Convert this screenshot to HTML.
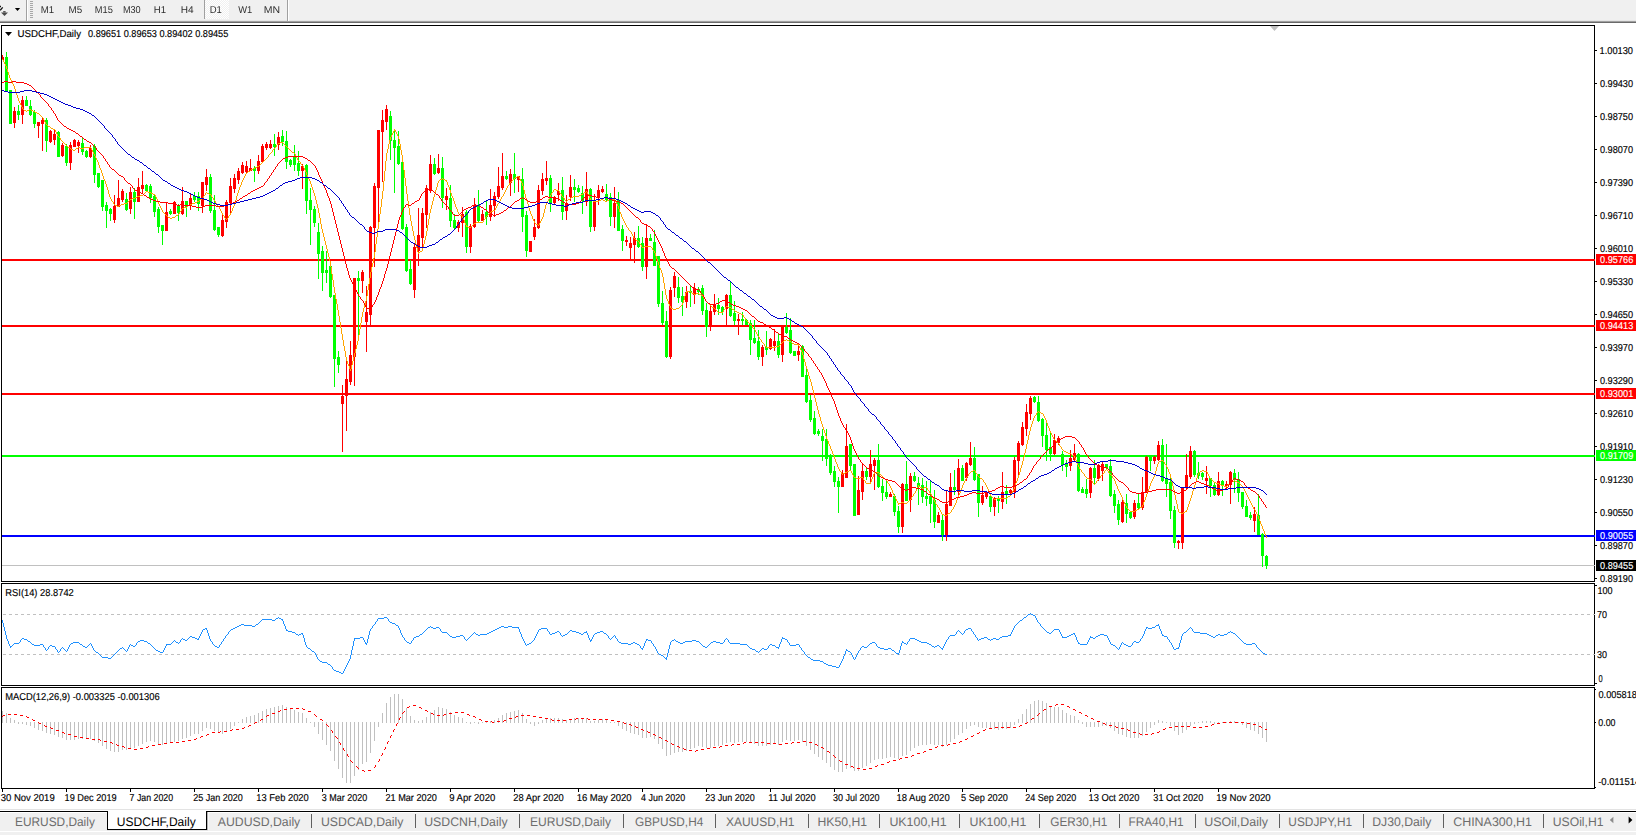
<!DOCTYPE html>
<html><head><meta charset="utf-8"><title>USDCHF,Daily</title>
<style>html,body{margin:0;padding:0;background:#fff;overflow:hidden}svg{display:block}text{white-space:pre;text-rendering:geometricPrecision}</style>
</head><body>
<svg width="1636" height="835" viewBox="0 0 1636 835" font-family="'Liberation Sans',sans-serif"><rect x="0" y="0" width="1636" height="835" fill="#ffffff"/>
<rect x="0" y="0" width="1636" height="20" fill="#F0F0F0"/>
<rect x="0" y="20" width="1636" height="1" fill="#E6E6E6"/>
<rect x="0" y="21" width="1636" height="1" fill="#A0A0A0"/>
<rect x="0" y="22" width="1636" height="1" fill="#6A6A6A"/>
<rect x="26" y="0" width="1" height="21" fill="#A0A0A0"/>
<rect x="27" y="0" width="1" height="21" fill="#FFFFFF"/>
<rect x="287" y="0" width="1" height="21" fill="#A0A0A0"/>
<rect x="288" y="0" width="1" height="21" fill="#FFFFFF"/>
<rect x="204" y="0" width="1" height="19" fill="#A0A0A0"/>
<defs><pattern id="chk" x="0" y="0" width="2" height="2" patternUnits="userSpaceOnUse"><rect width="2" height="2" fill="#F0F0F0"/><rect width="1" height="1" fill="#FFFFFF"/><rect x="1" y="1" width="1" height="1" fill="#FFFFFF"/></pattern></defs>
<rect x="205" y="0" width="24" height="19" fill="url(#chk)" shape-rendering="crispEdges"/>
<rect x="30" y="1" width="3" height="1" fill="#A8A8A8"/>
<rect x="30" y="3" width="3" height="1" fill="#A8A8A8"/>
<rect x="30" y="5" width="3" height="1" fill="#A8A8A8"/>
<rect x="30" y="7" width="3" height="1" fill="#A8A8A8"/>
<rect x="30" y="9" width="3" height="1" fill="#A8A8A8"/>
<rect x="30" y="11" width="3" height="1" fill="#A8A8A8"/>
<rect x="30" y="13" width="3" height="1" fill="#A8A8A8"/>
<rect x="30" y="15" width="3" height="1" fill="#A8A8A8"/>
<rect x="30" y="17" width="3" height="1" fill="#A8A8A8"/>
<path d="M0 6.5 H1 M2.7 7.4 L0.2 10.3" stroke="#111" stroke-width="1.3" fill="none"/>
<path d="M1 12.4 L8 12.4 L4.5 16 Z" fill="#4A4A4A"/><rect x="3.2" y="11.1" width="2.4" height="1.4" fill="#4A4A4A"/>
<path d="M14.9 7.9 L20.1 7.9 L17.5 11 Z" fill="#000"/>
<defs><filter id="nf"><feOffset dx="0" dy="0"/></filter></defs><g filter="url(#nf)">
<text x="40.74" y="13" font-size="10" fill="#2E2E2E" textLength="13.37" lengthAdjust="spacingAndGlyphs" >M1</text>
<text x="68.62" y="13" font-size="10" fill="#2E2E2E" textLength="13.69" lengthAdjust="spacingAndGlyphs" >M5</text>
<text x="94.77" y="13" font-size="10" fill="#2E2E2E" textLength="18.02" lengthAdjust="spacingAndGlyphs" >M15</text>
<text x="122.88" y="13" font-size="10" fill="#2E2E2E" textLength="17.81" lengthAdjust="spacingAndGlyphs" >M30</text>
<text x="153.74" y="13" font-size="10" fill="#2E2E2E" textLength="12.26" lengthAdjust="spacingAndGlyphs" >H1</text>
<text x="180.79" y="13" font-size="10" fill="#2E2E2E" textLength="12.90" lengthAdjust="spacingAndGlyphs" >H4</text>
<text x="209.75" y="13" font-size="10" fill="#2E2E2E" textLength="12.16" lengthAdjust="spacingAndGlyphs" >D1</text>
<text x="238.20" y="13" font-size="10" fill="#2E2E2E" textLength="14.00" lengthAdjust="spacingAndGlyphs" >W1</text>
<text x="263.75" y="13" font-size="10" fill="#2E2E2E" textLength="16.34" lengthAdjust="spacingAndGlyphs" >MN</text>
</g>
<rect x="1.5" y="25.5" width="1593" height="556" fill="none" stroke="#000" stroke-width="1"/>
<rect x="1.5" y="583.5" width="1593" height="102" fill="none" stroke="#000" stroke-width="1"/>
<rect x="1.5" y="687.5" width="1593" height="101" fill="none" stroke="#000" stroke-width="1"/>
<path d="M1270 26 L1279 26 L1274.5 31 Z" fill="#C0C0C0"/>
<defs><clipPath id="cm"><rect x="2" y="26" width="1592" height="555"/></clipPath><clipPath id="cr"><rect x="2" y="584" width="1592" height="101"/></clipPath><clipPath id="cd"><rect x="2" y="688" width="1592" height="100"/></clipPath></defs>
<g shape-rendering="crispEdges">
<rect x="2" y="565" width="1593" height="1" fill="#C0C0C0"/>
<rect x="2" y="259" width="1593" height="2" fill="#FF0000"/>
<rect x="2" y="325" width="1593" height="2" fill="#FF0000"/>
<rect x="2" y="393" width="1593" height="2" fill="#FF0000"/>
<rect x="2" y="455" width="1593" height="2" fill="#00FF00"/>
<rect x="2" y="535" width="1593" height="2" fill="#0000FF"/>
</g>
<g clip-path="url(#cm)" shape-rendering="crispEdges">
<rect x="2" y="55" width="1" height="5" fill="#FF0000"/>
<rect x="1" y="57" width="3" height="3" fill="#FF0000"/>
<rect x="6" y="52" width="1" height="39" fill="#00FF00"/>
<rect x="5" y="57" width="3" height="34" fill="#00FF00"/>
<rect x="10" y="90" width="1" height="34" fill="#00FF00"/>
<rect x="9" y="90" width="3" height="34" fill="#00FF00"/>
<rect x="14" y="107" width="1" height="21" fill="#FF0000"/>
<rect x="13" y="111" width="3" height="12" fill="#FF0000"/>
<rect x="18" y="105" width="1" height="15" fill="#00FF00"/>
<rect x="17" y="111" width="3" height="4" fill="#00FF00"/>
<rect x="22" y="96" width="1" height="28" fill="#FF0000"/>
<rect x="21" y="100" width="3" height="15" fill="#FF0000"/>
<rect x="26" y="96" width="1" height="10" fill="#00FF00"/>
<rect x="25" y="100" width="3" height="6" fill="#00FF00"/>
<rect x="30" y="100" width="1" height="16" fill="#00FF00"/>
<rect x="29" y="106" width="3" height="9" fill="#00FF00"/>
<rect x="34" y="110" width="1" height="18" fill="#00FF00"/>
<rect x="33" y="112" width="3" height="12" fill="#00FF00"/>
<rect x="38" y="122" width="1" height="16" fill="#FF0000"/>
<rect x="37" y="122" width="3" height="4" fill="#FF0000"/>
<rect x="42" y="117" width="1" height="34" fill="#FF0000"/>
<rect x="41" y="120" width="3" height="4" fill="#FF0000"/>
<rect x="46" y="118" width="1" height="34" fill="#00FF00"/>
<rect x="45" y="120" width="3" height="21" fill="#00FF00"/>
<rect x="50" y="130" width="1" height="13" fill="#FF0000"/>
<rect x="49" y="131" width="3" height="11" fill="#FF0000"/>
<rect x="54" y="130" width="1" height="15" fill="#FF0000"/>
<rect x="53" y="134" width="3" height="6" fill="#FF0000"/>
<rect x="58" y="131" width="1" height="26" fill="#00FF00"/>
<rect x="57" y="132" width="3" height="25" fill="#00FF00"/>
<rect x="62" y="143" width="1" height="14" fill="#FF0000"/>
<rect x="61" y="145" width="3" height="11" fill="#FF0000"/>
<rect x="66" y="144" width="1" height="22" fill="#00FF00"/>
<rect x="65" y="146" width="3" height="17" fill="#00FF00"/>
<rect x="70" y="142" width="1" height="28" fill="#FF0000"/>
<rect x="69" y="145" width="3" height="18" fill="#FF0000"/>
<rect x="74" y="139" width="1" height="8" fill="#FF0000"/>
<rect x="73" y="140" width="3" height="7" fill="#FF0000"/>
<rect x="78" y="140" width="1" height="13" fill="#FF0000"/>
<rect x="77" y="142" width="3" height="4" fill="#FF0000"/>
<rect x="82" y="138" width="1" height="17" fill="#00FF00"/>
<rect x="81" y="143" width="3" height="9" fill="#00FF00"/>
<rect x="86" y="150" width="1" height="8" fill="#00FF00"/>
<rect x="85" y="151" width="3" height="6" fill="#00FF00"/>
<rect x="90" y="145" width="1" height="13" fill="#FF0000"/>
<rect x="89" y="148" width="3" height="9" fill="#FF0000"/>
<rect x="94" y="144" width="1" height="39" fill="#00FF00"/>
<rect x="93" y="146" width="3" height="29" fill="#00FF00"/>
<rect x="98" y="173" width="1" height="15" fill="#00FF00"/>
<rect x="97" y="173" width="3" height="14" fill="#00FF00"/>
<rect x="102" y="180" width="1" height="31" fill="#00FF00"/>
<rect x="101" y="180" width="3" height="27" fill="#00FF00"/>
<rect x="106" y="202" width="1" height="26" fill="#00FF00"/>
<rect x="105" y="205" width="3" height="6" fill="#00FF00"/>
<rect x="110" y="208" width="1" height="13" fill="#00FF00"/>
<rect x="109" y="209" width="3" height="5" fill="#00FF00"/>
<rect x="114" y="195" width="1" height="28" fill="#FF0000"/>
<rect x="113" y="206" width="3" height="14" fill="#FF0000"/>
<rect x="118" y="180" width="1" height="27" fill="#FF0000"/>
<rect x="117" y="198" width="3" height="9" fill="#FF0000"/>
<rect x="122" y="189" width="1" height="13" fill="#FF0000"/>
<rect x="121" y="191" width="3" height="9" fill="#FF0000"/>
<rect x="126" y="193" width="1" height="18" fill="#00FF00"/>
<rect x="125" y="199" width="3" height="11" fill="#00FF00"/>
<rect x="130" y="187" width="1" height="27" fill="#FF0000"/>
<rect x="129" y="192" width="3" height="17" fill="#FF0000"/>
<rect x="134" y="188" width="1" height="31" fill="#00FF00"/>
<rect x="133" y="192" width="3" height="10" fill="#00FF00"/>
<rect x="138" y="178" width="1" height="24" fill="#FF0000"/>
<rect x="137" y="187" width="3" height="15" fill="#FF0000"/>
<rect x="142" y="171" width="1" height="23" fill="#FF0000"/>
<rect x="141" y="185" width="3" height="4" fill="#FF0000"/>
<rect x="146" y="184" width="1" height="8" fill="#00FF00"/>
<rect x="145" y="185" width="3" height="6" fill="#00FF00"/>
<rect x="150" y="184" width="1" height="19" fill="#00FF00"/>
<rect x="149" y="186" width="3" height="12" fill="#00FF00"/>
<rect x="154" y="195" width="1" height="22" fill="#00FF00"/>
<rect x="153" y="196" width="3" height="16" fill="#00FF00"/>
<rect x="158" y="207" width="1" height="26" fill="#00FF00"/>
<rect x="157" y="209" width="3" height="18" fill="#00FF00"/>
<rect x="162" y="225" width="1" height="20" fill="#00FF00"/>
<rect x="161" y="225" width="3" height="6" fill="#00FF00"/>
<rect x="166" y="202" width="1" height="29" fill="#FF0000"/>
<rect x="165" y="212" width="3" height="19" fill="#FF0000"/>
<rect x="170" y="209" width="1" height="6" fill="#00FF00"/>
<rect x="169" y="211" width="3" height="3" fill="#00FF00"/>
<rect x="174" y="201" width="1" height="13" fill="#FF0000"/>
<rect x="173" y="202" width="3" height="12" fill="#FF0000"/>
<rect x="178" y="204" width="1" height="17" fill="#00FF00"/>
<rect x="177" y="205" width="3" height="8" fill="#00FF00"/>
<rect x="182" y="187" width="1" height="28" fill="#FF0000"/>
<rect x="181" y="201" width="3" height="13" fill="#FF0000"/>
<rect x="186" y="201" width="1" height="16" fill="#00FF00"/>
<rect x="185" y="201" width="3" height="6" fill="#00FF00"/>
<rect x="190" y="194" width="1" height="16" fill="#FF0000"/>
<rect x="189" y="198" width="3" height="8" fill="#FF0000"/>
<rect x="194" y="192" width="1" height="10" fill="#00FF00"/>
<rect x="193" y="196" width="3" height="4" fill="#00FF00"/>
<rect x="198" y="192" width="1" height="19" fill="#00FF00"/>
<rect x="197" y="196" width="3" height="8" fill="#00FF00"/>
<rect x="202" y="182" width="1" height="31" fill="#FF0000"/>
<rect x="201" y="182" width="3" height="24" fill="#FF0000"/>
<rect x="206" y="169" width="1" height="22" fill="#FF0000"/>
<rect x="205" y="177" width="3" height="8" fill="#FF0000"/>
<rect x="210" y="174" width="1" height="39" fill="#00FF00"/>
<rect x="209" y="177" width="3" height="34" fill="#00FF00"/>
<rect x="214" y="195" width="1" height="36" fill="#00FF00"/>
<rect x="213" y="210" width="3" height="20" fill="#00FF00"/>
<rect x="218" y="227" width="1" height="10" fill="#00FF00"/>
<rect x="217" y="227" width="3" height="8" fill="#00FF00"/>
<rect x="222" y="215" width="1" height="22" fill="#FF0000"/>
<rect x="221" y="220" width="3" height="16" fill="#FF0000"/>
<rect x="226" y="200" width="1" height="28" fill="#FF0000"/>
<rect x="225" y="202" width="3" height="20" fill="#FF0000"/>
<rect x="230" y="178" width="1" height="36" fill="#FF0000"/>
<rect x="229" y="186" width="3" height="17" fill="#FF0000"/>
<rect x="234" y="174" width="1" height="19" fill="#FF0000"/>
<rect x="233" y="178" width="3" height="11" fill="#FF0000"/>
<rect x="238" y="168" width="1" height="16" fill="#FF0000"/>
<rect x="237" y="171" width="3" height="9" fill="#FF0000"/>
<rect x="242" y="162" width="1" height="12" fill="#FF0000"/>
<rect x="241" y="165" width="3" height="8" fill="#FF0000"/>
<rect x="246" y="161" width="1" height="12" fill="#FF0000"/>
<rect x="245" y="166" width="3" height="6" fill="#FF0000"/>
<rect x="250" y="159" width="1" height="12" fill="#FF0000"/>
<rect x="249" y="168" width="3" height="3" fill="#FF0000"/>
<rect x="254" y="166" width="1" height="16" fill="#00FF00"/>
<rect x="253" y="168" width="3" height="3" fill="#00FF00"/>
<rect x="258" y="155" width="1" height="19" fill="#FF0000"/>
<rect x="257" y="161" width="3" height="10" fill="#FF0000"/>
<rect x="262" y="144" width="1" height="19" fill="#FF0000"/>
<rect x="261" y="146" width="3" height="16" fill="#FF0000"/>
<rect x="266" y="142" width="1" height="8" fill="#FF0000"/>
<rect x="265" y="144" width="3" height="4" fill="#FF0000"/>
<rect x="270" y="140" width="1" height="9" fill="#FF0000"/>
<rect x="269" y="144" width="3" height="4" fill="#FF0000"/>
<rect x="274" y="134" width="1" height="22" fill="#00FF00"/>
<rect x="273" y="144" width="3" height="3" fill="#00FF00"/>
<rect x="278" y="132" width="1" height="18" fill="#FF0000"/>
<rect x="277" y="137" width="3" height="8" fill="#FF0000"/>
<rect x="282" y="130" width="1" height="16" fill="#00FF00"/>
<rect x="281" y="136" width="3" height="6" fill="#00FF00"/>
<rect x="286" y="131" width="1" height="38" fill="#00FF00"/>
<rect x="285" y="141" width="3" height="21" fill="#00FF00"/>
<rect x="290" y="159" width="1" height="8" fill="#00FF00"/>
<rect x="289" y="160" width="3" height="5" fill="#00FF00"/>
<rect x="294" y="145" width="1" height="26" fill="#00FF00"/>
<rect x="293" y="157" width="3" height="8" fill="#00FF00"/>
<rect x="298" y="151" width="1" height="25" fill="#00FF00"/>
<rect x="297" y="163" width="3" height="8" fill="#00FF00"/>
<rect x="302" y="164" width="1" height="25" fill="#FF0000"/>
<rect x="301" y="166" width="3" height="5" fill="#FF0000"/>
<rect x="306" y="164" width="1" height="50" fill="#00FF00"/>
<rect x="305" y="165" width="3" height="36" fill="#00FF00"/>
<rect x="310" y="188" width="1" height="57" fill="#00FF00"/>
<rect x="309" y="200" width="3" height="10" fill="#00FF00"/>
<rect x="314" y="206" width="1" height="21" fill="#00FF00"/>
<rect x="313" y="209" width="3" height="14" fill="#00FF00"/>
<rect x="318" y="223" width="1" height="56" fill="#00FF00"/>
<rect x="317" y="232" width="3" height="22" fill="#00FF00"/>
<rect x="322" y="246" width="1" height="45" fill="#00FF00"/>
<rect x="321" y="251" width="3" height="22" fill="#00FF00"/>
<rect x="326" y="251" width="1" height="32" fill="#00FF00"/>
<rect x="325" y="270" width="3" height="3" fill="#00FF00"/>
<rect x="330" y="266" width="1" height="32" fill="#00FF00"/>
<rect x="329" y="266" width="3" height="31" fill="#00FF00"/>
<rect x="334" y="295" width="1" height="92" fill="#00FF00"/>
<rect x="333" y="295" width="3" height="64" fill="#00FF00"/>
<rect x="338" y="351" width="1" height="22" fill="#00FF00"/>
<rect x="337" y="357" width="3" height="8" fill="#00FF00"/>
<rect x="342" y="385" width="1" height="67" fill="#FF0000"/>
<rect x="341" y="396" width="3" height="8" fill="#FF0000"/>
<rect x="346" y="360" width="1" height="71" fill="#FF0000"/>
<rect x="345" y="379" width="3" height="17" fill="#FF0000"/>
<rect x="350" y="341" width="1" height="44" fill="#FF0000"/>
<rect x="349" y="355" width="3" height="27" fill="#FF0000"/>
<rect x="354" y="278" width="1" height="108" fill="#FF0000"/>
<rect x="353" y="278" width="3" height="79" fill="#FF0000"/>
<rect x="358" y="271" width="1" height="64" fill="#00FF00"/>
<rect x="357" y="278" width="3" height="3" fill="#00FF00"/>
<rect x="362" y="270" width="1" height="23" fill="#FF0000"/>
<rect x="361" y="272" width="3" height="9" fill="#FF0000"/>
<rect x="366" y="286" width="1" height="66" fill="#FF0000"/>
<rect x="365" y="312" width="3" height="10" fill="#FF0000"/>
<rect x="370" y="226" width="1" height="100" fill="#FF0000"/>
<rect x="369" y="227" width="3" height="88" fill="#FF0000"/>
<rect x="374" y="183" width="1" height="84" fill="#FF0000"/>
<rect x="373" y="186" width="3" height="42" fill="#FF0000"/>
<rect x="378" y="130" width="1" height="93" fill="#FF0000"/>
<rect x="377" y="130" width="3" height="58" fill="#FF0000"/>
<rect x="382" y="110" width="1" height="72" fill="#FF0000"/>
<rect x="381" y="120" width="3" height="12" fill="#FF0000"/>
<rect x="386" y="105" width="1" height="25" fill="#FF0000"/>
<rect x="385" y="109" width="3" height="13" fill="#FF0000"/>
<rect x="390" y="111" width="1" height="49" fill="#00FF00"/>
<rect x="389" y="116" width="3" height="25" fill="#00FF00"/>
<rect x="394" y="129" width="1" height="64" fill="#00FF00"/>
<rect x="393" y="140" width="3" height="8" fill="#00FF00"/>
<rect x="398" y="131" width="1" height="34" fill="#00FF00"/>
<rect x="397" y="146" width="3" height="18" fill="#00FF00"/>
<rect x="402" y="162" width="1" height="68" fill="#00FF00"/>
<rect x="401" y="162" width="3" height="67" fill="#00FF00"/>
<rect x="406" y="224" width="1" height="48" fill="#00FF00"/>
<rect x="405" y="227" width="3" height="44" fill="#00FF00"/>
<rect x="410" y="260" width="1" height="25" fill="#00FF00"/>
<rect x="409" y="269" width="3" height="15" fill="#00FF00"/>
<rect x="414" y="244" width="1" height="54" fill="#FF0000"/>
<rect x="413" y="247" width="3" height="43" fill="#FF0000"/>
<rect x="418" y="208" width="1" height="58" fill="#FF0000"/>
<rect x="417" y="235" width="3" height="16" fill="#FF0000"/>
<rect x="422" y="208" width="1" height="40" fill="#FF0000"/>
<rect x="421" y="213" width="3" height="25" fill="#FF0000"/>
<rect x="426" y="185" width="1" height="43" fill="#FF0000"/>
<rect x="425" y="188" width="3" height="27" fill="#FF0000"/>
<rect x="430" y="155" width="1" height="38" fill="#FF0000"/>
<rect x="429" y="164" width="3" height="27" fill="#FF0000"/>
<rect x="434" y="158" width="1" height="17" fill="#00FF00"/>
<rect x="433" y="164" width="3" height="10" fill="#00FF00"/>
<rect x="438" y="154" width="1" height="20" fill="#FF0000"/>
<rect x="437" y="168" width="3" height="5" fill="#FF0000"/>
<rect x="442" y="157" width="1" height="51" fill="#00FF00"/>
<rect x="441" y="168" width="3" height="30" fill="#00FF00"/>
<rect x="446" y="188" width="1" height="22" fill="#FF0000"/>
<rect x="445" y="196" width="3" height="4" fill="#FF0000"/>
<rect x="450" y="185" width="1" height="42" fill="#00FF00"/>
<rect x="449" y="198" width="3" height="23" fill="#00FF00"/>
<rect x="454" y="214" width="1" height="15" fill="#00FF00"/>
<rect x="453" y="220" width="3" height="8" fill="#00FF00"/>
<rect x="458" y="220" width="1" height="12" fill="#FF0000"/>
<rect x="457" y="222" width="3" height="6" fill="#FF0000"/>
<rect x="462" y="207" width="1" height="30" fill="#FF0000"/>
<rect x="461" y="214" width="3" height="9" fill="#FF0000"/>
<rect x="466" y="210" width="1" height="43" fill="#00FF00"/>
<rect x="465" y="212" width="3" height="35" fill="#00FF00"/>
<rect x="470" y="224" width="1" height="29" fill="#FF0000"/>
<rect x="469" y="226" width="3" height="21" fill="#FF0000"/>
<rect x="474" y="198" width="1" height="30" fill="#FF0000"/>
<rect x="473" y="205" width="3" height="22" fill="#FF0000"/>
<rect x="478" y="190" width="1" height="33" fill="#00FF00"/>
<rect x="477" y="205" width="3" height="16" fill="#00FF00"/>
<rect x="482" y="210" width="1" height="11" fill="#FF0000"/>
<rect x="481" y="214" width="3" height="7" fill="#FF0000"/>
<rect x="486" y="201" width="1" height="24" fill="#00FF00"/>
<rect x="485" y="212" width="3" height="5" fill="#00FF00"/>
<rect x="490" y="189" width="1" height="32" fill="#FF0000"/>
<rect x="489" y="205" width="3" height="12" fill="#FF0000"/>
<rect x="494" y="192" width="1" height="25" fill="#FF0000"/>
<rect x="493" y="196" width="3" height="10" fill="#FF0000"/>
<rect x="498" y="167" width="1" height="32" fill="#FF0000"/>
<rect x="497" y="186" width="3" height="11" fill="#FF0000"/>
<rect x="502" y="153" width="1" height="37" fill="#FF0000"/>
<rect x="501" y="176" width="3" height="12" fill="#FF0000"/>
<rect x="506" y="171" width="1" height="9" fill="#00FF00"/>
<rect x="505" y="176" width="3" height="3" fill="#00FF00"/>
<rect x="510" y="169" width="1" height="27" fill="#FF0000"/>
<rect x="509" y="174" width="3" height="9" fill="#FF0000"/>
<rect x="514" y="153" width="1" height="40" fill="#00FF00"/>
<rect x="513" y="174" width="3" height="5" fill="#00FF00"/>
<rect x="518" y="176" width="1" height="16" fill="#FF0000"/>
<rect x="517" y="176" width="3" height="4" fill="#FF0000"/>
<rect x="522" y="168" width="1" height="64" fill="#00FF00"/>
<rect x="521" y="179" width="3" height="38" fill="#00FF00"/>
<rect x="526" y="211" width="1" height="46" fill="#00FF00"/>
<rect x="525" y="215" width="3" height="36" fill="#00FF00"/>
<rect x="530" y="241" width="1" height="11" fill="#FF0000"/>
<rect x="529" y="241" width="3" height="11" fill="#FF0000"/>
<rect x="534" y="219" width="1" height="21" fill="#FF0000"/>
<rect x="533" y="227" width="3" height="10" fill="#FF0000"/>
<rect x="538" y="185" width="1" height="44" fill="#FF0000"/>
<rect x="537" y="190" width="3" height="38" fill="#FF0000"/>
<rect x="542" y="173" width="1" height="22" fill="#FF0000"/>
<rect x="541" y="179" width="3" height="12" fill="#FF0000"/>
<rect x="546" y="161" width="1" height="24" fill="#FF0000"/>
<rect x="545" y="178" width="3" height="3" fill="#FF0000"/>
<rect x="550" y="175" width="1" height="37" fill="#00FF00"/>
<rect x="549" y="178" width="3" height="25" fill="#00FF00"/>
<rect x="554" y="196" width="1" height="8" fill="#FF0000"/>
<rect x="553" y="197" width="3" height="6" fill="#FF0000"/>
<rect x="558" y="183" width="1" height="18" fill="#FF0000"/>
<rect x="557" y="191" width="3" height="4" fill="#FF0000"/>
<rect x="562" y="177" width="1" height="43" fill="#00FF00"/>
<rect x="561" y="190" width="3" height="22" fill="#00FF00"/>
<rect x="566" y="195" width="1" height="25" fill="#FF0000"/>
<rect x="565" y="203" width="3" height="8" fill="#FF0000"/>
<rect x="570" y="175" width="1" height="26" fill="#FF0000"/>
<rect x="569" y="187" width="3" height="10" fill="#FF0000"/>
<rect x="574" y="179" width="1" height="23" fill="#00FF00"/>
<rect x="573" y="187" width="3" height="3" fill="#00FF00"/>
<rect x="578" y="185" width="1" height="8" fill="#00FF00"/>
<rect x="577" y="188" width="3" height="4" fill="#00FF00"/>
<rect x="582" y="186" width="1" height="28" fill="#00FF00"/>
<rect x="581" y="193" width="3" height="8" fill="#00FF00"/>
<rect x="586" y="172" width="1" height="34" fill="#FF0000"/>
<rect x="585" y="189" width="3" height="13" fill="#FF0000"/>
<rect x="590" y="188" width="1" height="44" fill="#00FF00"/>
<rect x="589" y="189" width="3" height="38" fill="#00FF00"/>
<rect x="594" y="194" width="1" height="37" fill="#FF0000"/>
<rect x="593" y="200" width="3" height="27" fill="#FF0000"/>
<rect x="598" y="185" width="1" height="20" fill="#FF0000"/>
<rect x="597" y="190" width="3" height="7" fill="#FF0000"/>
<rect x="602" y="186" width="1" height="7" fill="#FF0000"/>
<rect x="601" y="189" width="3" height="3" fill="#FF0000"/>
<rect x="606" y="184" width="1" height="18" fill="#00FF00"/>
<rect x="605" y="194" width="3" height="6" fill="#00FF00"/>
<rect x="610" y="193" width="1" height="33" fill="#00FF00"/>
<rect x="609" y="197" width="3" height="20" fill="#00FF00"/>
<rect x="614" y="187" width="1" height="41" fill="#FF0000"/>
<rect x="613" y="203" width="3" height="14" fill="#FF0000"/>
<rect x="618" y="192" width="1" height="39" fill="#00FF00"/>
<rect x="617" y="200" width="3" height="31" fill="#00FF00"/>
<rect x="622" y="225" width="1" height="26" fill="#00FF00"/>
<rect x="621" y="229" width="3" height="12" fill="#00FF00"/>
<rect x="626" y="236" width="1" height="10" fill="#FF0000"/>
<rect x="625" y="240" width="3" height="2" fill="#FF0000"/>
<rect x="630" y="237" width="1" height="22" fill="#FF0000"/>
<rect x="629" y="243" width="3" height="5" fill="#FF0000"/>
<rect x="634" y="232" width="1" height="31" fill="#FF0000"/>
<rect x="633" y="238" width="3" height="7" fill="#FF0000"/>
<rect x="638" y="226" width="1" height="22" fill="#00FF00"/>
<rect x="637" y="238" width="3" height="9" fill="#00FF00"/>
<rect x="642" y="237" width="1" height="34" fill="#00FF00"/>
<rect x="641" y="243" width="3" height="24" fill="#00FF00"/>
<rect x="646" y="225" width="1" height="54" fill="#FF0000"/>
<rect x="645" y="238" width="3" height="29" fill="#FF0000"/>
<rect x="650" y="234" width="1" height="7" fill="#00FF00"/>
<rect x="649" y="238" width="3" height="3" fill="#00FF00"/>
<rect x="654" y="230" width="1" height="36" fill="#00FF00"/>
<rect x="653" y="242" width="3" height="24" fill="#00FF00"/>
<rect x="658" y="256" width="1" height="51" fill="#00FF00"/>
<rect x="657" y="256" width="3" height="48" fill="#00FF00"/>
<rect x="662" y="291" width="1" height="34" fill="#00FF00"/>
<rect x="661" y="303" width="3" height="20" fill="#00FF00"/>
<rect x="666" y="311" width="1" height="47" fill="#00FF00"/>
<rect x="665" y="321" width="3" height="36" fill="#00FF00"/>
<rect x="670" y="287" width="1" height="72" fill="#FF0000"/>
<rect x="669" y="290" width="3" height="67" fill="#FF0000"/>
<rect x="674" y="272" width="1" height="25" fill="#FF0000"/>
<rect x="673" y="276" width="3" height="12" fill="#FF0000"/>
<rect x="678" y="277" width="1" height="26" fill="#00FF00"/>
<rect x="677" y="287" width="3" height="11" fill="#00FF00"/>
<rect x="682" y="287" width="1" height="29" fill="#00FF00"/>
<rect x="681" y="296" width="3" height="6" fill="#00FF00"/>
<rect x="686" y="286" width="1" height="22" fill="#FF0000"/>
<rect x="685" y="292" width="3" height="10" fill="#FF0000"/>
<rect x="690" y="286" width="1" height="21" fill="#00FF00"/>
<rect x="689" y="291" width="3" height="2" fill="#00FF00"/>
<rect x="694" y="283" width="1" height="21" fill="#FF0000"/>
<rect x="693" y="288" width="3" height="7" fill="#FF0000"/>
<rect x="698" y="287" width="1" height="8" fill="#00FF00"/>
<rect x="697" y="289" width="3" height="3" fill="#00FF00"/>
<rect x="702" y="285" width="1" height="30" fill="#00FF00"/>
<rect x="701" y="288" width="3" height="23" fill="#00FF00"/>
<rect x="706" y="303" width="1" height="34" fill="#00FF00"/>
<rect x="705" y="310" width="3" height="17" fill="#00FF00"/>
<rect x="710" y="304" width="1" height="27" fill="#FF0000"/>
<rect x="709" y="311" width="3" height="16" fill="#FF0000"/>
<rect x="714" y="294" width="1" height="21" fill="#FF0000"/>
<rect x="713" y="304" width="3" height="8" fill="#FF0000"/>
<rect x="718" y="298" width="1" height="17" fill="#00FF00"/>
<rect x="717" y="305" width="3" height="4" fill="#00FF00"/>
<rect x="722" y="306" width="1" height="9" fill="#00FF00"/>
<rect x="721" y="307" width="3" height="5" fill="#00FF00"/>
<rect x="726" y="294" width="1" height="32" fill="#FF0000"/>
<rect x="725" y="295" width="3" height="14" fill="#FF0000"/>
<rect x="730" y="282" width="1" height="35" fill="#00FF00"/>
<rect x="729" y="295" width="3" height="21" fill="#00FF00"/>
<rect x="734" y="301" width="1" height="24" fill="#00FF00"/>
<rect x="733" y="313" width="3" height="8" fill="#00FF00"/>
<rect x="738" y="314" width="1" height="21" fill="#FF0000"/>
<rect x="737" y="319" width="3" height="2" fill="#FF0000"/>
<rect x="742" y="312" width="1" height="13" fill="#00FF00"/>
<rect x="741" y="319" width="3" height="2" fill="#00FF00"/>
<rect x="746" y="319" width="1" height="6" fill="#00FF00"/>
<rect x="745" y="320" width="3" height="5" fill="#00FF00"/>
<rect x="750" y="320" width="1" height="35" fill="#00FF00"/>
<rect x="749" y="323" width="3" height="17" fill="#00FF00"/>
<rect x="754" y="320" width="1" height="24" fill="#00FF00"/>
<rect x="753" y="338" width="3" height="5" fill="#00FF00"/>
<rect x="758" y="330" width="1" height="30" fill="#00FF00"/>
<rect x="757" y="341" width="3" height="16" fill="#00FF00"/>
<rect x="762" y="345" width="1" height="21" fill="#FF0000"/>
<rect x="761" y="347" width="3" height="10" fill="#FF0000"/>
<rect x="766" y="331" width="1" height="24" fill="#00FF00"/>
<rect x="765" y="347" width="3" height="3" fill="#00FF00"/>
<rect x="770" y="338" width="1" height="12" fill="#FF0000"/>
<rect x="769" y="339" width="3" height="10" fill="#FF0000"/>
<rect x="774" y="329" width="1" height="22" fill="#FF0000"/>
<rect x="773" y="341" width="3" height="5" fill="#FF0000"/>
<rect x="778" y="334" width="1" height="24" fill="#00FF00"/>
<rect x="777" y="341" width="3" height="14" fill="#00FF00"/>
<rect x="782" y="327" width="1" height="35" fill="#FF0000"/>
<rect x="781" y="327" width="3" height="28" fill="#FF0000"/>
<rect x="786" y="313" width="1" height="21" fill="#00FF00"/>
<rect x="785" y="327" width="3" height="6" fill="#00FF00"/>
<rect x="790" y="318" width="1" height="36" fill="#00FF00"/>
<rect x="789" y="330" width="3" height="23" fill="#00FF00"/>
<rect x="794" y="351" width="1" height="5" fill="#00FF00"/>
<rect x="793" y="351" width="3" height="5" fill="#00FF00"/>
<rect x="798" y="345" width="1" height="16" fill="#FF0000"/>
<rect x="797" y="351" width="3" height="4" fill="#FF0000"/>
<rect x="802" y="345" width="1" height="32" fill="#00FF00"/>
<rect x="801" y="346" width="3" height="31" fill="#00FF00"/>
<rect x="806" y="369" width="1" height="34" fill="#00FF00"/>
<rect x="805" y="375" width="3" height="27" fill="#00FF00"/>
<rect x="810" y="395" width="1" height="27" fill="#00FF00"/>
<rect x="809" y="400" width="3" height="20" fill="#00FF00"/>
<rect x="814" y="411" width="1" height="24" fill="#00FF00"/>
<rect x="813" y="418" width="3" height="16" fill="#00FF00"/>
<rect x="818" y="429" width="1" height="7" fill="#00FF00"/>
<rect x="817" y="431" width="3" height="3" fill="#00FF00"/>
<rect x="822" y="429" width="1" height="32" fill="#00FF00"/>
<rect x="821" y="436" width="3" height="5" fill="#00FF00"/>
<rect x="826" y="429" width="1" height="37" fill="#00FF00"/>
<rect x="825" y="439" width="3" height="20" fill="#00FF00"/>
<rect x="830" y="454" width="1" height="21" fill="#00FF00"/>
<rect x="829" y="455" width="3" height="18" fill="#00FF00"/>
<rect x="834" y="466" width="1" height="21" fill="#00FF00"/>
<rect x="833" y="471" width="3" height="11" fill="#00FF00"/>
<rect x="838" y="477" width="1" height="36" fill="#00FF00"/>
<rect x="837" y="481" width="3" height="6" fill="#00FF00"/>
<rect x="842" y="470" width="1" height="17" fill="#FF0000"/>
<rect x="841" y="473" width="3" height="14" fill="#FF0000"/>
<rect x="846" y="424" width="1" height="54" fill="#FF0000"/>
<rect x="845" y="446" width="3" height="32" fill="#FF0000"/>
<rect x="850" y="444" width="1" height="26" fill="#00FF00"/>
<rect x="849" y="444" width="3" height="22" fill="#00FF00"/>
<rect x="854" y="464" width="1" height="52" fill="#00FF00"/>
<rect x="853" y="464" width="3" height="52" fill="#00FF00"/>
<rect x="858" y="476" width="1" height="39" fill="#FF0000"/>
<rect x="857" y="490" width="3" height="25" fill="#FF0000"/>
<rect x="862" y="463" width="1" height="37" fill="#FF0000"/>
<rect x="861" y="471" width="3" height="21" fill="#FF0000"/>
<rect x="866" y="467" width="1" height="13" fill="#00FF00"/>
<rect x="865" y="471" width="3" height="6" fill="#00FF00"/>
<rect x="870" y="450" width="1" height="32" fill="#FF0000"/>
<rect x="869" y="464" width="3" height="13" fill="#FF0000"/>
<rect x="874" y="458" width="1" height="32" fill="#FF0000"/>
<rect x="873" y="460" width="3" height="6" fill="#FF0000"/>
<rect x="878" y="444" width="1" height="44" fill="#00FF00"/>
<rect x="877" y="460" width="3" height="27" fill="#00FF00"/>
<rect x="882" y="479" width="1" height="22" fill="#00FF00"/>
<rect x="881" y="486" width="3" height="7" fill="#00FF00"/>
<rect x="886" y="481" width="1" height="18" fill="#00FF00"/>
<rect x="885" y="492" width="3" height="5" fill="#00FF00"/>
<rect x="890" y="492" width="1" height="5" fill="#FF0000"/>
<rect x="889" y="494" width="3" height="3" fill="#FF0000"/>
<rect x="894" y="494" width="1" height="22" fill="#00FF00"/>
<rect x="893" y="496" width="3" height="16" fill="#00FF00"/>
<rect x="898" y="506" width="1" height="27" fill="#00FF00"/>
<rect x="897" y="511" width="3" height="16" fill="#00FF00"/>
<rect x="902" y="483" width="1" height="50" fill="#FF0000"/>
<rect x="901" y="484" width="3" height="43" fill="#FF0000"/>
<rect x="906" y="461" width="1" height="40" fill="#00FF00"/>
<rect x="905" y="484" width="3" height="17" fill="#00FF00"/>
<rect x="910" y="473" width="1" height="39" fill="#FF0000"/>
<rect x="909" y="476" width="3" height="24" fill="#FF0000"/>
<rect x="914" y="472" width="1" height="10" fill="#00FF00"/>
<rect x="913" y="476" width="3" height="5" fill="#00FF00"/>
<rect x="918" y="477" width="1" height="28" fill="#00FF00"/>
<rect x="917" y="483" width="3" height="4" fill="#00FF00"/>
<rect x="922" y="478" width="1" height="25" fill="#00FF00"/>
<rect x="921" y="485" width="3" height="12" fill="#00FF00"/>
<rect x="926" y="481" width="1" height="25" fill="#00FF00"/>
<rect x="925" y="496" width="3" height="3" fill="#00FF00"/>
<rect x="930" y="480" width="1" height="43" fill="#00FF00"/>
<rect x="929" y="496" width="3" height="8" fill="#00FF00"/>
<rect x="934" y="490" width="1" height="38" fill="#00FF00"/>
<rect x="933" y="500" width="3" height="22" fill="#00FF00"/>
<rect x="938" y="512" width="1" height="11" fill="#FF0000"/>
<rect x="937" y="515" width="3" height="8" fill="#FF0000"/>
<rect x="942" y="514" width="1" height="27" fill="#00FF00"/>
<rect x="941" y="520" width="3" height="15" fill="#00FF00"/>
<rect x="946" y="490" width="1" height="51" fill="#FF0000"/>
<rect x="945" y="504" width="3" height="31" fill="#FF0000"/>
<rect x="950" y="473" width="1" height="33" fill="#FF0000"/>
<rect x="949" y="487" width="3" height="19" fill="#FF0000"/>
<rect x="954" y="470" width="1" height="25" fill="#00FF00"/>
<rect x="953" y="487" width="3" height="3" fill="#00FF00"/>
<rect x="958" y="459" width="1" height="36" fill="#FF0000"/>
<rect x="957" y="468" width="3" height="24" fill="#FF0000"/>
<rect x="962" y="465" width="1" height="16" fill="#00FF00"/>
<rect x="961" y="468" width="3" height="13" fill="#00FF00"/>
<rect x="966" y="462" width="1" height="19" fill="#FF0000"/>
<rect x="965" y="463" width="3" height="15" fill="#FF0000"/>
<rect x="970" y="442" width="1" height="24" fill="#FF0000"/>
<rect x="969" y="458" width="3" height="7" fill="#FF0000"/>
<rect x="974" y="447" width="1" height="34" fill="#00FF00"/>
<rect x="973" y="458" width="3" height="22" fill="#00FF00"/>
<rect x="978" y="474" width="1" height="43" fill="#00FF00"/>
<rect x="977" y="474" width="3" height="29" fill="#00FF00"/>
<rect x="982" y="486" width="1" height="19" fill="#FF0000"/>
<rect x="981" y="495" width="3" height="8" fill="#FF0000"/>
<rect x="986" y="491" width="1" height="8" fill="#FF0000"/>
<rect x="985" y="492" width="3" height="5" fill="#FF0000"/>
<rect x="990" y="496" width="1" height="16" fill="#00FF00"/>
<rect x="989" y="496" width="3" height="11" fill="#00FF00"/>
<rect x="994" y="497" width="1" height="19" fill="#FF0000"/>
<rect x="993" y="498" width="3" height="9" fill="#FF0000"/>
<rect x="998" y="496" width="1" height="17" fill="#00FF00"/>
<rect x="997" y="498" width="3" height="3" fill="#00FF00"/>
<rect x="1002" y="472" width="1" height="37" fill="#FF0000"/>
<rect x="1001" y="492" width="3" height="10" fill="#FF0000"/>
<rect x="1006" y="485" width="1" height="19" fill="#00FF00"/>
<rect x="1005" y="491" width="3" height="4" fill="#00FF00"/>
<rect x="1010" y="489" width="1" height="5" fill="#FF0000"/>
<rect x="1009" y="490" width="3" height="3" fill="#FF0000"/>
<rect x="1014" y="457" width="1" height="41" fill="#FF0000"/>
<rect x="1013" y="460" width="3" height="32" fill="#FF0000"/>
<rect x="1018" y="441" width="1" height="34" fill="#FF0000"/>
<rect x="1017" y="443" width="3" height="18" fill="#FF0000"/>
<rect x="1022" y="422" width="1" height="24" fill="#FF0000"/>
<rect x="1021" y="427" width="3" height="18" fill="#FF0000"/>
<rect x="1026" y="404" width="1" height="32" fill="#FF0000"/>
<rect x="1025" y="412" width="3" height="17" fill="#FF0000"/>
<rect x="1030" y="396" width="1" height="24" fill="#FF0000"/>
<rect x="1029" y="398" width="3" height="16" fill="#FF0000"/>
<rect x="1034" y="396" width="1" height="7" fill="#00FF00"/>
<rect x="1033" y="397" width="3" height="5" fill="#00FF00"/>
<rect x="1038" y="396" width="1" height="26" fill="#00FF00"/>
<rect x="1037" y="402" width="3" height="19" fill="#00FF00"/>
<rect x="1042" y="418" width="1" height="29" fill="#00FF00"/>
<rect x="1041" y="419" width="3" height="17" fill="#00FF00"/>
<rect x="1046" y="423" width="1" height="38" fill="#00FF00"/>
<rect x="1045" y="435" width="3" height="15" fill="#00FF00"/>
<rect x="1050" y="433" width="1" height="28" fill="#00FF00"/>
<rect x="1049" y="447" width="3" height="7" fill="#00FF00"/>
<rect x="1054" y="434" width="1" height="21" fill="#FF0000"/>
<rect x="1053" y="440" width="3" height="14" fill="#FF0000"/>
<rect x="1058" y="436" width="1" height="9" fill="#FF0000"/>
<rect x="1057" y="438" width="3" height="5" fill="#FF0000"/>
<rect x="1062" y="451" width="1" height="20" fill="#00FF00"/>
<rect x="1061" y="454" width="3" height="11" fill="#00FF00"/>
<rect x="1066" y="460" width="1" height="17" fill="#00FF00"/>
<rect x="1065" y="464" width="3" height="3" fill="#00FF00"/>
<rect x="1070" y="450" width="1" height="21" fill="#FF0000"/>
<rect x="1069" y="458" width="3" height="8" fill="#FF0000"/>
<rect x="1074" y="444" width="1" height="17" fill="#FF0000"/>
<rect x="1073" y="453" width="3" height="7" fill="#FF0000"/>
<rect x="1078" y="453" width="1" height="39" fill="#00FF00"/>
<rect x="1077" y="454" width="3" height="37" fill="#00FF00"/>
<rect x="1082" y="487" width="1" height="6" fill="#00FF00"/>
<rect x="1081" y="489" width="3" height="4" fill="#00FF00"/>
<rect x="1086" y="479" width="1" height="19" fill="#00FF00"/>
<rect x="1085" y="489" width="3" height="5" fill="#00FF00"/>
<rect x="1090" y="467" width="1" height="31" fill="#FF0000"/>
<rect x="1089" y="468" width="3" height="25" fill="#FF0000"/>
<rect x="1094" y="460" width="1" height="25" fill="#00FF00"/>
<rect x="1093" y="468" width="3" height="10" fill="#00FF00"/>
<rect x="1098" y="464" width="1" height="17" fill="#FF0000"/>
<rect x="1097" y="466" width="3" height="13" fill="#FF0000"/>
<rect x="1102" y="462" width="1" height="19" fill="#FF0000"/>
<rect x="1101" y="464" width="3" height="7" fill="#FF0000"/>
<rect x="1106" y="464" width="1" height="5" fill="#00FF00"/>
<rect x="1105" y="464" width="3" height="4" fill="#00FF00"/>
<rect x="1110" y="459" width="1" height="38" fill="#00FF00"/>
<rect x="1109" y="466" width="3" height="30" fill="#00FF00"/>
<rect x="1114" y="490" width="1" height="23" fill="#00FF00"/>
<rect x="1113" y="494" width="3" height="12" fill="#00FF00"/>
<rect x="1118" y="500" width="1" height="25" fill="#00FF00"/>
<rect x="1117" y="504" width="3" height="16" fill="#00FF00"/>
<rect x="1122" y="500" width="1" height="23" fill="#FF0000"/>
<rect x="1121" y="502" width="3" height="20" fill="#FF0000"/>
<rect x="1126" y="494" width="1" height="29" fill="#00FF00"/>
<rect x="1125" y="503" width="3" height="11" fill="#00FF00"/>
<rect x="1130" y="511" width="1" height="8" fill="#00FF00"/>
<rect x="1129" y="512" width="3" height="6" fill="#00FF00"/>
<rect x="1134" y="500" width="1" height="19" fill="#FF0000"/>
<rect x="1133" y="503" width="3" height="14" fill="#FF0000"/>
<rect x="1138" y="493" width="1" height="16" fill="#00FF00"/>
<rect x="1137" y="503" width="3" height="5" fill="#00FF00"/>
<rect x="1142" y="477" width="1" height="33" fill="#FF0000"/>
<rect x="1141" y="492" width="3" height="16" fill="#FF0000"/>
<rect x="1146" y="456" width="1" height="37" fill="#FF0000"/>
<rect x="1145" y="457" width="3" height="36" fill="#FF0000"/>
<rect x="1150" y="456" width="1" height="15" fill="#00FF00"/>
<rect x="1149" y="457" width="3" height="4" fill="#00FF00"/>
<rect x="1154" y="456" width="1" height="8" fill="#FF0000"/>
<rect x="1153" y="457" width="3" height="4" fill="#FF0000"/>
<rect x="1158" y="441" width="1" height="20" fill="#FF0000"/>
<rect x="1157" y="445" width="3" height="15" fill="#FF0000"/>
<rect x="1162" y="439" width="1" height="43" fill="#00FF00"/>
<rect x="1161" y="445" width="3" height="36" fill="#00FF00"/>
<rect x="1166" y="444" width="1" height="53" fill="#00FF00"/>
<rect x="1165" y="479" width="3" height="5" fill="#00FF00"/>
<rect x="1170" y="478" width="1" height="41" fill="#00FF00"/>
<rect x="1169" y="482" width="3" height="29" fill="#00FF00"/>
<rect x="1174" y="506" width="1" height="42" fill="#00FF00"/>
<rect x="1173" y="510" width="3" height="33" fill="#00FF00"/>
<rect x="1178" y="540" width="1" height="9" fill="#FF0000"/>
<rect x="1177" y="541" width="3" height="2" fill="#FF0000"/>
<rect x="1182" y="487" width="1" height="62" fill="#FF0000"/>
<rect x="1181" y="487" width="3" height="56" fill="#FF0000"/>
<rect x="1186" y="454" width="1" height="35" fill="#FF0000"/>
<rect x="1185" y="475" width="3" height="13" fill="#FF0000"/>
<rect x="1190" y="446" width="1" height="33" fill="#FF0000"/>
<rect x="1189" y="451" width="3" height="26" fill="#FF0000"/>
<rect x="1194" y="450" width="1" height="27" fill="#00FF00"/>
<rect x="1193" y="451" width="3" height="24" fill="#00FF00"/>
<rect x="1198" y="462" width="1" height="17" fill="#00FF00"/>
<rect x="1197" y="473" width="3" height="3" fill="#00FF00"/>
<rect x="1202" y="472" width="1" height="8" fill="#00FF00"/>
<rect x="1201" y="473" width="3" height="4" fill="#00FF00"/>
<rect x="1206" y="466" width="1" height="28" fill="#FF0000"/>
<rect x="1205" y="478" width="3" height="3" fill="#FF0000"/>
<rect x="1210" y="478" width="1" height="19" fill="#00FF00"/>
<rect x="1209" y="478" width="3" height="8" fill="#00FF00"/>
<rect x="1214" y="482" width="1" height="14" fill="#00FF00"/>
<rect x="1213" y="485" width="3" height="10" fill="#00FF00"/>
<rect x="1218" y="472" width="1" height="24" fill="#FF0000"/>
<rect x="1217" y="481" width="3" height="14" fill="#FF0000"/>
<rect x="1222" y="480" width="1" height="16" fill="#00FF00"/>
<rect x="1221" y="481" width="3" height="5" fill="#00FF00"/>
<rect x="1226" y="481" width="1" height="7" fill="#FF0000"/>
<rect x="1225" y="484" width="3" height="2" fill="#FF0000"/>
<rect x="1230" y="471" width="1" height="33" fill="#FF0000"/>
<rect x="1229" y="472" width="3" height="13" fill="#FF0000"/>
<rect x="1234" y="469" width="1" height="24" fill="#00FF00"/>
<rect x="1233" y="473" width="3" height="7" fill="#00FF00"/>
<rect x="1238" y="472" width="1" height="30" fill="#00FF00"/>
<rect x="1237" y="479" width="3" height="14" fill="#00FF00"/>
<rect x="1242" y="492" width="1" height="17" fill="#00FF00"/>
<rect x="1241" y="492" width="3" height="15" fill="#00FF00"/>
<rect x="1246" y="500" width="1" height="17" fill="#00FF00"/>
<rect x="1245" y="506" width="3" height="11" fill="#00FF00"/>
<rect x="1250" y="512" width="1" height="8" fill="#00FF00"/>
<rect x="1249" y="515" width="3" height="3" fill="#00FF00"/>
<rect x="1254" y="507" width="1" height="25" fill="#FF0000"/>
<rect x="1253" y="514" width="3" height="7" fill="#FF0000"/>
<rect x="1258" y="494" width="1" height="41" fill="#00FF00"/>
<rect x="1257" y="515" width="3" height="20" fill="#00FF00"/>
<rect x="1262" y="533" width="1" height="34" fill="#00FF00"/>
<rect x="1261" y="534" width="3" height="22" fill="#00FF00"/>
<rect x="1266" y="555" width="1" height="14" fill="#00FF00"/>
<rect x="1265" y="556" width="3" height="10" fill="#00FF00"/>
</g>
<g clip-path="url(#cm)" shape-rendering="crispEdges">
<path d="M2 59h1v1h-1zM3 60h1v2h-1zM4 62h1v2h-1zM5 64h1v2h-1zM6 66h1v3h-1zM7 69h1v3h-1zM8 72h1v3h-1zM9 75h1v3h-1zM10 78h1v2h-1zM11 80h1v2h-1zM12 82h1v2h-1zM13 84h1v2h-1zM14 86h1v3h-1zM15 89h1v3h-1zM16 92h1v3h-1zM17 95h1v3h-1zM18 98h1v3h-1zM19 101h1v2h-1zM20 103h1v2h-1zM21 105h1v2h-1zM22 107h1v2h-1zM23 109h1v1h-1zM29 109h2v1h-2zM24 110h2v1h-2zM27 110h2v1h-2zM31 110h2v1h-2zM26 111h1v1h-1zM33 111h2v1h-2zM35 112h2v1h-2zM37 113h2v1h-2zM39 114h1v1h-1zM40 115h1v1h-1zM41 116h1v1h-1zM42 117h1v1h-1zM43 118h1v2h-1zM44 120h1v2h-1zM45 122h1v2h-1zM46 124h1v1h-1zM47 125h1v1h-1zM48 126h2v1h-2zM50 127h1v1h-1zM51 128h2v1h-2zM53 129h2v1h-2zM394 129h1v2h-1zM55 130h1v2h-1zM395 130h1v2h-1zM393 131h1v2h-1zM56 132h1v2h-1zM396 132h1v2h-1zM392 133h1v2h-1zM57 134h1v2h-1zM397 134h1v2h-1zM391 135h1v2h-1zM58 136h1v1h-1zM398 136h1v3h-1zM59 137h1v1h-1zM390 137h1v3h-1zM60 138h1v2h-1zM399 139h1v5h-1zM61 140h1v1h-1zM389 140h1v4h-1zM62 141h1v1h-1zM63 142h1v1h-1zM280 142h3v1h-3zM64 143h1v1h-1zM278 143h2v1h-2zM283 143h1v1h-1zM65 144h1v1h-1zM277 144h1v1h-1zM284 144h1v1h-1zM388 144h1v5h-1zM400 144h1v6h-1zM66 145h1v1h-1zM285 145h1v1h-1zM276 145h1v2h-1zM67 146h1v1h-1zM286 146h1v1h-1zM68 147h2v1h-2zM78 147h2v1h-2zM84 147h7v1h-7zM275 147h1v1h-1zM287 147h1v1h-1zM70 148h1v1h-1zM76 148h2v1h-2zM80 148h4v1h-4zM274 148h1v1h-1zM288 148h1v1h-1zM91 148h1v2h-1zM71 149h2v1h-2zM75 149h1v1h-1zM273 149h1v1h-1zM289 149h1v1h-1zM387 149h1v4h-1zM73 150h2v1h-2zM290 150h1v1h-1zM92 150h1v2h-1zM272 150h1v2h-1zM401 150h1v5h-1zM291 151h1v1h-1zM271 152h1v1h-1zM292 152h2v1h-2zM93 152h1v2h-1zM270 153h1v1h-1zM294 153h1v1h-1zM386 153h1v8h-1zM269 154h1v1h-1zM94 154h1v2h-1zM295 154h1v2h-1zM268 155h1v2h-1zM402 155h1v7h-1zM95 156h1v2h-1zM296 156h1v2h-1zM267 157h1v1h-1zM266 158h1v1h-1zM96 158h1v2h-1zM297 158h1v2h-1zM265 159h1v1h-1zM264 160h1v1h-1zM298 160h1v1h-1zM97 160h1v2h-1zM263 161h1v1h-1zM299 161h1v1h-1zM385 161h1v10h-1zM262 162h1v1h-1zM300 162h1v2h-1zM98 162h1v3h-1zM403 162h1v8h-1zM261 163h1v1h-1zM260 164h1v1h-1zM301 164h1v1h-1zM259 165h1v1h-1zM302 165h1v1h-1zM99 165h1v3h-1zM257 166h2v1h-2zM303 166h1v2h-1zM255 167h2v1h-2zM253 168h2v1h-2zM100 168h1v2h-1zM304 168h1v2h-1zM251 169h2v1h-2zM250 170h1v1h-1zM305 170h1v2h-1zM101 170h1v3h-1zM404 170h1v8h-1zM248 171h2v1h-2zM384 171h1v10h-1zM247 172h1v1h-1zM306 172h1v3h-1zM246 173h1v1h-1zM102 173h1v3h-1zM245 174h1v2h-1zM307 175h1v2h-1zM517 176h2v1h-2zM244 176h1v2h-1zM103 176h1v3h-1zM515 177h2v1h-2zM308 177h1v2h-1zM519 177h1v2h-1zM442 178h1v1h-1zM514 178h1v1h-1zM243 178h1v2h-1zM405 178h1v8h-1zM440 179h2v1h-2zM443 179h2v1h-2zM513 179h1v1h-1zM104 179h1v2h-1zM309 179h1v2h-1zM520 179h1v2h-1zM439 180h1v1h-1zM445 180h1v1h-1zM512 180h1v1h-1zM242 180h1v2h-1zM446 180h1v2h-1zM511 181h1v1h-1zM438 181h1v2h-1zM521 181h1v2h-1zM105 181h1v3h-1zM310 181h1v3h-1zM383 181h1v10h-1zM510 182h1v1h-1zM241 182h1v3h-1zM447 182h1v3h-1zM509 183h1v2h-1zM522 183h1v3h-1zM437 183h1v4h-1zM106 184h1v3h-1zM311 184h1v3h-1zM508 185h1v1h-1zM240 185h1v2h-1zM448 185h1v2h-1zM507 186h1v2h-1zM523 186h1v4h-1zM406 186h1v8h-1zM107 187h1v3h-1zM239 187h1v3h-1zM312 187h1v3h-1zM436 187h1v3h-1zM449 187h1v3h-1zM506 188h1v2h-1zM554 189h2v1h-2zM556 190h3v1h-3zM505 190h1v2h-1zM553 190h1v2h-1zM238 190h1v3h-1zM313 190h1v3h-1zM450 190h1v3h-1zM108 190h1v4h-1zM435 190h1v4h-1zM524 190h1v4h-1zM146 191h2v1h-2zM586 191h1v1h-1zM559 191h1v2h-1zM382 191h1v8h-1zM145 192h1v1h-1zM148 192h3v1h-3zM206 192h1v1h-1zM552 192h1v1h-1zM584 192h2v1h-2zM504 192h1v2h-1zM587 192h1v2h-1zM144 193h1v1h-1zM151 193h2v1h-2zM207 193h2v1h-2zM560 193h1v1h-1zM583 193h1v1h-1zM205 193h1v2h-1zM551 193h1v2h-1zM237 193h1v3h-1zM314 193h1v3h-1zM451 193h1v3h-1zM143 194h1v1h-1zM153 194h2v1h-2zM209 194h2v1h-2zM581 194h2v1h-2zM503 194h1v2h-1zM561 194h1v2h-1zM588 194h1v2h-1zM109 194h1v3h-1zM434 194h1v3h-1zM525 194h1v4h-1zM407 194h1v7h-1zM140 195h3v1h-3zM204 195h1v1h-1zM579 195h2v1h-2zM155 195h1v2h-1zM211 195h1v2h-1zM550 195h1v2h-1zM137 196h3v1h-3zM502 196h1v1h-1zM562 196h1v1h-1zM573 196h6v1h-6zM203 196h1v2h-1zM452 196h1v2h-1zM589 196h1v2h-1zM236 196h1v4h-1zM315 196h1v4h-1zM135 197h2v1h-2zM212 197h1v1h-1zM563 197h1v1h-1zM571 197h2v1h-2zM110 197h1v2h-1zM156 197h1v2h-1zM501 197h1v2h-1zM549 197h1v2h-1zM433 197h1v4h-1zM132 198h3v1h-3zM202 198h1v1h-1zM570 198h1v1h-1zM213 198h1v2h-1zM564 198h1v2h-1zM590 198h1v2h-1zM453 198h1v3h-1zM526 198h1v3h-1zM130 199h2v1h-2zM200 199h2v1h-2zM568 199h2v1h-2zM601 199h2v1h-2zM609 199h6v1h-6zM111 199h1v2h-1zM157 199h1v2h-1zM500 199h1v2h-1zM548 199h1v2h-1zM381 199h1v8h-1zM129 200h1v1h-1zM199 200h1v1h-1zM214 200h1v1h-1zM565 200h1v1h-1zM567 200h1v1h-1zM591 200h2v1h-2zM599 200h2v1h-2zM603 200h2v1h-2zM607 200h2v1h-2zM615 200h1v2h-1zM235 200h1v3h-1zM316 200h1v4h-1zM112 201h1v1h-1zM128 201h1v1h-1zM197 201h2v1h-2zM566 201h1v1h-1zM593 201h6v1h-6zM605 201h2v1h-2zM215 201h1v2h-1zM499 201h1v2h-1zM547 201h1v2h-1zM158 201h1v3h-1zM454 201h1v3h-1zM527 201h1v3h-1zM432 201h1v4h-1zM408 201h1v7h-1zM127 202h1v1h-1zM195 202h2v1h-2zM113 202h1v2h-1zM616 202h1v2h-1zM124 203h3v1h-3zM192 203h3v1h-3zM216 203h1v1h-1zM498 203h1v1h-1zM546 203h1v2h-1zM234 203h1v3h-1zM114 204h1v1h-1zM121 204h3v1h-3zM190 204h2v1h-2zM159 204h1v2h-1zM217 204h1v2h-1zM497 204h1v2h-1zM617 204h1v2h-1zM455 204h1v3h-1zM317 204h1v4h-1zM528 204h1v4h-1zM115 205h2v1h-2zM119 205h2v1h-2zM188 205h2v1h-2zM431 205h1v4h-1zM545 205h1v4h-1zM117 206h2v1h-2zM187 206h1v1h-1zM218 206h1v1h-1zM160 206h1v2h-1zM233 206h1v2h-1zM496 206h1v2h-1zM618 206h1v3h-1zM184 207h3v1h-3zM219 207h1v2h-1zM456 207h1v2h-1zM380 207h1v7h-1zM182 208h2v1h-2zM161 208h1v2h-1zM495 208h1v2h-1zM232 208h1v3h-1zM529 208h1v3h-1zM318 208h1v5h-1zM409 208h1v7h-1zM181 209h1v2h-1zM220 209h1v2h-1zM457 209h1v3h-1zM619 209h1v3h-1zM430 209h1v4h-1zM544 209h1v4h-1zM493 210h2v1h-2zM162 210h1v2h-1zM180 211h1v1h-1zM491 211h2v1h-2zM221 211h1v2h-1zM231 211h1v2h-1zM530 211h1v3h-1zM163 212h1v1h-1zM490 212h1v1h-1zM179 212h1v2h-1zM458 212h1v2h-1zM620 212h1v2h-1zM164 213h1v1h-1zM489 213h1v1h-1zM222 213h1v2h-1zM230 213h1v2h-1zM543 213h1v4h-1zM319 213h1v5h-1zM429 213h1v6h-1zM165 214h1v1h-1zM178 214h1v1h-1zM459 214h1v1h-1zM488 214h1v1h-1zM531 214h1v2h-1zM621 214h1v3h-1zM379 214h1v8h-1zM166 215h1v1h-1zM176 215h2v1h-2zM223 215h1v1h-1zM229 215h1v1h-1zM460 215h2v1h-2zM487 215h1v1h-1zM410 215h1v6h-1zM167 216h1v1h-1zM175 216h1v1h-1zM486 216h1v1h-1zM224 216h1v2h-1zM228 216h1v2h-1zM462 216h1v2h-1zM532 216h1v3h-1zM168 217h2v1h-2zM172 217h3v1h-3zM485 217h1v2h-1zM542 217h1v2h-1zM622 217h1v2h-1zM170 218h2v1h-2zM225 218h1v1h-1zM227 218h1v1h-1zM463 218h1v2h-1zM320 218h1v6h-1zM226 219h1v1h-1zM484 219h1v1h-1zM533 219h1v2h-1zM541 219h1v2h-1zM623 219h1v2h-1zM428 219h1v6h-1zM483 220h1v2h-1zM464 220h1v3h-1zM534 221h1v2h-1zM540 221h1v2h-1zM624 221h1v2h-1zM411 221h1v5h-1zM476 222h7v1h-7zM378 222h1v7h-1zM474 223h2v1h-2zM535 223h1v1h-1zM465 223h1v2h-1zM539 223h1v2h-1zM625 223h1v2h-1zM473 224h1v1h-1zM536 224h2v1h-2zM321 224h1v5h-1zM472 225h1v1h-1zM538 225h1v1h-1zM466 225h1v2h-1zM626 225h1v2h-1zM427 225h1v6h-1zM467 226h1v1h-1zM471 226h1v1h-1zM412 226h1v5h-1zM468 227h3v1h-3zM627 227h1v1h-1zM628 228h1v2h-1zM322 229h1v4h-1zM377 229h1v8h-1zM629 230h1v1h-1zM630 231h1v1h-1zM413 231h1v5h-1zM426 231h1v5h-1zM631 232h1v2h-1zM323 233h1v4h-1zM632 234h1v2h-1zM633 236h1v2h-1zM414 236h1v4h-1zM425 236h1v4h-1zM324 237h1v4h-1zM376 237h1v7h-1zM634 238h1v1h-1zM635 239h1v1h-1zM636 240h2v1h-2zM415 240h1v4h-1zM424 240h1v4h-1zM638 241h1v1h-1zM325 241h1v4h-1zM639 242h1v2h-1zM640 244h1v1h-1zM416 244h1v4h-1zM423 244h1v4h-1zM375 244h1v8h-1zM641 245h1v2h-1zM326 245h1v4h-1zM644 246h7v1h-7zM642 247h2v1h-2zM651 247h1v1h-1zM652 248h1v2h-1zM422 248h1v3h-1zM417 248h1v4h-1zM327 249h1v4h-1zM653 250h1v1h-1zM420 251h2v1h-2zM654 251h1v2h-1zM419 252h1v1h-1zM418 252h1v2h-1zM374 252h1v6h-1zM655 253h1v3h-1zM328 253h1v4h-1zM656 256h1v3h-1zM329 257h1v4h-1zM373 258h1v5h-1zM657 259h1v3h-1zM330 261h1v6h-1zM658 262h1v3h-1zM372 263h1v4h-1zM659 265h1v3h-1zM371 267h1v5h-1zM331 267h1v7h-1zM660 268h1v2h-1zM661 270h1v3h-1zM370 272h1v6h-1zM662 273h1v4h-1zM332 274h1v6h-1zM663 277h1v6h-1zM369 278h1v6h-1zM333 280h1v7h-1zM664 283h1v6h-1zM368 284h1v6h-1zM334 287h1v6h-1zM665 289h1v6h-1zM367 290h1v6h-1zM687 291h4v1h-4zM686 291h1v2h-1zM691 292h1v1h-1zM692 293h2v1h-2zM696 293h3v1h-3zM685 293h1v3h-1zM335 293h1v6h-1zM694 294h2v1h-2zM699 294h2v1h-2zM701 295h2v1h-2zM666 295h1v4h-1zM703 296h1v2h-1zM684 296h1v4h-1zM366 296h1v5h-1zM704 298h1v1h-1zM667 299h1v2h-1zM705 299h1v2h-1zM336 299h1v5h-1zM683 300h1v3h-1zM706 301h1v1h-1zM668 301h1v3h-1zM365 301h1v4h-1zM707 302h1v1h-1zM708 303h1v1h-1zM682 303h1v2h-1zM709 304h1v1h-1zM669 304h1v2h-1zM337 304h1v6h-1zM681 305h1v1h-1zM710 305h1v1h-1zM364 305h1v3h-1zM680 306h1v1h-1zM711 306h1v1h-1zM726 306h2v1h-2zM670 306h1v2h-1zM679 307h1v1h-1zM712 307h2v1h-2zM728 307h3v1h-3zM725 307h1v2h-1zM671 308h2v1h-2zM676 308h3v1h-3zM714 308h1v1h-1zM731 308h1v1h-1zM363 308h1v4h-1zM673 309h3v1h-3zM715 309h1v1h-1zM724 309h1v1h-1zM732 309h2v1h-2zM716 310h1v1h-1zM734 310h1v1h-1zM723 310h1v2h-1zM338 310h1v6h-1zM717 311h1v1h-1zM735 311h2v1h-2zM718 312h5v1h-5zM737 312h2v1h-2zM362 312h1v5h-1zM739 313h2v1h-2zM741 314h2v1h-2zM743 315h1v2h-1zM339 316h1v6h-1zM744 317h1v1h-1zM361 317h1v6h-1zM745 318h1v2h-1zM746 320h1v1h-1zM747 321h1v1h-1zM748 322h1v1h-1zM340 322h1v6h-1zM749 323h1v1h-1zM360 323h1v6h-1zM750 324h1v1h-1zM751 325h1v1h-1zM752 326h1v2h-1zM753 328h1v1h-1zM341 328h1v6h-1zM754 329h1v1h-1zM359 329h1v6h-1zM755 330h1v2h-1zM756 332h1v2h-1zM757 334h1v2h-1zM342 334h1v6h-1zM358 335h1v6h-1zM758 336h1v1h-1zM759 337h1v2h-1zM760 339h1v1h-1zM786 339h1v1h-1zM784 340h2v1h-2zM787 340h2v1h-2zM761 340h1v2h-1zM343 340h1v6h-1zM783 341h1v1h-1zM789 341h2v1h-2zM357 341h1v4h-1zM762 342h1v1h-1zM782 342h1v1h-1zM791 342h1v1h-1zM763 343h1v1h-1zM781 343h1v1h-1zM792 343h2v1h-2zM780 344h1v1h-1zM794 344h4v1h-4zM764 344h1v2h-1zM798 344h1v2h-1zM779 345h1v1h-1zM356 345h1v4h-1zM765 346h1v1h-1zM776 346h3v1h-3zM799 346h1v2h-1zM344 346h1v5h-1zM766 347h10v1h-10zM800 348h1v2h-1zM355 349h1v4h-1zM801 350h1v2h-1zM345 351h1v6h-1zM802 352h1v3h-1zM354 353h1v4h-1zM803 355h1v4h-1zM346 357h1v4h-1zM353 357h1v4h-1zM804 359h1v3h-1zM347 361h1v3h-1zM352 361h1v4h-1zM805 362h1v4h-1zM348 364h1v2h-1zM351 365h1v4h-1zM349 366h1v3h-1zM806 366h1v3h-1zM350 369h1v2h-1zM807 369h1v3h-1zM808 372h1v4h-1zM809 376h1v3h-1zM810 379h1v3h-1zM811 382h1v4h-1zM812 386h1v4h-1zM813 390h1v4h-1zM814 394h1v4h-1zM815 398h1v4h-1zM816 402h1v4h-1zM817 406h1v4h-1zM818 410h1v4h-1zM1038 411h1v1h-1zM1037 412h1v1h-1zM1039 412h2v1h-2zM1041 413h2v1h-2zM1036 413h1v2h-1zM1043 414h1v2h-1zM819 414h1v3h-1zM1035 415h1v1h-1zM1034 416h1v2h-1zM1044 416h1v2h-1zM820 417h1v4h-1zM1045 418h1v2h-1zM1033 418h1v3h-1zM1046 420h1v3h-1zM821 421h1v3h-1zM1032 421h1v3h-1zM1047 423h1v3h-1zM822 424h1v3h-1zM1031 424h1v3h-1zM1048 426h1v2h-1zM823 427h1v3h-1zM1030 427h1v4h-1zM1049 428h1v3h-1zM824 430h1v3h-1zM1050 431h1v2h-1zM1029 431h1v4h-1zM1051 433h1v2h-1zM825 433h1v3h-1zM1052 435h1v2h-1zM1028 435h1v5h-1zM826 436h1v3h-1zM1053 437h1v2h-1zM1054 439h1v1h-1zM827 439h1v2h-1zM1055 440h1v1h-1zM1027 440h1v4h-1zM1056 441h1v1h-1zM828 441h1v3h-1zM1057 442h1v1h-1zM1058 443h1v1h-1zM829 444h1v2h-1zM1059 444h1v2h-1zM1026 444h1v5h-1zM1060 446h1v1h-1zM830 446h1v3h-1zM1061 447h1v2h-1zM1062 449h1v1h-1zM831 449h1v2h-1zM1025 449h1v4h-1zM1063 450h1v1h-1zM1064 451h2v1h-2zM832 451h1v3h-1zM1066 452h2v1h-2zM1068 453h3v1h-3zM1024 453h1v4h-1zM1071 454h1v1h-1zM833 454h1v2h-1zM1072 455h2v1h-2zM1074 456h1v2h-1zM834 456h1v3h-1zM1023 457h1v4h-1zM1075 458h1v2h-1zM835 459h1v3h-1zM1161 460h2v1h-2zM1076 460h1v3h-1zM1159 461h2v1h-2zM1163 461h1v1h-1zM1022 461h1v4h-1zM836 462h1v2h-1zM1158 462h1v2h-1zM1164 462h1v2h-1zM1077 463h1v2h-1zM1165 464h1v1h-1zM837 464h1v3h-1zM1157 464h1v3h-1zM1078 465h1v2h-1zM1166 465h1v2h-1zM1021 465h1v3h-1zM838 467h1v2h-1zM1079 467h1v2h-1zM1167 467h1v2h-1zM1156 467h1v4h-1zM1020 468h1v4h-1zM1080 469h1v1h-1zM1106 469h1v1h-1zM839 469h1v2h-1zM1168 469h1v3h-1zM849 470h2v1h-2zM973 470h2v1h-2zM1105 470h1v1h-1zM1107 470h1v1h-1zM1202 470h2v1h-2zM1081 470h1v2h-1zM840 471h1v1h-1zM847 471h2v1h-2zM971 471h2v1h-2zM1200 471h2v1h-2zM1204 471h3v1h-3zM851 471h1v2h-1zM975 471h1v2h-1zM1104 471h1v2h-1zM1108 471h1v2h-1zM1155 471h1v3h-1zM845 472h2v1h-2zM875 472h4v1h-4zM970 472h1v1h-1zM1082 472h1v1h-1zM1199 472h1v1h-1zM841 472h1v2h-1zM874 472h1v2h-1zM1169 472h1v2h-1zM1207 472h1v2h-1zM1019 472h1v3h-1zM843 473h2v1h-2zM879 473h1v1h-1zM969 473h1v1h-1zM976 473h1v1h-1zM1083 473h1v1h-1zM1103 473h1v1h-1zM1109 473h1v1h-1zM852 473h1v2h-1zM1198 473h1v2h-1zM842 474h1v1h-1zM880 474h1v1h-1zM1102 474h1v1h-1zM1110 474h1v1h-1zM968 474h1v2h-1zM977 474h1v2h-1zM1084 474h1v2h-1zM1208 474h1v2h-1zM873 474h1v3h-1zM1154 474h1v3h-1zM1170 474h1v4h-1zM881 475h1v1h-1zM1101 475h1v1h-1zM1111 475h1v1h-1zM853 475h1v2h-1zM1018 475h1v3h-1zM1197 475h1v3h-1zM882 476h1v1h-1zM967 476h1v1h-1zM978 476h1v1h-1zM1085 476h1v1h-1zM1100 476h1v2h-1zM1112 476h1v2h-1zM1209 476h1v2h-1zM854 477h2v1h-2zM860 477h3v1h-3zM883 477h1v1h-1zM979 477h1v1h-1zM1086 477h1v1h-1zM872 477h1v2h-1zM966 477h1v2h-1zM1153 477h1v2h-1zM856 478h4v1h-4zM884 478h1v1h-1zM980 478h2v1h-2zM1087 478h2v1h-2zM1099 478h1v1h-1zM1113 478h1v1h-1zM1210 478h1v1h-1zM863 478h1v2h-1zM1017 478h1v3h-1zM1171 478h1v4h-1zM1196 478h1v4h-1zM885 479h1v1h-1zM982 479h1v1h-1zM1089 479h2v1h-2zM1098 479h1v1h-1zM1211 479h1v1h-1zM965 479h1v2h-1zM1114 479h1v2h-1zM1152 479h1v2h-1zM871 479h1v3h-1zM864 480h1v1h-1zM886 480h1v1h-1zM1091 480h1v1h-1zM1097 480h1v1h-1zM1212 480h1v1h-1zM1234 480h1v1h-1zM983 480h1v2h-1zM1213 481h1v1h-1zM1232 481h2v1h-2zM1235 481h2v1h-2zM865 481h1v2h-1zM887 481h1v2h-1zM964 481h1v2h-1zM1016 481h1v2h-1zM1092 481h1v2h-1zM1096 481h1v2h-1zM1151 481h1v2h-1zM1115 481h1v3h-1zM984 482h1v1h-1zM1214 482h2v1h-2zM1231 482h1v1h-1zM1237 482h2v1h-2zM870 482h1v2h-1zM1195 482h1v3h-1zM1172 482h1v4h-1zM866 483h4v1h-4zM888 483h1v1h-1zM1093 483h1v1h-1zM1095 483h1v1h-1zM1216 483h3v1h-3zM1230 483h1v1h-1zM1239 483h1v1h-1zM963 483h1v2h-1zM985 483h1v2h-1zM1015 483h1v3h-1zM1150 483h1v3h-1zM1094 484h1v1h-1zM1219 484h2v1h-2zM1228 484h2v1h-2zM1240 484h1v1h-1zM889 484h1v2h-1zM1116 484h1v2h-1zM1221 485h3v1h-3zM1227 485h1v1h-1zM1241 485h1v1h-1zM918 485h1v2h-1zM986 485h1v2h-1zM962 485h1v3h-1zM1194 485h1v3h-1zM919 486h1v1h-1zM1224 486h3v1h-3zM1242 486h1v1h-1zM890 486h1v2h-1zM1014 486h1v3h-1zM1117 486h1v3h-1zM1149 486h1v3h-1zM1173 486h1v4h-1zM920 487h2v1h-2zM924 487h3v1h-3zM917 487h1v2h-1zM987 487h1v2h-1zM1243 487h1v2h-1zM922 488h2v1h-2zM891 488h1v2h-1zM927 488h1v2h-1zM961 488h1v2h-1zM1193 488h1v3h-1zM916 489h1v2h-1zM1013 489h1v2h-1zM1118 489h1v2h-1zM1148 489h1v2h-1zM1244 489h1v2h-1zM988 489h1v3h-1zM928 490h1v1h-1zM892 490h1v3h-1zM960 490h1v3h-1zM1174 490h1v5h-1zM915 491h1v2h-1zM929 491h1v2h-1zM1012 491h1v2h-1zM1119 491h1v2h-1zM1245 491h1v2h-1zM1147 491h1v3h-1zM1192 491h1v4h-1zM989 492h1v2h-1zM914 493h1v1h-1zM930 493h1v1h-1zM893 493h1v2h-1zM959 493h1v2h-1zM1011 493h1v2h-1zM1120 493h1v2h-1zM1246 493h1v2h-1zM913 494h1v2h-1zM931 494h1v2h-1zM990 494h1v2h-1zM1146 494h1v3h-1zM1010 495h1v1h-1zM894 495h1v2h-1zM1121 495h1v2h-1zM1247 495h1v2h-1zM958 495h1v3h-1zM1191 495h1v3h-1zM1175 495h1v5h-1zM912 496h1v1h-1zM991 496h1v1h-1zM1008 496h2v1h-2zM932 496h1v2h-1zM992 497h1v1h-1zM1007 497h1v1h-1zM895 497h1v2h-1zM911 497h1v2h-1zM1248 497h1v2h-1zM1122 497h1v3h-1zM1145 497h1v3h-1zM993 498h1v1h-1zM996 498h11v1h-11zM933 498h1v2h-1zM957 498h1v2h-1zM1190 498h1v3h-1zM910 499h1v1h-1zM994 499h2v1h-2zM896 499h1v2h-1zM1249 499h1v2h-1zM909 500h1v1h-1zM934 500h1v2h-1zM1123 500h1v2h-1zM1144 500h1v2h-1zM956 500h1v3h-1zM1176 500h1v4h-1zM908 501h1v1h-1zM897 501h1v2h-1zM1250 501h1v2h-1zM1189 501h1v3h-1zM901 502h3v1h-3zM907 502h1v1h-1zM935 502h1v2h-1zM1124 502h1v2h-1zM1143 502h1v3h-1zM899 503h2v1h-2zM904 503h3v1h-3zM898 503h1v2h-1zM955 503h1v2h-1zM1251 503h1v2h-1zM936 504h1v1h-1zM1125 504h1v2h-1zM1188 504h1v3h-1zM1177 504h1v5h-1zM937 505h1v2h-1zM954 505h1v2h-1zM1142 505h1v2h-1zM1252 505h1v2h-1zM1126 506h1v2h-1zM938 507h1v1h-1zM1140 507h2v1h-2zM953 507h1v2h-1zM1253 507h1v2h-1zM1187 507h1v3h-1zM1127 508h1v1h-1zM1139 508h1v1h-1zM939 508h1v2h-1zM952 509h1v1h-1zM1128 509h1v1h-1zM1137 509h2v1h-2zM1254 509h1v1h-1zM1178 509h1v3h-1zM1129 510h1v1h-1zM1135 510h2v1h-2zM940 510h1v2h-1zM951 510h1v2h-1zM1186 510h1v2h-1zM1255 510h1v2h-1zM1130 511h5v1h-5zM1185 511h1v1h-1zM950 512h1v1h-1zM1179 512h2v1h-2zM1183 512h2v1h-2zM941 512h1v2h-1zM1256 512h1v2h-1zM948 513h2v1h-2zM1181 513h2v1h-2zM942 514h2v1h-2zM947 514h1v1h-1zM1257 514h1v2h-1zM944 515h3v1h-3zM1258 516h1v3h-1zM1259 519h1v2h-1zM1260 521h1v3h-1zM1261 524h1v2h-1zM1262 526h1v3h-1zM1263 529h1v2h-1zM1264 531h1v3h-1zM1265 534h1v2h-1zM1266 536h1v2h-1z" fill="#FFA500"/>
<path d="M4 81h4v1h-4zM12 81h4v1h-4zM2 82h2v1h-2zM8 82h4v1h-4zM16 82h8v1h-8zM24 83h3v1h-3zM27 84h2v1h-2zM29 85h2v1h-2zM31 86h1v1h-1zM32 87h1v1h-1zM33 88h1v1h-1zM34 89h1v1h-1zM35 90h1v1h-1zM36 91h1v1h-1zM37 92h1v1h-1zM38 93h1v1h-1zM39 94h1v1h-1zM40 95h1v2h-1zM41 97h1v1h-1zM42 98h1v1h-1zM43 99h1v1h-1zM44 100h1v1h-1zM45 101h1v1h-1zM46 102h1v1h-1zM47 103h1v1h-1zM48 104h1v2h-1zM49 106h1v1h-1zM50 107h1v1h-1zM51 108h1v2h-1zM52 110h1v1h-1zM53 111h1v2h-1zM54 113h1v1h-1zM55 114h1v2h-1zM56 116h1v2h-1zM57 118h1v2h-1zM58 120h1v1h-1zM59 121h1v1h-1zM60 122h1v1h-1zM61 123h1v1h-1zM62 124h1v1h-1zM63 125h1v1h-1zM64 126h2v1h-2zM66 127h1v1h-1zM67 128h2v1h-2zM69 129h2v1h-2zM71 130h2v1h-2zM73 131h2v1h-2zM75 132h1v1h-1zM76 133h2v1h-2zM78 134h1v1h-1zM79 135h1v1h-1zM80 136h2v1h-2zM82 137h1v1h-1zM83 138h1v1h-1zM84 139h2v1h-2zM86 140h1v1h-1zM87 141h2v1h-2zM89 142h2v1h-2zM91 143h1v1h-1zM92 144h1v1h-1zM93 145h1v1h-1zM94 146h1v1h-1zM95 147h1v1h-1zM96 148h1v2h-1zM97 150h1v1h-1zM98 151h1v1h-1zM99 152h1v1h-1zM100 153h1v1h-1zM101 154h1v1h-1zM102 155h1v1h-1zM288 156h15v1h-15zM103 156h1v2h-1zM285 157h3v1h-3zM303 157h2v1h-2zM104 158h1v1h-1zM283 158h2v1h-2zM305 158h2v1h-2zM282 159h1v1h-1zM307 159h1v1h-1zM105 159h1v2h-1zM281 160h1v1h-1zM308 160h2v1h-2zM106 161h1v1h-1zM280 161h1v1h-1zM310 161h1v1h-1zM279 162h1v1h-1zM311 162h1v1h-1zM107 162h1v2h-1zM278 163h1v1h-1zM312 163h1v1h-1zM108 164h1v1h-1zM313 164h1v1h-1zM277 164h1v2h-1zM314 165h1v1h-1zM109 165h1v2h-1zM276 166h1v1h-1zM315 166h1v2h-1zM110 167h1v1h-1zM275 167h1v2h-1zM111 168h1v1h-1zM316 168h1v2h-1zM112 169h2v1h-2zM274 169h1v1h-1zM114 170h1v1h-1zM273 170h1v2h-1zM317 170h1v2h-1zM115 171h1v1h-1zM116 172h1v1h-1zM272 172h1v1h-1zM318 172h1v3h-1zM117 173h1v1h-1zM271 173h1v2h-1zM118 174h1v1h-1zM119 175h2v1h-2zM270 175h1v1h-1zM319 175h1v2h-1zM121 176h2v1h-2zM269 176h1v2h-1zM123 177h1v1h-1zM320 177h1v2h-1zM268 178h1v1h-1zM124 178h1v2h-1zM267 179h1v2h-1zM321 179h1v2h-1zM125 180h1v1h-1zM126 181h1v1h-1zM266 181h1v1h-1zM322 181h1v3h-1zM127 182h1v1h-1zM265 182h1v1h-1zM128 183h2v1h-2zM264 183h1v2h-1zM130 184h1v1h-1zM323 184h1v2h-1zM131 185h1v1h-1zM263 185h1v1h-1zM261 186h2v1h-2zM132 186h1v2h-1zM324 186h1v2h-1zM259 187h2v1h-2zM133 188h1v1h-1zM257 188h2v1h-2zM429 188h2v1h-2zM325 188h1v2h-1zM134 189h1v1h-1zM255 189h2v1h-2zM427 189h2v1h-2zM431 189h1v1h-1zM135 190h2v1h-2zM253 190h2v1h-2zM426 190h1v1h-1zM432 190h1v1h-1zM326 190h1v3h-1zM137 191h2v1h-2zM251 191h2v1h-2zM424 191h2v1h-2zM433 191h1v1h-1zM139 192h2v1h-2zM250 192h1v1h-1zM423 192h1v1h-1zM434 192h1v1h-1zM141 193h2v1h-2zM248 193h2v1h-2zM422 193h1v1h-1zM435 193h1v1h-1zM327 193h1v3h-1zM143 194h1v1h-1zM247 194h1v1h-1zM436 194h2v1h-2zM421 194h1v2h-1zM144 195h2v1h-2zM245 195h2v1h-2zM438 195h1v1h-1zM586 195h6v1h-6zM146 196h1v1h-1zM243 196h2v1h-2zM545 196h3v1h-3zM585 196h1v1h-1zM592 196h4v1h-4zM328 196h1v2h-1zM420 196h1v2h-1zM439 196h1v2h-1zM147 197h2v1h-2zM242 197h1v1h-1zM522 197h1v1h-1zM543 197h2v1h-2zM548 197h8v1h-8zM584 197h1v1h-1zM596 197h4v1h-4zM604 197h3v1h-3zM149 198h2v1h-2zM240 198h2v1h-2zM440 198h1v1h-1zM520 198h2v1h-2zM523 198h2v1h-2zM542 198h1v1h-1zM556 198h3v1h-3zM583 198h1v1h-1zM600 198h4v1h-4zM607 198h2v1h-2zM419 198h1v2h-1zM329 198h1v3h-1zM151 199h2v1h-2zM239 199h1v1h-1zM519 199h1v1h-1zM525 199h2v1h-2zM540 199h2v1h-2zM559 199h1v1h-1zM582 199h1v1h-1zM609 199h3v1h-3zM441 199h1v2h-1zM153 200h3v1h-3zM237 200h2v1h-2zM417 200h2v1h-2zM517 200h2v1h-2zM527 200h1v1h-1zM539 200h1v1h-1zM560 200h2v1h-2zM581 200h1v1h-1zM612 200h4v1h-4zM156 201h4v1h-4zM235 201h2v1h-2zM415 201h2v1h-2zM442 201h1v1h-1zM515 201h2v1h-2zM528 201h2v1h-2zM536 201h3v1h-3zM562 201h1v1h-1zM580 201h1v1h-1zM616 201h3v1h-3zM330 201h1v3h-1zM160 202h8v1h-8zM233 202h2v1h-2zM414 202h1v1h-1zM443 202h1v1h-1zM514 202h1v1h-1zM530 202h6v1h-6zM563 202h2v1h-2zM579 202h1v1h-1zM619 202h2v1h-2zM168 203h7v1h-7zM231 203h2v1h-2zM412 203h2v1h-2zM444 203h1v1h-1zM513 203h1v1h-1zM565 203h3v1h-3zM576 203h3v1h-3zM621 203h2v1h-2zM175 204h2v1h-2zM180 204h4v1h-4zM228 204h3v1h-3zM406 204h2v1h-2zM411 204h1v1h-1zM445 204h1v1h-1zM474 204h2v1h-2zM512 204h1v1h-1zM568 204h8v1h-8zM623 204h1v1h-1zM331 204h1v4h-1zM177 205h3v1h-3zM184 205h8v1h-8zM205 205h11v1h-11zM224 205h4v1h-4zM408 205h3v1h-3zM446 205h1v1h-1zM472 205h2v1h-2zM476 205h3v1h-3zM511 205h1v1h-1zM624 205h1v1h-1zM405 205h1v2h-1zM192 206h4v1h-4zM203 206h2v1h-2zM216 206h8v1h-8zM447 206h1v1h-1zM471 206h1v1h-1zM479 206h2v1h-2zM510 206h1v1h-1zM625 206h1v1h-1zM196 207h7v1h-7zM404 207h1v1h-1zM468 207h3v1h-3zM481 207h2v1h-2zM508 207h2v1h-2zM626 207h1v1h-1zM448 207h1v2h-1zM466 208h2v1h-2zM483 208h1v1h-1zM507 208h1v1h-1zM627 208h1v1h-1zM403 208h1v2h-1zM332 208h1v4h-1zM449 209h1v1h-1zM464 209h2v1h-2zM484 209h2v1h-2zM506 209h1v1h-1zM628 209h1v1h-1zM450 210h1v1h-1zM463 210h1v1h-1zM486 210h1v1h-1zM504 210h2v1h-2zM629 210h1v1h-1zM402 210h1v2h-1zM451 211h1v1h-1zM462 211h1v1h-1zM487 211h1v1h-1zM503 211h1v1h-1zM630 211h1v1h-1zM461 212h1v1h-1zM488 212h2v1h-2zM501 212h2v1h-2zM631 212h1v1h-1zM452 212h1v2h-1zM401 212h1v3h-1zM333 212h1v4h-1zM460 213h1v1h-1zM490 213h1v1h-1zM499 213h2v1h-2zM632 213h1v1h-1zM453 214h1v1h-1zM459 214h1v1h-1zM491 214h2v1h-2zM496 214h3v1h-3zM633 214h1v1h-1zM454 215h5v1h-5zM493 215h3v1h-3zM634 215h1v1h-1zM400 215h1v2h-1zM635 216h1v1h-1zM334 216h1v4h-1zM636 217h2v1h-2zM399 217h1v3h-1zM638 218h1v1h-1zM639 219h1v1h-1zM640 220h1v2h-1zM335 220h1v4h-1zM398 220h1v4h-1zM641 222h1v1h-1zM642 223h2v1h-2zM644 224h3v1h-3zM336 224h1v4h-1zM397 224h1v4h-1zM647 225h1v1h-1zM648 226h2v1h-2zM650 227h1v1h-1zM651 228h1v1h-1zM337 228h1v4h-1zM396 228h1v4h-1zM652 229h1v2h-1zM653 231h1v1h-1zM654 232h1v2h-1zM338 232h1v4h-1zM395 232h1v4h-1zM655 234h1v2h-1zM656 236h1v2h-1zM339 236h1v4h-1zM394 236h1v4h-1zM657 238h1v2h-1zM658 240h1v2h-1zM340 240h1v4h-1zM393 240h1v4h-1zM659 242h1v2h-1zM660 244h1v2h-1zM341 244h1v4h-1zM392 244h1v4h-1zM661 246h1v2h-1zM662 248h1v3h-1zM342 248h1v4h-1zM391 248h1v4h-1zM663 251h1v2h-1zM343 252h1v4h-1zM390 252h1v4h-1zM664 253h1v3h-1zM665 256h1v2h-1zM344 256h1v4h-1zM389 256h1v4h-1zM666 258h1v2h-1zM667 260h1v2h-1zM345 260h1v4h-1zM388 260h1v4h-1zM668 262h1v2h-1zM669 264h1v2h-1zM346 264h1v4h-1zM387 264h1v4h-1zM670 266h1v1h-1zM671 267h1v1h-1zM672 268h2v1h-2zM347 268h1v3h-1zM386 268h1v3h-1zM674 269h1v1h-1zM675 270h1v1h-1zM676 271h1v1h-1zM385 271h1v3h-1zM348 271h1v4h-1zM677 272h1v1h-1zM678 273h1v1h-1zM679 274h1v1h-1zM384 274h1v4h-1zM680 275h1v1h-1zM349 275h1v3h-1zM681 276h1v1h-1zM682 277h1v1h-1zM683 278h1v1h-1zM350 278h1v2h-1zM383 278h1v3h-1zM684 279h1v1h-1zM685 280h1v1h-1zM351 280h1v2h-1zM686 281h1v1h-1zM382 281h1v3h-1zM687 282h1v1h-1zM352 282h1v2h-1zM688 283h1v1h-1zM689 284h1v1h-1zM353 284h1v2h-1zM381 284h1v3h-1zM690 285h1v1h-1zM691 286h1v1h-1zM354 286h1v2h-1zM692 287h2v1h-2zM380 287h1v2h-1zM694 288h2v1h-2zM355 288h1v2h-1zM696 289h3v1h-3zM379 289h1v3h-1zM699 290h1v1h-1zM356 290h1v2h-1zM700 291h1v2h-1zM357 292h1v2h-1zM378 292h1v3h-1zM701 293h1v1h-1zM702 294h1v1h-1zM358 294h1v2h-1zM377 295h1v2h-1zM703 295h1v2h-1zM359 296h1v1h-1zM360 297h1v2h-1zM704 297h1v2h-1zM376 297h1v3h-1zM361 299h1v1h-1zM705 299h1v2h-1zM362 300h1v1h-1zM722 300h5v1h-5zM375 300h1v2h-1zM706 301h1v1h-1zM720 301h2v1h-2zM727 301h1v1h-1zM363 301h1v2h-1zM707 302h1v1h-1zM719 302h1v1h-1zM728 302h2v1h-2zM374 302h1v2h-1zM708 303h2v1h-2zM716 303h3v1h-3zM730 303h1v1h-1zM364 303h1v2h-1zM373 304h1v1h-1zM710 304h6v1h-6zM731 304h2v1h-2zM733 305h3v1h-3zM365 305h1v2h-1zM372 305h1v2h-1zM736 306h3v1h-3zM371 307h1v1h-1zM739 307h2v1h-2zM366 307h1v2h-1zM367 308h4v1h-4zM741 308h2v1h-2zM743 309h2v1h-2zM745 310h2v1h-2zM747 311h1v1h-1zM748 312h1v1h-1zM749 313h1v1h-1zM750 314h1v1h-1zM751 315h1v1h-1zM752 316h2v1h-2zM754 317h1v1h-1zM755 318h1v1h-1zM756 319h1v1h-1zM757 320h1v1h-1zM758 321h2v1h-2zM760 322h3v1h-3zM763 323h1v1h-1zM764 324h2v1h-2zM766 325h1v1h-1zM767 326h2v1h-2zM769 327h2v1h-2zM771 328h1v1h-1zM772 329h2v1h-2zM774 330h1v1h-1zM775 331h1v1h-1zM776 332h2v1h-2zM778 333h1v1h-1zM779 334h2v1h-2zM781 335h3v1h-3zM784 336h3v1h-3zM787 337h1v1h-1zM788 338h2v1h-2zM790 339h1v1h-1zM791 340h2v1h-2zM793 341h2v1h-2zM795 342h2v1h-2zM797 343h2v1h-2zM799 344h1v1h-1zM800 345h1v1h-1zM801 346h1v1h-1zM802 347h1v1h-1zM803 348h1v1h-1zM804 349h1v2h-1zM805 351h1v1h-1zM806 352h1v1h-1zM807 353h1v1h-1zM808 354h1v2h-1zM809 356h1v1h-1zM810 357h1v1h-1zM811 358h1v2h-1zM812 360h1v1h-1zM813 361h1v2h-1zM814 363h1v1h-1zM815 364h1v2h-1zM816 366h1v1h-1zM817 367h1v2h-1zM818 369h1v1h-1zM819 370h1v2h-1zM820 372h1v1h-1zM821 373h1v2h-1zM822 375h1v2h-1zM823 377h1v2h-1zM824 379h1v2h-1zM825 381h1v2h-1zM826 383h1v3h-1zM827 386h1v2h-1zM828 388h1v2h-1zM829 390h1v2h-1zM830 392h1v3h-1zM831 395h1v2h-1zM832 397h1v2h-1zM833 399h1v2h-1zM834 401h1v3h-1zM835 404h1v3h-1zM836 407h1v3h-1zM837 410h1v3h-1zM838 413h1v3h-1zM839 416h1v2h-1zM840 418h1v3h-1zM841 421h1v2h-1zM842 423h1v2h-1zM843 425h1v2h-1zM844 427h1v1h-1zM845 428h1v2h-1zM846 430h1v1h-1zM847 431h1v2h-1zM848 433h1v2h-1zM849 435h1v2h-1zM1065 436h7v1h-7zM1063 437h2v1h-2zM1072 437h3v1h-3zM850 437h1v3h-1zM1061 438h2v1h-2zM1075 438h1v1h-1zM1059 439h2v1h-2zM1076 439h1v1h-1zM1058 440h1v1h-1zM1077 440h1v1h-1zM851 440h1v3h-1zM1057 441h1v1h-1zM1078 441h1v1h-1zM1056 442h1v1h-1zM1079 442h1v2h-1zM1055 443h1v1h-1zM852 443h1v3h-1zM1054 444h1v1h-1zM1080 444h1v1h-1zM1053 445h1v1h-1zM1081 445h1v2h-1zM1052 446h1v1h-1zM853 446h1v3h-1zM1051 447h1v1h-1zM1082 447h1v1h-1zM1050 448h1v1h-1zM1083 448h1v2h-1zM1048 449h2v1h-2zM854 449h1v2h-1zM1047 450h1v1h-1zM1084 450h1v2h-1zM1046 451h1v1h-1zM855 451h1v2h-1zM1045 452h1v1h-1zM1085 452h1v2h-1zM1044 453h1v1h-1zM856 453h1v2h-1zM1043 454h1v1h-1zM1086 454h1v1h-1zM1042 455h1v1h-1zM1087 455h1v1h-1zM857 455h1v2h-1zM1041 456h1v1h-1zM1088 456h1v2h-1zM858 457h1v2h-1zM1040 457h1v2h-1zM1089 458h1v1h-1zM859 459h1v1h-1zM1039 459h1v1h-1zM1090 459h1v1h-1zM1038 460h1v1h-1zM1091 460h1v1h-1zM860 460h1v2h-1zM1037 461h1v1h-1zM1092 461h1v1h-1zM861 462h1v1h-1zM1093 462h1v1h-1zM1036 462h1v2h-1zM862 463h1v1h-1zM1094 463h1v1h-1zM863 464h1v1h-1zM1035 464h1v1h-1zM1095 464h2v1h-2zM864 465h1v1h-1zM1034 465h1v1h-1zM1097 465h3v1h-3zM865 466h1v1h-1zM1100 466h4v1h-4zM1033 466h1v2h-1zM866 467h1v1h-1zM1104 467h3v1h-3zM867 468h2v1h-2zM1107 468h1v1h-1zM1032 468h1v2h-1zM869 469h2v1h-2zM1108 469h1v1h-1zM871 470h2v1h-2zM1109 470h1v1h-1zM1031 470h1v2h-1zM873 471h2v1h-2zM1110 471h1v1h-1zM875 472h1v1h-1zM1030 472h1v1h-1zM1111 472h1v1h-1zM876 473h1v1h-1zM1029 473h1v2h-1zM1112 473h1v2h-1zM877 474h1v1h-1zM878 475h1v1h-1zM1028 475h1v1h-1zM1113 475h1v1h-1zM879 476h2v1h-2zM1114 476h1v1h-1zM1027 476h1v2h-1zM881 477h2v1h-2zM1115 477h1v1h-1zM883 478h2v1h-2zM1026 478h1v1h-1zM1116 478h1v1h-1zM1234 478h2v1h-2zM885 479h3v1h-3zM1024 479h2v1h-2zM1117 479h1v1h-1zM1233 479h1v1h-1zM1236 479h3v1h-3zM888 480h4v1h-4zM1023 480h1v1h-1zM1118 480h1v1h-1zM1239 480h2v1h-2zM1232 480h1v2h-1zM892 481h3v1h-3zM1022 481h1v1h-1zM1119 481h2v1h-2zM1196 481h3v1h-3zM1241 481h2v1h-2zM895 482h1v1h-1zM1020 482h2v1h-2zM1121 482h2v1h-2zM1194 482h2v1h-2zM1199 482h2v1h-2zM1231 482h1v1h-1zM1243 482h1v1h-1zM896 483h1v1h-1zM1019 483h1v1h-1zM1123 483h1v1h-1zM1192 483h2v1h-2zM1201 483h3v1h-3zM1230 483h1v1h-1zM1244 483h1v2h-1zM897 484h1v1h-1zM1017 484h2v1h-2zM1124 484h1v1h-1zM1191 484h1v1h-1zM1204 484h3v1h-3zM1229 484h1v1h-1zM898 485h1v1h-1zM1015 485h2v1h-2zM1125 485h1v1h-1zM1190 485h1v1h-1zM1207 485h2v1h-2zM1245 485h1v1h-1zM1228 485h1v2h-1zM899 486h1v1h-1zM1000 486h4v1h-4zM1012 486h3v1h-3zM1126 486h1v1h-1zM1189 486h1v1h-1zM1209 486h2v1h-2zM1246 486h1v1h-1zM900 487h2v1h-2zM912 487h4v1h-4zM998 487h2v1h-2zM1004 487h8v1h-8zM1127 487h1v1h-1zM1188 487h1v1h-1zM1211 487h1v1h-1zM1227 487h1v1h-1zM1247 487h1v1h-1zM902 488h1v1h-1zM909 488h3v1h-3zM916 488h4v1h-4zM996 488h2v1h-2zM1187 488h1v1h-1zM1212 488h2v1h-2zM1225 488h2v1h-2zM1248 488h2v1h-2zM1128 488h1v2h-1zM903 489h2v1h-2zM907 489h2v1h-2zM920 489h3v1h-3zM995 489h1v1h-1zM1156 489h15v1h-15zM1186 489h1v1h-1zM1214 489h2v1h-2zM1223 489h2v1h-2zM1250 489h1v1h-1zM905 490h2v1h-2zM923 490h1v1h-1zM992 490h3v1h-3zM1129 490h1v1h-1zM1152 490h4v1h-4zM1171 490h2v1h-2zM1184 490h2v1h-2zM1216 490h7v1h-7zM1251 490h2v1h-2zM924 491h2v1h-2zM988 491h4v1h-4zM1130 491h2v1h-2zM1148 491h4v1h-4zM1173 491h2v1h-2zM1183 491h1v1h-1zM1253 491h2v1h-2zM926 492h1v1h-1zM972 492h4v1h-4zM984 492h4v1h-4zM1132 492h4v1h-4zM1144 492h4v1h-4zM1175 492h2v1h-2zM1180 492h3v1h-3zM1255 492h1v1h-1zM927 493h1v1h-1zM969 493h3v1h-3zM976 493h8v1h-8zM1136 493h8v1h-8zM1177 493h3v1h-3zM1256 493h1v1h-1zM928 494h2v1h-2zM967 494h2v1h-2zM1257 494h1v1h-1zM930 495h1v1h-1zM964 495h3v1h-3zM1258 495h1v1h-1zM931 496h2v1h-2zM960 496h4v1h-4zM1259 496h1v2h-1zM933 497h2v1h-2zM956 497h4v1h-4zM935 498h2v1h-2zM954 498h2v1h-2zM1260 498h1v1h-1zM937 499h2v1h-2zM952 499h2v1h-2zM1261 499h1v2h-1zM939 500h1v1h-1zM951 500h1v1h-1zM940 501h2v1h-2zM948 501h3v1h-3zM1262 501h1v1h-1zM942 502h6v1h-6zM1263 502h1v2h-1zM1264 504h1v1h-1zM1265 505h1v2h-1zM1266 507h1v1h-1z" fill="#FF0000"/>
<path d="M2 90h2v1h-2zM24 90h8v1h-8zM4 91h4v1h-4zM20 91h4v1h-4zM32 91h4v1h-4zM8 92h12v1h-12zM36 92h4v1h-4zM40 93h4v1h-4zM44 94h3v1h-3zM47 95h2v1h-2zM49 96h2v1h-2zM51 97h2v1h-2zM53 98h2v1h-2zM55 99h2v1h-2zM57 100h2v1h-2zM59 101h2v1h-2zM61 102h2v1h-2zM63 103h2v1h-2zM65 104h3v1h-3zM68 105h3v1h-3zM71 106h2v1h-2zM73 107h3v1h-3zM76 108h4v1h-4zM80 109h3v1h-3zM83 110h2v1h-2zM85 111h2v1h-2zM87 112h2v1h-2zM89 113h2v1h-2zM91 114h1v1h-1zM92 115h2v1h-2zM94 116h1v1h-1zM95 117h1v1h-1zM96 118h1v1h-1zM97 119h1v1h-1zM98 120h1v1h-1zM99 121h1v1h-1zM100 122h1v1h-1zM101 123h1v1h-1zM102 124h1v1h-1zM103 125h1v1h-1zM104 126h1v2h-1zM105 128h1v1h-1zM106 129h1v1h-1zM107 130h1v1h-1zM108 131h1v1h-1zM109 132h1v1h-1zM110 133h1v1h-1zM111 134h1v1h-1zM112 135h1v2h-1zM113 137h1v1h-1zM114 138h1v1h-1zM115 139h1v2h-1zM116 141h1v1h-1zM117 142h1v2h-1zM118 144h1v1h-1zM119 145h1v1h-1zM120 146h1v1h-1zM121 147h1v1h-1zM122 148h1v1h-1zM123 149h1v1h-1zM124 150h1v1h-1zM125 151h1v1h-1zM126 152h1v1h-1zM127 153h1v1h-1zM128 154h2v1h-2zM130 155h1v1h-1zM131 156h1v1h-1zM132 157h2v1h-2zM134 158h1v1h-1zM135 159h2v1h-2zM137 160h2v1h-2zM139 161h1v1h-1zM140 162h2v1h-2zM142 163h1v1h-1zM143 164h1v1h-1zM144 165h2v1h-2zM146 166h1v1h-1zM147 167h1v1h-1zM148 168h2v1h-2zM150 169h1v1h-1zM151 170h1v1h-1zM152 171h2v1h-2zM154 172h1v1h-1zM155 173h1v1h-1zM156 174h2v1h-2zM158 175h1v1h-1zM159 176h1v1h-1zM160 177h1v1h-1zM300 177h12v1h-12zM161 178h1v1h-1zM297 178h3v1h-3zM312 178h3v1h-3zM162 179h1v1h-1zM295 179h2v1h-2zM315 179h2v1h-2zM163 180h2v1h-2zM292 180h3v1h-3zM317 180h2v1h-2zM165 181h2v1h-2zM288 181h4v1h-4zM319 181h1v1h-1zM167 182h1v1h-1zM285 182h3v1h-3zM320 182h2v1h-2zM168 183h2v1h-2zM283 183h2v1h-2zM322 183h1v1h-1zM170 184h1v1h-1zM282 184h1v1h-1zM323 184h1v1h-1zM171 185h2v1h-2zM280 185h2v1h-2zM324 185h2v1h-2zM173 186h2v1h-2zM279 186h1v1h-1zM326 186h1v1h-1zM175 187h2v1h-2zM278 187h1v1h-1zM327 187h1v1h-1zM177 188h2v1h-2zM276 188h2v1h-2zM328 188h2v1h-2zM179 189h2v1h-2zM275 189h1v1h-1zM330 189h1v1h-1zM181 190h3v1h-3zM273 190h2v1h-2zM331 190h1v1h-1zM184 191h3v1h-3zM271 191h2v1h-2zM332 191h1v1h-1zM187 192h2v1h-2zM269 192h2v1h-2zM333 192h1v1h-1zM189 193h2v1h-2zM267 193h2v1h-2zM334 193h1v1h-1zM191 194h2v1h-2zM265 194h2v1h-2zM335 194h1v1h-1zM193 195h2v1h-2zM263 195h2v1h-2zM336 195h1v1h-1zM195 196h2v1h-2zM260 196h3v1h-3zM337 196h1v1h-1zM197 197h3v1h-3zM256 197h4v1h-4zM338 197h1v1h-1zM604 197h4v1h-4zM200 198h4v1h-4zM252 198h4v1h-4zM600 198h4v1h-4zM608 198h8v1h-8zM339 198h1v2h-1zM204 199h3v1h-3zM248 199h4v1h-4zM488 199h7v1h-7zM596 199h4v1h-4zM616 199h3v1h-3zM207 200h2v1h-2zM244 200h4v1h-4zM340 200h1v1h-1zM486 200h2v1h-2zM495 200h2v1h-2zM585 200h11v1h-11zM619 200h2v1h-2zM209 201h2v1h-2zM240 201h4v1h-4zM484 201h2v1h-2zM497 201h2v1h-2zM583 201h2v1h-2zM621 201h2v1h-2zM341 201h1v2h-1zM211 202h2v1h-2zM236 202h4v1h-4zM483 202h1v1h-1zM499 202h2v1h-2zM540 202h8v1h-8zM576 202h7v1h-7zM623 202h2v1h-2zM213 203h3v1h-3zM232 203h4v1h-4zM342 203h1v1h-1zM481 203h2v1h-2zM501 203h2v1h-2zM537 203h3v1h-3zM548 203h4v1h-4zM572 203h4v1h-4zM625 203h2v1h-2zM216 204h4v1h-4zM228 204h4v1h-4zM479 204h2v1h-2zM503 204h2v1h-2zM535 204h2v1h-2zM552 204h4v1h-4zM569 204h3v1h-3zM627 204h1v1h-1zM343 204h1v2h-1zM220 205h8v1h-8zM477 205h2v1h-2zM505 205h2v1h-2zM532 205h3v1h-3zM556 205h8v1h-8zM567 205h2v1h-2zM628 205h2v1h-2zM344 206h1v1h-1zM475 206h2v1h-2zM507 206h2v1h-2zM528 206h4v1h-4zM564 206h3v1h-3zM630 206h1v1h-1zM473 207h2v1h-2zM509 207h3v1h-3zM524 207h4v1h-4zM631 207h2v1h-2zM345 207h1v2h-1zM471 208h2v1h-2zM512 208h12v1h-12zM633 208h2v1h-2zM346 209h1v1h-1zM470 209h1v1h-1zM635 209h2v1h-2zM469 210h1v1h-1zM637 210h2v1h-2zM347 210h1v2h-1zM639 211h2v1h-2zM644 211h7v1h-7zM468 211h1v2h-1zM348 212h1v1h-1zM641 212h3v1h-3zM651 212h2v1h-2zM467 213h1v1h-1zM653 213h2v1h-2zM349 213h1v2h-1zM466 214h1v1h-1zM655 214h1v1h-1zM350 215h1v1h-1zM465 215h1v1h-1zM656 215h2v1h-2zM351 216h1v1h-1zM464 216h1v1h-1zM658 216h1v1h-1zM352 217h2v1h-2zM463 217h1v1h-1zM659 217h1v1h-1zM354 218h1v1h-1zM462 218h1v1h-1zM660 218h1v2h-1zM355 219h1v1h-1zM461 219h1v2h-1zM356 220h1v1h-1zM661 220h1v1h-1zM357 221h1v1h-1zM460 221h1v1h-1zM662 221h1v1h-1zM358 222h1v1h-1zM459 222h1v2h-1zM663 222h1v2h-1zM359 223h1v1h-1zM360 224h2v1h-2zM458 224h1v1h-1zM664 224h1v1h-1zM362 225h1v1h-1zM457 225h1v1h-1zM665 225h1v2h-1zM363 226h1v1h-1zM456 226h1v2h-1zM666 227h1v1h-1zM364 227h1v2h-1zM455 228h1v1h-1zM667 228h1v1h-1zM365 229h1v1h-1zM385 229h11v1h-11zM454 229h1v1h-1zM668 229h2v1h-2zM366 230h1v1h-1zM383 230h2v1h-2zM396 230h3v1h-3zM453 230h1v1h-1zM670 230h1v1h-1zM367 231h2v1h-2zM377 231h6v1h-6zM399 231h1v1h-1zM452 231h1v1h-1zM671 231h1v1h-1zM369 232h3v1h-3zM375 232h2v1h-2zM400 232h2v1h-2zM451 232h1v1h-1zM672 232h2v1h-2zM372 233h3v1h-3zM402 233h1v1h-1zM450 233h1v1h-1zM674 233h1v1h-1zM403 234h1v1h-1zM448 234h2v1h-2zM675 234h1v1h-1zM404 235h1v1h-1zM447 235h1v1h-1zM676 235h2v1h-2zM405 236h1v1h-1zM445 236h2v1h-2zM678 236h1v1h-1zM406 237h1v1h-1zM443 237h2v1h-2zM679 237h1v1h-1zM407 238h1v1h-1zM442 238h1v1h-1zM680 238h2v1h-2zM408 239h1v1h-1zM440 239h2v1h-2zM682 239h1v1h-1zM409 240h1v1h-1zM439 240h1v1h-1zM683 240h1v1h-1zM410 241h1v1h-1zM438 241h1v1h-1zM684 241h2v1h-2zM411 242h2v1h-2zM436 242h2v1h-2zM686 242h1v1h-1zM413 243h2v1h-2zM435 243h1v1h-1zM687 243h1v1h-1zM415 244h1v1h-1zM432 244h3v1h-3zM688 244h1v1h-1zM416 245h2v1h-2zM429 245h3v1h-3zM689 245h1v1h-1zM418 246h2v1h-2zM427 246h2v1h-2zM690 246h1v1h-1zM420 247h7v1h-7zM691 247h1v1h-1zM692 248h2v1h-2zM694 249h1v1h-1zM695 250h1v1h-1zM696 251h2v1h-2zM698 252h1v1h-1zM699 253h1v1h-1zM700 254h1v1h-1zM701 255h1v1h-1zM702 256h1v1h-1zM703 257h1v1h-1zM704 258h1v1h-1zM705 259h1v1h-1zM706 260h1v1h-1zM707 261h1v1h-1zM708 262h2v1h-2zM710 263h1v1h-1zM711 264h1v1h-1zM712 265h1v1h-1zM713 266h1v1h-1zM714 267h1v1h-1zM715 268h1v1h-1zM716 269h1v1h-1zM717 270h1v1h-1zM718 271h1v1h-1zM719 272h1v1h-1zM720 273h1v1h-1zM721 274h1v1h-1zM722 275h1v1h-1zM723 276h1v1h-1zM724 277h2v1h-2zM726 278h1v1h-1zM727 279h1v1h-1zM728 280h2v1h-2zM730 281h1v1h-1zM731 282h1v1h-1zM732 283h1v1h-1zM733 284h1v1h-1zM734 285h1v1h-1zM735 286h1v1h-1zM736 287h2v1h-2zM738 288h1v1h-1zM739 289h1v1h-1zM740 290h2v1h-2zM742 291h1v1h-1zM743 292h1v1h-1zM744 293h2v1h-2zM746 294h1v1h-1zM747 295h1v1h-1zM748 296h2v1h-2zM750 297h1v1h-1zM751 298h1v1h-1zM752 299h2v1h-2zM754 300h1v1h-1zM755 301h1v1h-1zM756 302h1v1h-1zM757 303h1v1h-1zM758 304h1v1h-1zM759 305h1v1h-1zM760 306h2v1h-2zM762 307h1v1h-1zM763 308h1v1h-1zM764 309h2v1h-2zM766 310h1v1h-1zM767 311h1v1h-1zM768 312h1v1h-1zM769 313h1v1h-1zM770 314h1v1h-1zM771 315h2v1h-2zM773 316h2v1h-2zM775 317h2v1h-2zM784 317h3v1h-3zM777 318h7v1h-7zM787 318h2v1h-2zM789 319h2v1h-2zM791 320h1v1h-1zM792 321h2v1h-2zM794 322h1v1h-1zM795 323h2v1h-2zM797 324h2v1h-2zM799 325h2v1h-2zM801 326h2v1h-2zM803 327h1v1h-1zM804 328h1v1h-1zM805 329h1v1h-1zM806 330h1v1h-1zM807 331h1v1h-1zM808 332h1v1h-1zM809 333h1v1h-1zM810 334h1v1h-1zM811 335h1v1h-1zM812 336h1v2h-1zM813 338h1v1h-1zM814 339h1v1h-1zM815 340h1v1h-1zM816 341h1v2h-1zM817 343h1v1h-1zM818 344h1v1h-1zM819 345h1v1h-1zM820 346h1v1h-1zM821 347h1v1h-1zM822 348h1v1h-1zM823 349h1v1h-1zM824 350h1v1h-1zM825 351h1v1h-1zM826 352h1v1h-1zM827 353h1v2h-1zM828 355h1v1h-1zM829 356h1v2h-1zM830 358h1v1h-1zM831 359h1v2h-1zM832 361h1v1h-1zM833 362h1v2h-1zM834 364h1v1h-1zM835 365h1v2h-1zM836 367h1v1h-1zM837 368h1v2h-1zM838 370h1v1h-1zM839 371h1v1h-1zM840 372h1v2h-1zM841 374h1v1h-1zM842 375h1v1h-1zM843 376h1v1h-1zM844 377h1v2h-1zM845 379h1v1h-1zM846 380h1v1h-1zM847 381h1v1h-1zM848 382h1v2h-1zM849 384h1v1h-1zM850 385h1v1h-1zM851 386h1v2h-1zM852 388h1v2h-1zM853 390h1v2h-1zM854 392h1v1h-1zM855 393h1v1h-1zM856 394h1v2h-1zM857 396h1v1h-1zM858 397h1v1h-1zM859 398h1v1h-1zM860 399h1v2h-1zM861 401h1v1h-1zM862 402h1v1h-1zM863 403h1v1h-1zM864 404h1v2h-1zM865 406h1v1h-1zM866 407h1v1h-1zM867 408h1v1h-1zM868 409h1v2h-1zM869 411h1v1h-1zM870 412h1v1h-1zM871 413h1v1h-1zM872 414h2v1h-2zM874 415h1v1h-1zM875 416h1v1h-1zM876 417h1v2h-1zM877 419h1v1h-1zM878 420h1v1h-1zM879 421h1v1h-1zM880 422h1v2h-1zM881 424h1v1h-1zM882 425h1v1h-1zM883 426h1v1h-1zM884 427h1v2h-1zM885 429h1v1h-1zM886 430h1v1h-1zM887 431h1v1h-1zM888 432h1v2h-1zM889 434h1v1h-1zM890 435h1v1h-1zM891 436h1v1h-1zM892 437h1v2h-1zM893 439h1v1h-1zM894 440h1v1h-1zM895 441h1v2h-1zM896 443h1v1h-1zM897 444h1v2h-1zM898 446h1v1h-1zM899 447h1v1h-1zM900 448h1v2h-1zM901 450h1v1h-1zM902 451h1v1h-1zM903 452h1v2h-1zM904 454h1v1h-1zM905 455h1v2h-1zM906 457h1v1h-1zM907 458h1v1h-1zM908 459h1v1h-1zM909 460h1v1h-1zM1108 460h8v1h-8zM910 461h1v1h-1zM1072 461h4v1h-4zM1100 461h8v1h-8zM1116 461h8v1h-8zM911 462h1v1h-1zM1068 462h4v1h-4zM1076 462h8v1h-8zM1097 462h3v1h-3zM1124 462h4v1h-4zM912 463h1v1h-1zM1065 463h3v1h-3zM1084 463h4v1h-4zM1095 463h2v1h-2zM1128 463h4v1h-4zM913 464h1v1h-1zM1063 464h2v1h-2zM1088 464h7v1h-7zM1132 464h3v1h-3zM914 465h1v1h-1zM1061 465h2v1h-2zM1135 465h2v1h-2zM915 466h1v1h-1zM1059 466h2v1h-2zM1137 466h2v1h-2zM1057 467h2v1h-2zM1139 467h1v1h-1zM916 467h1v2h-1zM1055 468h2v1h-2zM1140 468h2v1h-2zM917 469h1v1h-1zM1054 469h1v1h-1zM1142 469h2v1h-2zM918 470h1v1h-1zM1052 470h2v1h-2zM1144 470h3v1h-3zM919 471h1v1h-1zM1051 471h1v1h-1zM1147 471h2v1h-2zM920 472h1v1h-1zM1049 472h2v1h-2zM1149 472h2v1h-2zM921 473h1v1h-1zM1047 473h2v1h-2zM1151 473h2v1h-2zM922 474h1v1h-1zM1044 474h3v1h-3zM1153 474h3v1h-3zM923 475h1v1h-1zM1041 475h3v1h-3zM1156 475h4v1h-4zM924 476h2v1h-2zM1039 476h2v1h-2zM1160 476h3v1h-3zM926 477h1v1h-1zM1038 477h1v1h-1zM1163 477h2v1h-2zM927 478h1v1h-1zM1036 478h2v1h-2zM1165 478h3v1h-3zM928 479h2v1h-2zM1035 479h1v1h-1zM1168 479h3v1h-3zM930 480h1v1h-1zM1033 480h2v1h-2zM1171 480h1v1h-1zM931 481h1v1h-1zM1031 481h2v1h-2zM1172 481h1v1h-1zM932 482h2v1h-2zM1030 482h1v1h-1zM1173 482h1v1h-1zM934 483h1v1h-1zM1028 483h2v1h-2zM1174 483h1v1h-1zM935 484h2v1h-2zM1027 484h1v1h-1zM1175 484h1v1h-1zM937 485h2v1h-2zM1026 485h1v1h-1zM1176 485h2v1h-2zM939 486h1v1h-1zM1024 486h2v1h-2zM1178 486h2v1h-2zM1204 486h4v1h-4zM940 487h1v1h-1zM1023 487h1v1h-1zM1180 487h12v1h-12zM1196 487h8v1h-8zM1208 487h8v1h-8zM1236 487h20v1h-20zM941 488h1v1h-1zM1021 488h2v1h-2zM1192 488h4v1h-4zM1216 488h4v1h-4zM1228 488h8v1h-8zM1256 488h3v1h-3zM942 489h2v1h-2zM1019 489h2v1h-2zM1220 489h8v1h-8zM1259 489h2v1h-2zM944 490h4v1h-4zM956 490h8v1h-8zM972 490h8v1h-8zM1018 490h1v1h-1zM1261 490h2v1h-2zM948 491h8v1h-8zM964 491h8v1h-8zM980 491h7v1h-7zM1016 491h2v1h-2zM1263 491h1v1h-1zM987 492h2v1h-2zM1015 492h1v1h-1zM1264 492h1v1h-1zM989 493h3v1h-3zM1012 493h3v1h-3zM1265 493h1v1h-1zM992 494h20v1h-20zM1266 494h1v1h-1z" fill="#0000CD"/>
</g>
<rect x="1595" y="50" width="2" height="1" fill="#000"/>
<text x="1599.47" y="54" font-size="10" fill="#000" stroke="#000" stroke-width="0.15" textLength="33.57" lengthAdjust="spacingAndGlyphs" >1.00130</text>
<rect x="1595" y="83" width="2" height="1" fill="#000"/>
<text x="1599.90" y="87" font-size="10" fill="#000" stroke="#000" stroke-width="0.15" textLength="33.14" lengthAdjust="spacingAndGlyphs" >0.99430</text>
<rect x="1595" y="116" width="2" height="1" fill="#000"/>
<text x="1599.90" y="120" font-size="10" fill="#000" stroke="#000" stroke-width="0.15" textLength="33.14" lengthAdjust="spacingAndGlyphs" >0.98750</text>
<rect x="1595" y="149" width="2" height="1" fill="#000"/>
<text x="1599.90" y="153" font-size="10" fill="#000" stroke="#000" stroke-width="0.15" textLength="33.14" lengthAdjust="spacingAndGlyphs" >0.98070</text>
<rect x="1595" y="182" width="2" height="1" fill="#000"/>
<text x="1599.90" y="186" font-size="10" fill="#000" stroke="#000" stroke-width="0.15" textLength="33.14" lengthAdjust="spacingAndGlyphs" >0.97390</text>
<rect x="1595" y="215" width="2" height="1" fill="#000"/>
<text x="1599.90" y="219" font-size="10" fill="#000" stroke="#000" stroke-width="0.15" textLength="33.14" lengthAdjust="spacingAndGlyphs" >0.96710</text>
<rect x="1595" y="248" width="2" height="1" fill="#000"/>
<text x="1599.90" y="252" font-size="10" fill="#000" stroke="#000" stroke-width="0.15" textLength="33.14" lengthAdjust="spacingAndGlyphs" >0.96010</text>
<rect x="1595" y="281" width="2" height="1" fill="#000"/>
<text x="1599.90" y="285" font-size="10" fill="#000" stroke="#000" stroke-width="0.15" textLength="33.14" lengthAdjust="spacingAndGlyphs" >0.95330</text>
<rect x="1595" y="314" width="2" height="1" fill="#000"/>
<text x="1599.90" y="318" font-size="10" fill="#000" stroke="#000" stroke-width="0.15" textLength="33.14" lengthAdjust="spacingAndGlyphs" >0.94650</text>
<rect x="1595" y="347" width="2" height="1" fill="#000"/>
<text x="1599.90" y="351" font-size="10" fill="#000" stroke="#000" stroke-width="0.15" textLength="33.14" lengthAdjust="spacingAndGlyphs" >0.93970</text>
<rect x="1595" y="380" width="2" height="1" fill="#000"/>
<text x="1599.90" y="384" font-size="10" fill="#000" stroke="#000" stroke-width="0.15" textLength="33.14" lengthAdjust="spacingAndGlyphs" >0.93290</text>
<rect x="1595" y="413" width="2" height="1" fill="#000"/>
<text x="1599.90" y="417" font-size="10" fill="#000" stroke="#000" stroke-width="0.15" textLength="33.14" lengthAdjust="spacingAndGlyphs" >0.92610</text>
<rect x="1595" y="446" width="2" height="1" fill="#000"/>
<text x="1599.90" y="450" font-size="10" fill="#000" stroke="#000" stroke-width="0.15" textLength="33.14" lengthAdjust="spacingAndGlyphs" >0.91910</text>
<rect x="1595" y="479" width="2" height="1" fill="#000"/>
<text x="1599.90" y="483" font-size="10" fill="#000" stroke="#000" stroke-width="0.15" textLength="33.14" lengthAdjust="spacingAndGlyphs" >0.91230</text>
<rect x="1595" y="512" width="2" height="1" fill="#000"/>
<text x="1599.90" y="516" font-size="10" fill="#000" stroke="#000" stroke-width="0.15" textLength="33.14" lengthAdjust="spacingAndGlyphs" >0.90550</text>
<rect x="1595" y="545" width="2" height="1" fill="#000"/>
<text x="1599.90" y="549" font-size="10" fill="#000" stroke="#000" stroke-width="0.15" textLength="33.14" lengthAdjust="spacingAndGlyphs" >0.89870</text>
<rect x="1595" y="578" width="2" height="1" fill="#000"/>
<text x="1599.90" y="582" font-size="10" fill="#000" stroke="#000" stroke-width="0.15" textLength="33.14" lengthAdjust="spacingAndGlyphs" >0.89190</text>
<rect x="1596" y="254" width="40" height="11" fill="#FF0000"/>
<text x="1600.10" y="263" font-size="10" fill="#fff" stroke="#fff" stroke-width="0.15" textLength="33.14" lengthAdjust="spacingAndGlyphs" >0.95766</text>
<rect x="1596" y="320" width="40" height="11" fill="#FF0000"/>
<text x="1600.10" y="329" font-size="10" fill="#fff" stroke="#fff" stroke-width="0.15" textLength="33.14" lengthAdjust="spacingAndGlyphs" >0.94413</text>
<rect x="1596" y="388" width="40" height="11" fill="#FF0000"/>
<text x="1600.10" y="397" font-size="10" fill="#fff" stroke="#fff" stroke-width="0.15" textLength="33.14" lengthAdjust="spacingAndGlyphs" >0.93001</text>
<rect x="1596" y="450" width="40" height="11" fill="#00FF00"/>
<text x="1600.10" y="459" font-size="10" fill="#fff" stroke="#fff" stroke-width="0.15" textLength="33.14" lengthAdjust="spacingAndGlyphs" >0.91709</text>
<rect x="1596" y="530" width="40" height="11" fill="#0000FF"/>
<text x="1600.10" y="539" font-size="10" fill="#fff" stroke="#fff" stroke-width="0.15" textLength="33.14" lengthAdjust="spacingAndGlyphs" >0.90055</text>
<rect x="1596" y="560" width="40" height="11" fill="#000000"/>
<text x="1600.10" y="569" font-size="10" fill="#fff" stroke="#fff" stroke-width="0.15" textLength="33.14" lengthAdjust="spacingAndGlyphs" >0.89455</text>
<path d="M5 32 L12 32 L8.5 36 Z" fill="#000"/>
<text x="17.60" y="37" font-size="10" fill="#000" stroke="#000" stroke-width="0.15" textLength="63.38" lengthAdjust="spacingAndGlyphs" >USDCHF,Daily</text>
<text x="88.00" y="37" font-size="10" fill="#000" stroke="#000" stroke-width="0.15" textLength="140.34" lengthAdjust="spacingAndGlyphs" >0.89651 0.89653 0.89402 0.89455</text>
<g shape-rendering="crispEdges">
<line x1="3" y1="614.5" x2="1594" y2="614.5" stroke="#C0C0C0" stroke-dasharray="3,3"/>
<line x1="3" y1="654.5" x2="1594" y2="654.5" stroke="#C0C0C0" stroke-dasharray="3,3"/>
</g>
<g clip-path="url(#cr)" shape-rendering="crispEdges"><path d="M1030 613h1v1h-1zM1028 614h2v1h-2zM1031 614h2v1h-2zM1027 615h1v1h-1zM1033 615h2v1h-2zM1026 616h1v1h-1zM1035 616h1v2h-1zM278 617h1v1h-1zM384 617h3v1h-3zM1024 617h2v1h-2zM276 618h2v1h-2zM279 618h2v1h-2zM378 618h6v1h-6zM387 618h1v1h-1zM1023 618h1v1h-1zM1036 618h1v2h-1zM262 619h10v1h-10zM275 619h1v1h-1zM281 619h1v1h-1zM1022 619h1v1h-1zM282 619h1v2h-1zM377 619h1v2h-1zM388 619h1v2h-1zM261 620h1v1h-1zM272 620h3v1h-3zM1020 620h2v1h-2zM1037 620h1v2h-1zM2 620h1v3h-1zM260 621h1v1h-1zM376 621h1v1h-1zM389 621h1v1h-1zM1019 621h1v1h-1zM283 621h1v3h-1zM259 622h1v1h-1zM390 622h2v1h-2zM1018 622h1v1h-1zM1038 622h1v1h-1zM375 622h1v2h-1zM258 623h1v1h-1zM392 623h3v1h-3zM1017 623h1v1h-1zM1039 623h1v1h-1zM3 623h1v4h-1zM241 624h3v1h-3zM256 624h2v1h-2zM374 624h1v1h-1zM395 624h1v1h-1zM1016 624h1v1h-1zM284 624h1v2h-1zM1040 624h1v2h-1zM1158 624h1v2h-1zM239 625h2v1h-2zM244 625h8v1h-8zM255 625h1v1h-1zM373 625h1v1h-1zM396 625h2v1h-2zM1015 625h1v1h-1zM1156 625h2v1h-2zM237 626h2v1h-2zM252 626h3v1h-3zM430 626h1v1h-1zM501 626h3v1h-3zM508 626h4v1h-4zM1041 626h1v1h-1zM1155 626h1v1h-1zM372 626h1v2h-1zM398 626h1v2h-1zM1014 626h1v2h-1zM285 626h1v3h-1zM1159 626h1v3h-1zM235 627h2v1h-2zM428 627h2v1h-2zM431 627h2v1h-2zM436 627h3v1h-3zM499 627h2v1h-2zM504 627h4v1h-4zM512 627h6v1h-6zM1042 627h1v1h-1zM1147 627h1v1h-1zM1152 627h3v1h-3zM1190 627h1v1h-1zM518 627h1v2h-1zM1146 627h1v2h-1zM4 627h1v4h-1zM205 628h1v1h-1zM233 628h2v1h-2zM371 628h1v1h-1zM427 628h1v1h-1zM433 628h3v1h-3zM439 628h1v1h-1zM497 628h2v1h-2zM541 628h6v1h-6zM968 628h3v1h-3zM1043 628h1v1h-1zM1148 628h4v1h-4zM1189 628h1v1h-1zM1191 628h1v1h-1zM206 628h1v2h-1zM399 628h1v2h-1zM1013 628h1v2h-1zM203 629h2v1h-2zM231 629h2v1h-2zM426 629h1v1h-1zM495 629h2v1h-2zM539 629h2v1h-2zM966 629h2v1h-2zM1044 629h1v1h-1zM1054 629h5v1h-5zM1188 629h1v1h-1zM286 629h1v2h-1zM370 629h1v2h-1zM440 629h1v2h-1zM547 629h1v2h-1zM971 629h1v2h-1zM1145 629h1v2h-1zM1160 629h1v2h-1zM1192 629h1v2h-1zM519 629h1v3h-1zM230 630h1v1h-1zM287 630h1v1h-1zM425 630h1v1h-1zM493 630h2v1h-2zM570 630h2v1h-2zM958 630h1v1h-1zM965 630h1v1h-1zM1045 630h1v1h-1zM1053 630h1v1h-1zM1187 630h1v1h-1zM202 630h1v2h-1zM538 630h1v2h-1zM1012 630h1v2h-1zM1059 630h1v2h-1zM207 630h1v3h-1zM400 630h1v3h-1zM229 631h1v1h-1zM288 631h4v1h-4zM424 631h1v1h-1zM441 631h1v1h-1zM491 631h2v1h-2zM548 631h1v1h-1zM557 631h2v1h-2zM569 631h1v1h-1zM572 631h4v1h-4zM600 631h3v1h-3zM957 631h1v1h-1zM959 631h1v1h-1zM972 631h1v1h-1zM1046 631h1v1h-1zM1052 631h1v1h-1zM1186 631h1v1h-1zM1193 631h1v1h-1zM1230 631h1v1h-1zM586 631h1v2h-1zM964 631h1v2h-1zM1144 631h1v3h-1zM1161 631h1v3h-1zM5 631h1v4h-1zM369 631h1v4h-1zM292 632h3v1h-3zM423 632h1v1h-1zM442 632h5v1h-5zM474 632h1v1h-1zM489 632h2v1h-2zM555 632h2v1h-2zM559 632h1v1h-1zM568 632h1v1h-1zM576 632h3v1h-3zM584 632h2v1h-2zM597 632h3v1h-3zM603 632h1v1h-1zM960 632h1v1h-1zM1047 632h2v1h-2zM1051 632h1v1h-1zM1184 632h2v1h-2zM1194 632h6v1h-6zM1228 632h2v1h-2zM1231 632h2v1h-2zM201 632h1v2h-1zM228 632h1v2h-1zM520 632h1v2h-1zM537 632h1v2h-1zM549 632h1v2h-1zM956 632h1v2h-1zM973 632h1v2h-1zM1011 632h1v2h-1zM1060 632h1v2h-1zM295 633h1v1h-1zM301 633h1v1h-1zM422 633h1v1h-1zM447 633h1v1h-1zM473 633h1v1h-1zM475 633h1v1h-1zM487 633h2v1h-2zM552 633h3v1h-3zM567 633h1v1h-1zM579 633h2v1h-2zM583 633h1v1h-1zM595 633h2v1h-2zM604 633h2v1h-2zM961 633h1v1h-1zM963 633h1v1h-1zM1049 633h2v1h-2zM1073 633h1v1h-1zM1183 633h1v1h-1zM1200 633h7v1h-7zM1227 633h1v1h-1zM1233 633h2v1h-2zM302 633h1v2h-1zM401 633h1v2h-1zM560 633h1v2h-1zM587 633h1v2h-1zM1074 633h1v2h-1zM208 633h1v3h-1zM227 634h1v1h-1zM296 634h2v1h-2zM299 634h2v1h-2zM420 634h2v1h-2zM448 634h1v1h-1zM472 634h1v1h-1zM476 634h2v1h-2zM480 634h7v1h-7zM550 634h2v1h-2zM565 634h2v1h-2zM581 634h2v1h-2zM594 634h1v1h-1zM606 634h1v1h-1zM955 634h1v1h-1zM962 634h1v1h-1zM974 634h1v1h-1zM1071 634h2v1h-2zM1100 634h4v1h-4zM1207 634h2v1h-2zM1218 634h2v1h-2zM1224 634h3v1h-3zM1235 634h1v1h-1zM200 634h1v2h-1zM536 634h1v2h-1zM1010 634h1v2h-1zM1061 634h1v2h-1zM1143 634h1v2h-1zM1162 634h1v2h-1zM1182 634h1v2h-1zM521 634h1v3h-1zM226 635h1v1h-1zM298 635h1v1h-1zM419 635h1v1h-1zM449 635h1v1h-1zM460 635h3v1h-3zM471 635h1v1h-1zM478 635h2v1h-2zM561 635h1v1h-1zM563 635h2v1h-2zM607 635h1v1h-1zM614 635h1v1h-1zM950 635h5v1h-5zM1008 635h2v1h-2zM1069 635h2v1h-2zM1098 635h2v1h-2zM1104 635h3v1h-3zM1163 635h1v1h-1zM1209 635h2v1h-2zM1216 635h2v1h-2zM1220 635h4v1h-4zM1236 635h1v1h-1zM402 635h1v2h-1zM593 635h1v2h-1zM975 635h1v2h-1zM1075 635h1v2h-1zM303 635h1v3h-1zM588 635h1v3h-1zM6 635h1v4h-1zM368 635h1v4h-1zM190 636h2v1h-2zM416 636h3v1h-3zM450 636h2v1h-2zM456 636h4v1h-4zM463 636h1v1h-1zM470 636h1v1h-1zM562 636h1v1h-1zM613 636h1v1h-1zM949 636h1v1h-1zM1002 636h6v1h-6zM1067 636h2v1h-2zM1096 636h2v1h-2zM1164 636h3v1h-3zM1211 636h2v1h-2zM1215 636h1v1h-1zM1237 636h1v1h-1zM199 636h1v2h-1zM225 636h1v2h-1zM535 636h1v2h-1zM608 636h1v2h-1zM615 636h1v2h-1zM1062 636h1v2h-1zM1090 636h1v2h-1zM1107 636h1v2h-1zM1142 636h1v2h-1zM209 636h1v3h-1zM1181 636h1v4h-1zM189 637h1v1h-1zM192 637h3v1h-3zM360 637h3v1h-3zM403 637h1v1h-1zM414 637h2v1h-2zM452 637h4v1h-4zM469 637h1v1h-1zM612 637h1v1h-1zM976 637h1v1h-1zM984 637h3v1h-3zM1000 637h2v1h-2zM1063 637h4v1h-4zM1091 637h2v1h-2zM1095 637h1v1h-1zM1213 637h2v1h-2zM1238 637h1v1h-1zM464 637h1v2h-1zM522 637h1v2h-1zM592 637h1v2h-1zM782 637h1v2h-1zM948 637h1v2h-1zM1167 637h1v2h-1zM1076 637h1v3h-1zM22 638h2v1h-2zM182 638h1v1h-1zM188 638h1v1h-1zM195 638h2v1h-2zM224 638h1v1h-1zM355 638h5v1h-5zM468 638h1v1h-1zM609 638h1v1h-1zM611 638h1v1h-1zM616 638h1v1h-1zM726 638h1v1h-1zM783 638h2v1h-2zM910 638h5v1h-5zM981 638h3v1h-3zM987 638h1v1h-1zM993 638h3v1h-3zM999 638h1v1h-1zM1093 638h2v1h-2zM1141 638h1v1h-1zM1239 638h1v1h-1zM198 638h1v2h-1zM363 638h1v2h-1zM404 638h1v2h-1zM413 638h1v2h-1zM534 638h1v2h-1zM589 638h1v2h-1zM977 638h1v2h-1zM1089 638h1v2h-1zM1108 638h1v2h-1zM354 638h1v3h-1zM304 638h1v4h-1zM21 639h1v1h-1zM24 639h3v1h-3zM181 639h1v1h-1zM183 639h2v1h-2zM187 639h1v1h-1zM197 639h1v1h-1zM465 639h1v1h-1zM467 639h1v1h-1zM610 639h1v1h-1zM647 639h1v1h-1zM674 639h1v1h-1zM725 639h1v1h-1zM727 639h1v1h-1zM785 639h2v1h-2zM915 639h2v1h-2zM947 639h1v1h-1zM979 639h2v1h-2zM988 639h2v1h-2zM991 639h2v1h-2zM996 639h3v1h-3zM1168 639h1v1h-1zM1240 639h1v1h-1zM7 639h1v2h-1zM210 639h1v2h-1zM223 639h1v2h-1zM523 639h1v2h-1zM591 639h1v2h-1zM617 639h1v2h-1zM646 639h1v2h-1zM909 639h1v2h-1zM1140 639h1v2h-1zM781 639h1v3h-1zM367 639h1v4h-1zM27 640h1v1h-1zM140 640h4v1h-4zM174 640h1v1h-1zM185 640h2v1h-2zM405 640h1v1h-1zM412 640h1v1h-1zM466 640h1v1h-1zM533 640h1v1h-1zM648 640h3v1h-3zM672 640h2v1h-2zM675 640h1v1h-1zM692 640h4v1h-4zM917 640h2v1h-2zM978 640h1v1h-1zM990 640h1v1h-1zM1241 640h1v1h-1zM20 640h1v2h-1zM180 640h1v2h-1zM364 640h1v2h-1zM590 640h1v2h-1zM724 640h1v2h-1zM728 640h1v2h-1zM787 640h1v2h-1zM946 640h1v2h-1zM1077 640h1v2h-1zM1088 640h1v2h-1zM1109 640h1v2h-1zM1169 640h1v2h-1zM1180 640h1v3h-1zM28 641h2v1h-2zM138 641h2v1h-2zM144 641h3v1h-3zM173 641h1v1h-1zM175 641h1v1h-1zM211 641h1v1h-1zM222 641h1v1h-1zM406 641h1v1h-1zM532 641h1v1h-1zM618 641h1v1h-1zM671 641h1v1h-1zM676 641h2v1h-2zM685 641h7v1h-7zM696 641h3v1h-3zM713 641h3v1h-3zM908 641h1v1h-1zM919 641h2v1h-2zM1134 641h2v1h-2zM1139 641h1v1h-1zM1242 641h1v1h-1zM411 641h1v2h-1zM524 641h1v2h-1zM645 641h1v2h-1zM651 641h1v2h-1zM902 641h1v2h-1zM8 641h1v3h-1zM353 641h1v5h-1zM19 642h1v1h-1zM30 642h1v1h-1zM73 642h6v1h-6zM137 642h1v1h-1zM147 642h1v1h-1zM172 642h1v1h-1zM176 642h2v1h-2zM179 642h1v1h-1zM407 642h2v1h-2zM531 642h1v1h-1zM619 642h2v1h-2zM633 642h2v1h-2zM678 642h2v1h-2zM683 642h2v1h-2zM699 642h1v1h-1zM711 642h2v1h-2zM716 642h4v1h-4zM723 642h1v1h-1zM729 642h1v1h-1zM788 642h1v1h-1zM872 642h3v1h-3zM903 642h1v1h-1zM921 642h6v1h-6zM1122 642h1v1h-1zM1133 642h1v1h-1zM1136 642h3v1h-3zM1170 642h1v1h-1zM1243 642h1v1h-1zM212 642h1v2h-1zM221 642h1v2h-1zM365 642h1v2h-1zM780 642h1v2h-1zM907 642h1v2h-1zM945 642h1v2h-1zM1078 642h1v2h-1zM1087 642h1v2h-1zM1110 642h1v2h-1zM305 642h1v3h-1zM670 642h1v3h-1zM14 643h5v1h-5zM31 643h1v1h-1zM71 643h2v1h-2zM79 643h1v1h-1zM90 643h1v1h-1zM148 643h2v1h-2zM171 643h1v1h-1zM178 643h1v1h-1zM409 643h2v1h-2zM529 643h2v1h-2zM621 643h7v1h-7zM631 643h2v1h-2zM635 643h2v1h-2zM652 643h1v1h-1zM680 643h3v1h-3zM700 643h1v1h-1zM710 643h1v1h-1zM720 643h3v1h-3zM730 643h10v1h-10zM870 643h2v1h-2zM875 643h1v1h-1zM904 643h2v1h-2zM927 643h2v1h-2zM1079 643h1v1h-1zM1123 643h1v1h-1zM1244 643h2v1h-2zM1252 643h3v1h-3zM136 643h1v2h-1zM366 643h1v2h-1zM525 643h1v2h-1zM789 643h1v2h-1zM1121 643h1v2h-1zM1132 643h1v2h-1zM1171 643h1v2h-1zM644 643h1v3h-1zM901 643h1v3h-1zM1179 643h1v4h-1zM13 644h1v1h-1zM32 644h2v1h-2zM40 644h3v1h-3zM70 644h1v1h-1zM80 644h2v1h-2zM89 644h1v1h-1zM130 644h1v1h-1zM150 644h1v1h-1zM167 644h4v1h-4zM213 644h1v1h-1zM220 644h1v1h-1zM527 644h2v1h-2zM628 644h3v1h-3zM637 644h2v1h-2zM701 644h1v1h-1zM709 644h1v1h-1zM740 644h7v1h-7zM770 644h2v1h-2zM796 644h3v1h-3zM869 644h1v1h-1zM906 644h1v1h-1zM929 644h2v1h-2zM1080 644h7v1h-7zM1111 644h2v1h-2zM1124 644h2v1h-2zM1246 644h6v1h-6zM1255 644h1v1h-1zM9 644h1v2h-1zM91 644h1v2h-1zM166 644h1v2h-1zM653 644h1v2h-1zM876 644h1v2h-1zM944 644h1v2h-1zM779 644h1v3h-1zM12 645h1v1h-1zM34 645h6v1h-6zM50 645h2v1h-2zM82 645h1v1h-1zM88 645h1v1h-1zM131 645h2v1h-2zM135 645h1v1h-1zM151 645h1v1h-1zM214 645h1v1h-1zM526 645h1v1h-1zM639 645h1v1h-1zM702 645h1v1h-1zM708 645h1v1h-1zM747 645h1v1h-1zM769 645h1v1h-1zM772 645h3v1h-3zM790 645h6v1h-6zM868 645h1v1h-1zM931 645h1v1h-1zM937 645h2v1h-2zM1113 645h2v1h-2zM1126 645h2v1h-2zM1131 645h1v1h-1zM43 645h1v2h-1zM69 645h1v2h-1zM129 645h1v2h-1zM219 645h1v2h-1zM306 645h1v2h-1zM799 645h1v2h-1zM1120 645h1v2h-1zM1172 645h1v2h-1zM1256 645h1v2h-1zM669 645h1v4h-1zM11 646h1v1h-1zM49 646h1v1h-1zM52 646h3v1h-3zM83 646h2v1h-2zM87 646h1v1h-1zM133 646h2v1h-2zM152 646h1v1h-1zM215 646h2v1h-2zM654 646h1v1h-1zM703 646h2v1h-2zM707 646h1v1h-1zM748 646h1v1h-1zM775 646h1v1h-1zM862 646h2v1h-2zM867 646h1v1h-1zM877 646h1v1h-1zM932 646h2v1h-2zM935 646h2v1h-2zM939 646h1v1h-1zM1115 646h1v1h-1zM1128 646h3v1h-3zM10 646h1v2h-1zM92 646h1v2h-1zM165 646h1v2h-1zM640 646h1v2h-1zM643 646h1v2h-1zM768 646h1v2h-1zM943 646h1v2h-1zM352 646h1v4h-1zM900 646h1v4h-1zM44 647h1v1h-1zM62 647h1v1h-1zM85 647h2v1h-2zM122 647h1v1h-1zM153 647h1v1h-1zM217 647h2v1h-2zM307 647h1v1h-1zM705 647h2v1h-2zM749 647h1v1h-1zM776 647h2v1h-2zM800 647h1v1h-1zM861 647h1v1h-1zM864 647h3v1h-3zM878 647h2v1h-2zM934 647h1v1h-1zM940 647h1v1h-1zM1116 647h1v1h-1zM1257 647h1v1h-1zM48 647h1v2h-1zM55 647h1v2h-1zM68 647h1v2h-1zM128 647h1v2h-1zM655 647h1v2h-1zM778 647h1v2h-1zM1119 647h1v2h-1zM1173 647h1v2h-1zM1178 647h1v2h-1zM61 648h1v1h-1zM63 648h1v1h-1zM120 648h2v1h-2zM123 648h1v1h-1zM154 648h1v1h-1zM308 648h2v1h-2zM641 648h1v1h-1zM750 648h2v1h-2zM762 648h2v1h-2zM767 648h1v1h-1zM880 648h4v1h-4zM888 648h3v1h-3zM941 648h1v1h-1zM1117 648h1v1h-1zM1176 648h2v1h-2zM1258 648h1v1h-1zM45 648h1v2h-1zM93 648h1v2h-1zM164 648h1v2h-1zM642 648h1v2h-1zM801 648h1v2h-1zM860 648h1v2h-1zM942 648h1v2h-1zM47 649h1v1h-1zM56 649h1v1h-1zM64 649h1v1h-1zM119 649h1v1h-1zM124 649h1v1h-1zM155 649h1v1h-1zM310 649h1v1h-1zM752 649h3v1h-3zM761 649h1v1h-1zM764 649h3v1h-3zM884 649h4v1h-4zM891 649h1v1h-1zM1118 649h1v1h-1zM1174 649h2v1h-2zM1259 649h1v1h-1zM60 649h1v2h-1zM67 649h1v2h-1zM127 649h1v2h-1zM656 649h1v2h-1zM846 649h1v2h-1zM668 649h1v4h-1zM46 650h1v1h-1zM65 650h1v1h-1zM94 650h1v1h-1zM118 650h1v1h-1zM125 650h1v1h-1zM156 650h2v1h-2zM311 650h1v1h-1zM755 650h1v1h-1zM760 650h1v1h-1zM802 650h1v1h-1zM847 650h1v1h-1zM859 650h1v1h-1zM892 650h2v1h-2zM1260 650h1v1h-1zM57 650h1v2h-1zM163 650h1v2h-1zM899 650h1v3h-1zM351 650h1v5h-1zM59 651h1v1h-1zM66 651h1v1h-1zM95 651h1v1h-1zM117 651h1v1h-1zM126 651h1v1h-1zM158 651h2v1h-2zM312 651h2v1h-2zM756 651h2v1h-2zM759 651h1v1h-1zM803 651h1v1h-1zM848 651h2v1h-2zM894 651h1v1h-1zM1261 651h1v1h-1zM657 651h1v2h-1zM858 651h1v2h-1zM845 651h1v3h-1zM58 652h1v1h-1zM96 652h2v1h-2zM116 652h1v1h-1zM160 652h3v1h-3zM314 652h1v1h-1zM758 652h1v1h-1zM850 652h1v1h-1zM895 652h1v1h-1zM1262 652h1v1h-1zM804 652h1v2h-1zM98 653h1v1h-1zM115 653h1v1h-1zM658 653h1v1h-1zM896 653h2v1h-2zM1263 653h2v1h-2zM315 653h1v2h-1zM851 653h1v2h-1zM857 653h1v2h-1zM898 653h1v2h-1zM667 653h1v4h-1zM99 654h1v1h-1zM114 654h1v1h-1zM659 654h2v1h-2zM805 654h1v1h-1zM1265 654h2v1h-2zM844 654h1v2h-1zM100 655h1v1h-1zM113 655h1v1h-1zM661 655h2v1h-2zM806 655h1v1h-1zM316 655h1v2h-1zM852 655h1v2h-1zM856 655h1v2h-1zM350 655h1v4h-1zM101 656h1v1h-1zM112 656h1v1h-1zM663 656h1v1h-1zM807 656h1v1h-1zM843 656h1v3h-1zM102 657h6v1h-6zM111 657h1v1h-1zM664 657h1v1h-1zM808 657h2v1h-2zM317 657h1v2h-1zM853 657h1v2h-1zM855 657h1v2h-1zM666 657h1v3h-1zM108 658h3v1h-3zM665 658h1v1h-1zM810 658h1v1h-1zM318 659h1v1h-1zM811 659h2v1h-2zM854 659h1v1h-1zM349 659h1v2h-1zM842 659h1v2h-1zM319 660h1v1h-1zM813 660h7v1h-7zM320 661h2v1h-2zM820 661h3v1h-3zM348 661h1v2h-1zM841 661h1v2h-1zM322 662h5v1h-5zM823 662h1v1h-1zM327 663h1v1h-1zM824 663h2v1h-2zM347 663h1v2h-1zM840 663h1v2h-1zM328 664h2v1h-2zM826 664h2v1h-2zM330 665h1v1h-1zM828 665h4v1h-4zM346 665h1v2h-1zM839 665h1v2h-1zM331 666h1v1h-1zM832 666h4v1h-4zM836 667h3v1h-3zM332 667h1v2h-1zM345 667h1v2h-1zM333 669h1v1h-1zM344 669h1v2h-1zM334 670h2v1h-2zM336 671h3v1h-3zM343 671h1v2h-1zM339 672h2v1h-2zM341 673h2v1h-2z" fill="#1E90FF"/></g>
<text x="5.37" y="596" font-size="10" fill="#000" stroke="#000" stroke-width="0.15" textLength="68.40" lengthAdjust="spacingAndGlyphs" >RSI(14) 28.8742</text>
<rect x="1595" y="585" width="2" height="1" fill="#000"/>
<rect x="1594" y="614" width="1" height="1" fill="#C0C0C0"/>
<rect x="1594" y="654" width="1" height="1" fill="#C0C0C0"/>
<rect x="1595" y="683" width="2" height="1" fill="#000"/>
<text x="1597.49" y="594" font-size="10" fill="#000" stroke="#000" stroke-width="0.15" textLength="15.12" lengthAdjust="spacingAndGlyphs" >100</text>
<text x="1597.10" y="618" font-size="10" fill="#000" stroke="#000" stroke-width="0.15" textLength="10.01" lengthAdjust="spacingAndGlyphs" >70</text>
<text x="1597.10" y="658" font-size="10" fill="#000" stroke="#000" stroke-width="0.15" textLength="10.01" lengthAdjust="spacingAndGlyphs" >30</text>
<text x="1598.50" y="682" font-size="10" fill="#000" stroke="#000" stroke-width="0.15" textLength="4.17" lengthAdjust="spacingAndGlyphs" >0</text>
<g clip-path="url(#cd)" shape-rendering="crispEdges">
<rect x="2" y="711" width="1" height="12" fill="#C0C0C0"/>
<rect x="6" y="713" width="1" height="10" fill="#C0C0C0"/>
<rect x="10" y="718" width="1" height="5" fill="#C0C0C0"/>
<rect x="14" y="720" width="1" height="3" fill="#C0C0C0"/>
<rect x="18" y="722" width="1" height="2" fill="#C0C0C0"/>
<rect x="22" y="722" width="1" height="2" fill="#C0C0C0"/>
<rect x="26" y="722" width="1" height="3" fill="#C0C0C0"/>
<rect x="30" y="722" width="1" height="4" fill="#C0C0C0"/>
<rect x="34" y="722" width="1" height="6" fill="#C0C0C0"/>
<rect x="38" y="722" width="1" height="8" fill="#C0C0C0"/>
<rect x="42" y="722" width="1" height="9" fill="#C0C0C0"/>
<rect x="46" y="722" width="1" height="11" fill="#C0C0C0"/>
<rect x="50" y="722" width="1" height="12" fill="#C0C0C0"/>
<rect x="54" y="722" width="1" height="13" fill="#C0C0C0"/>
<rect x="58" y="722" width="1" height="15" fill="#C0C0C0"/>
<rect x="62" y="722" width="1" height="16" fill="#C0C0C0"/>
<rect x="66" y="722" width="1" height="18" fill="#C0C0C0"/>
<rect x="70" y="722" width="1" height="18" fill="#C0C0C0"/>
<rect x="74" y="722" width="1" height="18" fill="#C0C0C0"/>
<rect x="78" y="722" width="1" height="17" fill="#C0C0C0"/>
<rect x="82" y="722" width="1" height="17" fill="#C0C0C0"/>
<rect x="86" y="722" width="1" height="17" fill="#C0C0C0"/>
<rect x="90" y="722" width="1" height="17" fill="#C0C0C0"/>
<rect x="94" y="722" width="1" height="19" fill="#C0C0C0"/>
<rect x="98" y="722" width="1" height="21" fill="#C0C0C0"/>
<rect x="102" y="722" width="1" height="24" fill="#C0C0C0"/>
<rect x="106" y="722" width="1" height="27" fill="#C0C0C0"/>
<rect x="110" y="722" width="1" height="29" fill="#C0C0C0"/>
<rect x="114" y="722" width="1" height="30" fill="#C0C0C0"/>
<rect x="118" y="722" width="1" height="30" fill="#C0C0C0"/>
<rect x="122" y="722" width="1" height="28" fill="#C0C0C0"/>
<rect x="126" y="722" width="1" height="28" fill="#C0C0C0"/>
<rect x="130" y="722" width="1" height="27" fill="#C0C0C0"/>
<rect x="134" y="722" width="1" height="26" fill="#C0C0C0"/>
<rect x="138" y="722" width="1" height="24" fill="#C0C0C0"/>
<rect x="142" y="722" width="1" height="22" fill="#C0C0C0"/>
<rect x="146" y="722" width="1" height="20" fill="#C0C0C0"/>
<rect x="150" y="722" width="1" height="19" fill="#C0C0C0"/>
<rect x="154" y="722" width="1" height="20" fill="#C0C0C0"/>
<rect x="158" y="722" width="1" height="22" fill="#C0C0C0"/>
<rect x="162" y="722" width="1" height="23" fill="#C0C0C0"/>
<rect x="166" y="722" width="1" height="22" fill="#C0C0C0"/>
<rect x="170" y="722" width="1" height="21" fill="#C0C0C0"/>
<rect x="174" y="722" width="1" height="20" fill="#C0C0C0"/>
<rect x="178" y="722" width="1" height="19" fill="#C0C0C0"/>
<rect x="182" y="722" width="1" height="17" fill="#C0C0C0"/>
<rect x="186" y="722" width="1" height="16" fill="#C0C0C0"/>
<rect x="190" y="722" width="1" height="14" fill="#C0C0C0"/>
<rect x="194" y="722" width="1" height="12" fill="#C0C0C0"/>
<rect x="198" y="722" width="1" height="12" fill="#C0C0C0"/>
<rect x="202" y="722" width="1" height="9" fill="#C0C0C0"/>
<rect x="206" y="722" width="1" height="6" fill="#C0C0C0"/>
<rect x="210" y="722" width="1" height="7" fill="#C0C0C0"/>
<rect x="214" y="722" width="1" height="9" fill="#C0C0C0"/>
<rect x="218" y="722" width="1" height="11" fill="#C0C0C0"/>
<rect x="222" y="722" width="1" height="12" fill="#C0C0C0"/>
<rect x="226" y="722" width="1" height="10" fill="#C0C0C0"/>
<rect x="230" y="722" width="1" height="7" fill="#C0C0C0"/>
<rect x="234" y="722" width="1" height="4" fill="#C0C0C0"/>
<rect x="238" y="722" width="1" height="1" fill="#C0C0C0"/>
<rect x="242" y="719" width="1" height="4" fill="#C0C0C0"/>
<rect x="246" y="717" width="1" height="6" fill="#C0C0C0"/>
<rect x="250" y="716" width="1" height="7" fill="#C0C0C0"/>
<rect x="254" y="715" width="1" height="8" fill="#C0C0C0"/>
<rect x="258" y="713" width="1" height="10" fill="#C0C0C0"/>
<rect x="262" y="711" width="1" height="12" fill="#C0C0C0"/>
<rect x="266" y="709" width="1" height="14" fill="#C0C0C0"/>
<rect x="270" y="708" width="1" height="15" fill="#C0C0C0"/>
<rect x="274" y="707" width="1" height="16" fill="#C0C0C0"/>
<rect x="278" y="706" width="1" height="17" fill="#C0C0C0"/>
<rect x="282" y="705" width="1" height="18" fill="#C0C0C0"/>
<rect x="286" y="707" width="1" height="16" fill="#C0C0C0"/>
<rect x="290" y="709" width="1" height="14" fill="#C0C0C0"/>
<rect x="294" y="710" width="1" height="13" fill="#C0C0C0"/>
<rect x="298" y="712" width="1" height="11" fill="#C0C0C0"/>
<rect x="302" y="713" width="1" height="10" fill="#C0C0C0"/>
<rect x="306" y="718" width="1" height="5" fill="#C0C0C0"/>
<rect x="310" y="722" width="1" height="1" fill="#C0C0C0"/>
<rect x="314" y="722" width="1" height="5" fill="#C0C0C0"/>
<rect x="318" y="722" width="1" height="12" fill="#C0C0C0"/>
<rect x="322" y="722" width="1" height="18" fill="#C0C0C0"/>
<rect x="326" y="722" width="1" height="23" fill="#C0C0C0"/>
<rect x="330" y="722" width="1" height="29" fill="#C0C0C0"/>
<rect x="334" y="722" width="1" height="39" fill="#C0C0C0"/>
<rect x="338" y="722" width="1" height="47" fill="#C0C0C0"/>
<rect x="342" y="722" width="1" height="56" fill="#C0C0C0"/>
<rect x="346" y="722" width="1" height="61" fill="#C0C0C0"/>
<rect x="350" y="722" width="1" height="61" fill="#C0C0C0"/>
<rect x="354" y="722" width="1" height="54" fill="#C0C0C0"/>
<rect x="358" y="722" width="1" height="48" fill="#C0C0C0"/>
<rect x="362" y="722" width="1" height="42" fill="#C0C0C0"/>
<rect x="366" y="722" width="1" height="40" fill="#C0C0C0"/>
<rect x="370" y="722" width="1" height="31" fill="#C0C0C0"/>
<rect x="374" y="722" width="1" height="19" fill="#C0C0C0"/>
<rect x="378" y="722" width="1" height="5" fill="#C0C0C0"/>
<rect x="382" y="713" width="1" height="10" fill="#C0C0C0"/>
<rect x="386" y="703" width="1" height="20" fill="#C0C0C0"/>
<rect x="390" y="697" width="1" height="26" fill="#C0C0C0"/>
<rect x="394" y="694" width="1" height="29" fill="#C0C0C0"/>
<rect x="398" y="694" width="1" height="29" fill="#C0C0C0"/>
<rect x="402" y="699" width="1" height="24" fill="#C0C0C0"/>
<rect x="406" y="708" width="1" height="15" fill="#C0C0C0"/>
<rect x="410" y="716" width="1" height="7" fill="#C0C0C0"/>
<rect x="414" y="720" width="1" height="3" fill="#C0C0C0"/>
<rect x="418" y="721" width="1" height="2" fill="#C0C0C0"/>
<rect x="422" y="720" width="1" height="3" fill="#C0C0C0"/>
<rect x="426" y="717" width="1" height="6" fill="#C0C0C0"/>
<rect x="430" y="712" width="1" height="11" fill="#C0C0C0"/>
<rect x="434" y="710" width="1" height="13" fill="#C0C0C0"/>
<rect x="438" y="707" width="1" height="16" fill="#C0C0C0"/>
<rect x="442" y="708" width="1" height="15" fill="#C0C0C0"/>
<rect x="446" y="709" width="1" height="14" fill="#C0C0C0"/>
<rect x="450" y="712" width="1" height="11" fill="#C0C0C0"/>
<rect x="454" y="715" width="1" height="8" fill="#C0C0C0"/>
<rect x="458" y="717" width="1" height="6" fill="#C0C0C0"/>
<rect x="462" y="718" width="1" height="5" fill="#C0C0C0"/>
<rect x="466" y="722" width="1" height="1" fill="#C0C0C0"/>
<rect x="470" y="722" width="1" height="2" fill="#C0C0C0"/>
<rect x="474" y="722" width="1" height="1" fill="#C0C0C0"/>
<rect x="478" y="722" width="1" height="2" fill="#C0C0C0"/>
<rect x="482" y="722" width="1" height="1" fill="#C0C0C0"/>
<rect x="486" y="722" width="1" height="1" fill="#C0C0C0"/>
<rect x="490" y="721" width="1" height="2" fill="#C0C0C0"/>
<rect x="494" y="720" width="1" height="3" fill="#C0C0C0"/>
<rect x="498" y="718" width="1" height="5" fill="#C0C0C0"/>
<rect x="502" y="715" width="1" height="8" fill="#C0C0C0"/>
<rect x="506" y="713" width="1" height="10" fill="#C0C0C0"/>
<rect x="510" y="712" width="1" height="11" fill="#C0C0C0"/>
<rect x="514" y="711" width="1" height="12" fill="#C0C0C0"/>
<rect x="518" y="710" width="1" height="13" fill="#C0C0C0"/>
<rect x="522" y="713" width="1" height="10" fill="#C0C0C0"/>
<rect x="526" y="719" width="1" height="4" fill="#C0C0C0"/>
<rect x="530" y="722" width="1" height="2" fill="#C0C0C0"/>
<rect x="534" y="722" width="1" height="4" fill="#C0C0C0"/>
<rect x="538" y="722" width="1" height="2" fill="#C0C0C0"/>
<rect x="542" y="720" width="1" height="3" fill="#C0C0C0"/>
<rect x="546" y="718" width="1" height="5" fill="#C0C0C0"/>
<rect x="550" y="718" width="1" height="5" fill="#C0C0C0"/>
<rect x="554" y="718" width="1" height="5" fill="#C0C0C0"/>
<rect x="558" y="718" width="1" height="5" fill="#C0C0C0"/>
<rect x="562" y="719" width="1" height="4" fill="#C0C0C0"/>
<rect x="566" y="720" width="1" height="3" fill="#C0C0C0"/>
<rect x="570" y="719" width="1" height="4" fill="#C0C0C0"/>
<rect x="574" y="718" width="1" height="5" fill="#C0C0C0"/>
<rect x="578" y="718" width="1" height="5" fill="#C0C0C0"/>
<rect x="582" y="718" width="1" height="5" fill="#C0C0C0"/>
<rect x="586" y="718" width="1" height="5" fill="#C0C0C0"/>
<rect x="590" y="721" width="1" height="2" fill="#C0C0C0"/>
<rect x="594" y="721" width="1" height="2" fill="#C0C0C0"/>
<rect x="598" y="720" width="1" height="3" fill="#C0C0C0"/>
<rect x="602" y="719" width="1" height="4" fill="#C0C0C0"/>
<rect x="606" y="720" width="1" height="3" fill="#C0C0C0"/>
<rect x="610" y="722" width="1" height="1" fill="#C0C0C0"/>
<rect x="614" y="722" width="1" height="1" fill="#C0C0C0"/>
<rect x="618" y="722" width="1" height="4" fill="#C0C0C0"/>
<rect x="622" y="722" width="1" height="7" fill="#C0C0C0"/>
<rect x="626" y="722" width="1" height="9" fill="#C0C0C0"/>
<rect x="630" y="722" width="1" height="11" fill="#C0C0C0"/>
<rect x="634" y="722" width="1" height="12" fill="#C0C0C0"/>
<rect x="638" y="722" width="1" height="13" fill="#C0C0C0"/>
<rect x="642" y="722" width="1" height="16" fill="#C0C0C0"/>
<rect x="646" y="722" width="1" height="16" fill="#C0C0C0"/>
<rect x="650" y="722" width="1" height="15" fill="#C0C0C0"/>
<rect x="654" y="722" width="1" height="17" fill="#C0C0C0"/>
<rect x="658" y="722" width="1" height="22" fill="#C0C0C0"/>
<rect x="662" y="722" width="1" height="27" fill="#C0C0C0"/>
<rect x="666" y="722" width="1" height="34" fill="#C0C0C0"/>
<rect x="670" y="722" width="1" height="33" fill="#C0C0C0"/>
<rect x="674" y="722" width="1" height="31" fill="#C0C0C0"/>
<rect x="678" y="722" width="1" height="30" fill="#C0C0C0"/>
<rect x="682" y="722" width="1" height="30" fill="#C0C0C0"/>
<rect x="686" y="722" width="1" height="29" fill="#C0C0C0"/>
<rect x="690" y="722" width="1" height="27" fill="#C0C0C0"/>
<rect x="694" y="722" width="1" height="26" fill="#C0C0C0"/>
<rect x="698" y="722" width="1" height="24" fill="#C0C0C0"/>
<rect x="702" y="722" width="1" height="25" fill="#C0C0C0"/>
<rect x="706" y="722" width="1" height="26" fill="#C0C0C0"/>
<rect x="710" y="722" width="1" height="26" fill="#C0C0C0"/>
<rect x="714" y="722" width="1" height="24" fill="#C0C0C0"/>
<rect x="718" y="722" width="1" height="24" fill="#C0C0C0"/>
<rect x="722" y="722" width="1" height="23" fill="#C0C0C0"/>
<rect x="726" y="722" width="1" height="21" fill="#C0C0C0"/>
<rect x="730" y="722" width="1" height="20" fill="#C0C0C0"/>
<rect x="734" y="722" width="1" height="21" fill="#C0C0C0"/>
<rect x="738" y="722" width="1" height="20" fill="#C0C0C0"/>
<rect x="742" y="722" width="1" height="20" fill="#C0C0C0"/>
<rect x="746" y="722" width="1" height="20" fill="#C0C0C0"/>
<rect x="750" y="722" width="1" height="21" fill="#C0C0C0"/>
<rect x="754" y="722" width="1" height="22" fill="#C0C0C0"/>
<rect x="758" y="722" width="1" height="24" fill="#C0C0C0"/>
<rect x="762" y="722" width="1" height="24" fill="#C0C0C0"/>
<rect x="766" y="722" width="1" height="24" fill="#C0C0C0"/>
<rect x="770" y="722" width="1" height="23" fill="#C0C0C0"/>
<rect x="774" y="722" width="1" height="22" fill="#C0C0C0"/>
<rect x="778" y="722" width="1" height="23" fill="#C0C0C0"/>
<rect x="782" y="722" width="1" height="20" fill="#C0C0C0"/>
<rect x="786" y="722" width="1" height="18" fill="#C0C0C0"/>
<rect x="790" y="722" width="1" height="19" fill="#C0C0C0"/>
<rect x="794" y="722" width="1" height="19" fill="#C0C0C0"/>
<rect x="798" y="722" width="1" height="18" fill="#C0C0C0"/>
<rect x="802" y="722" width="1" height="20" fill="#C0C0C0"/>
<rect x="806" y="722" width="1" height="24" fill="#C0C0C0"/>
<rect x="810" y="722" width="1" height="28" fill="#C0C0C0"/>
<rect x="814" y="722" width="1" height="32" fill="#C0C0C0"/>
<rect x="818" y="722" width="1" height="35" fill="#C0C0C0"/>
<rect x="822" y="722" width="1" height="38" fill="#C0C0C0"/>
<rect x="826" y="722" width="1" height="41" fill="#C0C0C0"/>
<rect x="830" y="722" width="1" height="45" fill="#C0C0C0"/>
<rect x="834" y="722" width="1" height="48" fill="#C0C0C0"/>
<rect x="838" y="722" width="1" height="50" fill="#C0C0C0"/>
<rect x="842" y="722" width="1" height="50" fill="#C0C0C0"/>
<rect x="846" y="722" width="1" height="47" fill="#C0C0C0"/>
<rect x="850" y="722" width="1" height="46" fill="#C0C0C0"/>
<rect x="854" y="722" width="1" height="49" fill="#C0C0C0"/>
<rect x="858" y="722" width="1" height="49" fill="#C0C0C0"/>
<rect x="862" y="722" width="1" height="46" fill="#C0C0C0"/>
<rect x="866" y="722" width="1" height="44" fill="#C0C0C0"/>
<rect x="870" y="722" width="1" height="41" fill="#C0C0C0"/>
<rect x="874" y="722" width="1" height="38" fill="#C0C0C0"/>
<rect x="878" y="722" width="1" height="37" fill="#C0C0C0"/>
<rect x="882" y="722" width="1" height="37" fill="#C0C0C0"/>
<rect x="886" y="722" width="1" height="36" fill="#C0C0C0"/>
<rect x="890" y="722" width="1" height="35" fill="#C0C0C0"/>
<rect x="894" y="722" width="1" height="36" fill="#C0C0C0"/>
<rect x="898" y="722" width="1" height="37" fill="#C0C0C0"/>
<rect x="902" y="722" width="1" height="34" fill="#C0C0C0"/>
<rect x="906" y="722" width="1" height="33" fill="#C0C0C0"/>
<rect x="910" y="722" width="1" height="29" fill="#C0C0C0"/>
<rect x="914" y="722" width="1" height="26" fill="#C0C0C0"/>
<rect x="918" y="722" width="1" height="24" fill="#C0C0C0"/>
<rect x="922" y="722" width="1" height="23" fill="#C0C0C0"/>
<rect x="926" y="722" width="1" height="23" fill="#C0C0C0"/>
<rect x="930" y="722" width="1" height="22" fill="#C0C0C0"/>
<rect x="934" y="722" width="1" height="23" fill="#C0C0C0"/>
<rect x="938" y="722" width="1" height="23" fill="#C0C0C0"/>
<rect x="942" y="722" width="1" height="25" fill="#C0C0C0"/>
<rect x="946" y="722" width="1" height="23" fill="#C0C0C0"/>
<rect x="950" y="722" width="1" height="20" fill="#C0C0C0"/>
<rect x="954" y="722" width="1" height="17" fill="#C0C0C0"/>
<rect x="958" y="722" width="1" height="13" fill="#C0C0C0"/>
<rect x="962" y="722" width="1" height="11" fill="#C0C0C0"/>
<rect x="966" y="722" width="1" height="7" fill="#C0C0C0"/>
<rect x="970" y="722" width="1" height="4" fill="#C0C0C0"/>
<rect x="974" y="722" width="1" height="3" fill="#C0C0C0"/>
<rect x="978" y="722" width="1" height="5" fill="#C0C0C0"/>
<rect x="982" y="722" width="1" height="6" fill="#C0C0C0"/>
<rect x="986" y="722" width="1" height="6" fill="#C0C0C0"/>
<rect x="990" y="722" width="1" height="7" fill="#C0C0C0"/>
<rect x="994" y="722" width="1" height="7" fill="#C0C0C0"/>
<rect x="998" y="722" width="1" height="8" fill="#C0C0C0"/>
<rect x="1002" y="722" width="1" height="7" fill="#C0C0C0"/>
<rect x="1006" y="722" width="1" height="7" fill="#C0C0C0"/>
<rect x="1010" y="722" width="1" height="6" fill="#C0C0C0"/>
<rect x="1014" y="722" width="1" height="3" fill="#C0C0C0"/>
<rect x="1018" y="719" width="1" height="4" fill="#C0C0C0"/>
<rect x="1022" y="714" width="1" height="9" fill="#C0C0C0"/>
<rect x="1026" y="709" width="1" height="14" fill="#C0C0C0"/>
<rect x="1030" y="704" width="1" height="19" fill="#C0C0C0"/>
<rect x="1034" y="701" width="1" height="22" fill="#C0C0C0"/>
<rect x="1038" y="700" width="1" height="23" fill="#C0C0C0"/>
<rect x="1042" y="701" width="1" height="22" fill="#C0C0C0"/>
<rect x="1046" y="703" width="1" height="20" fill="#C0C0C0"/>
<rect x="1050" y="706" width="1" height="17" fill="#C0C0C0"/>
<rect x="1054" y="707" width="1" height="16" fill="#C0C0C0"/>
<rect x="1058" y="707" width="1" height="16" fill="#C0C0C0"/>
<rect x="1062" y="710" width="1" height="13" fill="#C0C0C0"/>
<rect x="1066" y="713" width="1" height="10" fill="#C0C0C0"/>
<rect x="1070" y="715" width="1" height="8" fill="#C0C0C0"/>
<rect x="1074" y="716" width="1" height="7" fill="#C0C0C0"/>
<rect x="1078" y="720" width="1" height="3" fill="#C0C0C0"/>
<rect x="1082" y="722" width="1" height="2" fill="#C0C0C0"/>
<rect x="1086" y="722" width="1" height="5" fill="#C0C0C0"/>
<rect x="1090" y="722" width="1" height="5" fill="#C0C0C0"/>
<rect x="1094" y="722" width="1" height="5" fill="#C0C0C0"/>
<rect x="1098" y="722" width="1" height="5" fill="#C0C0C0"/>
<rect x="1102" y="722" width="1" height="4" fill="#C0C0C0"/>
<rect x="1106" y="722" width="1" height="4" fill="#C0C0C0"/>
<rect x="1110" y="722" width="1" height="6" fill="#C0C0C0"/>
<rect x="1114" y="722" width="1" height="9" fill="#C0C0C0"/>
<rect x="1118" y="722" width="1" height="12" fill="#C0C0C0"/>
<rect x="1122" y="722" width="1" height="13" fill="#C0C0C0"/>
<rect x="1126" y="722" width="1" height="15" fill="#C0C0C0"/>
<rect x="1130" y="722" width="1" height="16" fill="#C0C0C0"/>
<rect x="1134" y="722" width="1" height="16" fill="#C0C0C0"/>
<rect x="1138" y="722" width="1" height="16" fill="#C0C0C0"/>
<rect x="1142" y="722" width="1" height="14" fill="#C0C0C0"/>
<rect x="1146" y="722" width="1" height="10" fill="#C0C0C0"/>
<rect x="1150" y="722" width="1" height="6" fill="#C0C0C0"/>
<rect x="1154" y="722" width="1" height="3" fill="#C0C0C0"/>
<rect x="1158" y="720" width="1" height="3" fill="#C0C0C0"/>
<rect x="1162" y="721" width="1" height="2" fill="#C0C0C0"/>
<rect x="1166" y="722" width="1" height="1" fill="#C0C0C0"/>
<rect x="1170" y="722" width="1" height="4" fill="#C0C0C0"/>
<rect x="1174" y="722" width="1" height="9" fill="#C0C0C0"/>
<rect x="1178" y="722" width="1" height="13" fill="#C0C0C0"/>
<rect x="1182" y="722" width="1" height="11" fill="#C0C0C0"/>
<rect x="1186" y="722" width="1" height="8" fill="#C0C0C0"/>
<rect x="1190" y="722" width="1" height="4" fill="#C0C0C0"/>
<rect x="1194" y="722" width="1" height="2" fill="#C0C0C0"/>
<rect x="1198" y="722" width="1" height="1" fill="#C0C0C0"/>
<rect x="1202" y="721" width="1" height="2" fill="#C0C0C0"/>
<rect x="1206" y="721" width="1" height="2" fill="#C0C0C0"/>
<rect x="1210" y="721" width="1" height="2" fill="#C0C0C0"/>
<rect x="1214" y="722" width="1" height="2" fill="#C0C0C0"/>
<rect x="1218" y="722" width="1" height="1" fill="#C0C0C0"/>
<rect x="1222" y="722" width="1" height="1" fill="#C0C0C0"/>
<rect x="1226" y="722" width="1" height="1" fill="#C0C0C0"/>
<rect x="1230" y="721" width="1" height="2" fill="#C0C0C0"/>
<rect x="1234" y="721" width="1" height="2" fill="#C0C0C0"/>
<rect x="1238" y="722" width="1" height="1" fill="#C0C0C0"/>
<rect x="1242" y="722" width="1" height="3" fill="#C0C0C0"/>
<rect x="1246" y="722" width="1" height="6" fill="#C0C0C0"/>
<rect x="1250" y="722" width="1" height="8" fill="#C0C0C0"/>
<rect x="1254" y="722" width="1" height="9" fill="#C0C0C0"/>
<rect x="1258" y="722" width="1" height="12" fill="#C0C0C0"/>
<rect x="1262" y="722" width="1" height="16" fill="#C0C0C0"/>
<rect x="1266" y="722" width="1" height="20" fill="#C0C0C0"/>
<path d="M1056 704h2v1h-2zM1061 704h3v1h-3zM413 705h3v1h-3zM1055 705h1v1h-1zM409 706h1v1h-1zM1049 706h3v1h-3zM1067 706h2v1h-2zM407 707h2v1h-2zM419 707h2v1h-2zM1069 707h1v1h-1zM290 708h3v1h-3zM296 708h3v1h-3zM302 708h1v1h-1zM421 708h1v1h-1zM284 709h3v1h-3zM303 709h2v1h-2zM1044 709h2v1h-2zM1073 709h2v1h-2zM280 710h1v1h-1zM425 710h2v1h-2zM1043 710h1v1h-1zM1075 710h1v1h-1zM278 711h2v1h-2zM308 711h3v1h-3zM404 711h1v1h-1zM427 711h1v1h-1zM403 712h1v1h-1zM455 712h3v1h-3zM461 712h3v1h-3zM1079 712h2v1h-2zM272 713h3v1h-3zM402 713h1v1h-1zM431 713h2v1h-2zM449 713h3v1h-3zM1039 713h1v1h-1zM1081 713h1v1h-1zM8 714h3v1h-3zM14 714h3v1h-3zM314 714h1v1h-1zM433 714h1v1h-1zM444 714h2v1h-2zM467 714h2v1h-2zM1038 714h1v1h-1zM3 715h2v1h-2zM20 715h3v1h-3zM267 715h2v1h-2zM315 715h1v1h-1zM437 715h3v1h-3zM443 715h1v1h-1zM469 715h1v1h-1zM521 715h3v1h-3zM527 715h3v1h-3zM1037 715h1v1h-1zM1085 715h2v1h-2zM2 716h1v1h-1zM26 716h1v1h-1zM266 716h1v1h-1zM316 716h1v1h-1zM473 716h2v1h-2zM516 716h2v1h-2zM533 716h3v1h-3zM1087 716h1v1h-1zM27 717h2v1h-2zM400 717h1v1h-1zM475 717h1v1h-1zM515 717h1v1h-1zM539 717h3v1h-3zM509 718h3v1h-3zM545 718h3v1h-3zM576 718h2v1h-2zM581 718h3v1h-3zM587 718h1v1h-1zM1032 718h2v1h-2zM1091 718h2v1h-2zM399 718h1v2h-1zM32 719h1v1h-1zM261 719h2v1h-2zM320 719h2v1h-2zM479 719h2v1h-2zM551 719h1v1h-1zM569 719h3v1h-3zM575 719h1v1h-1zM588 719h2v1h-2zM593 719h3v1h-3zM599 719h3v1h-3zM605 719h3v1h-3zM1031 719h1v1h-1zM1093 719h1v1h-1zM33 720h2v1h-2zM260 720h1v1h-1zM322 720h1v1h-1zM481 720h1v1h-1zM504 720h2v1h-2zM552 720h2v1h-2zM557 720h3v1h-3zM563 720h3v1h-3zM611 720h3v1h-3zM485 721h3v1h-3zM491 721h1v1h-1zM497 721h3v1h-3zM503 721h1v1h-1zM617 721h3v1h-3zM1097 721h3v1h-3zM38 722h1v1h-1zM255 722h2v1h-2zM492 722h2v1h-2zM623 722h1v1h-1zM1027 722h1v1h-1zM1223 722h3v1h-3zM1229 722h3v1h-3zM1235 722h3v1h-3zM1241 722h3v1h-3zM39 723h2v1h-2zM254 723h1v1h-1zM397 723h1v1h-1zM624 723h2v1h-2zM1025 723h2v1h-2zM1103 723h2v1h-2zM1217 723h3v1h-3zM1247 723h3v1h-3zM326 724h1v1h-1zM629 724h2v1h-2zM1105 724h1v1h-1zM1212 724h2v1h-2zM1253 724h3v1h-3zM396 724h1v2h-1zM44 725h1v1h-1zM249 725h2v1h-2zM327 725h1v1h-1zM631 725h1v1h-1zM1020 725h2v1h-2zM1109 725h3v1h-3zM1211 725h1v1h-1zM45 726h2v1h-2zM248 726h1v1h-1zM328 726h1v1h-1zM635 726h1v1h-1zM1019 726h1v1h-1zM1115 726h1v1h-1zM1175 726h3v1h-3zM1181 726h3v1h-3zM1187 726h3v1h-3zM1205 726h3v1h-3zM1259 726h2v1h-2zM50 727h1v1h-1zM244 727h1v1h-1zM636 727h2v1h-2zM995 727h3v1h-3zM1001 727h3v1h-3zM1007 727h3v1h-3zM1013 727h3v1h-3zM1116 727h2v1h-2zM1169 727h3v1h-3zM1193 727h3v1h-3zM1199 727h3v1h-3zM1261 727h1v1h-1zM51 728h2v1h-2zM242 728h2v1h-2zM989 728h3v1h-3zM1121 728h3v1h-3zM1165 728h1v1h-1zM232 729h1v1h-1zM236 729h3v1h-3zM394 729h1v1h-1zM641 729h2v1h-2zM985 729h1v1h-1zM1127 729h1v1h-1zM1163 729h2v1h-2zM1265 729h2v1h-2zM56 730h3v1h-3zM230 730h2v1h-2zM331 730h1v1h-1zM643 730h1v1h-1zM983 730h2v1h-2zM1128 730h2v1h-2zM393 730h1v2h-1zM220 731h1v1h-1zM224 731h3v1h-3zM647 731h1v1h-1zM1159 731h1v1h-1zM332 731h1v2h-1zM62 732h2v1h-2zM212 732h3v1h-3zM218 732h2v1h-2zM648 732h2v1h-2zM979 732h1v1h-1zM1133 732h3v1h-3zM1157 732h2v1h-2zM64 733h1v1h-1zM977 733h2v1h-2zM1139 733h1v1h-1zM1152 733h2v1h-2zM68 734h3v1h-3zM207 734h2v1h-2zM653 734h2v1h-2zM1140 734h2v1h-2zM1145 734h3v1h-3zM1151 734h1v1h-1zM206 735h1v1h-1zM391 735h1v1h-1zM655 735h1v1h-1zM973 735h1v1h-1zM74 736h3v1h-3zM201 736h2v1h-2zM335 736h1v1h-1zM971 736h2v1h-2zM390 736h1v2h-1zM80 737h3v1h-3zM200 737h1v1h-1zM336 737h1v1h-1zM659 737h2v1h-2zM86 738h3v1h-3zM196 738h1v1h-1zM337 738h1v1h-1zM661 738h1v1h-1zM967 738h1v1h-1zM92 739h3v1h-3zM98 739h2v1h-2zM194 739h2v1h-2zM965 739h2v1h-2zM100 740h1v1h-1zM188 740h3v1h-3zM665 740h2v1h-2zM104 741h3v1h-3zM182 741h3v1h-3zM388 741h1v1h-1zM667 741h1v1h-1zM803 741h3v1h-3zM960 741h2v1h-2zM110 742h2v1h-2zM170 742h3v1h-3zM176 742h3v1h-3zM339 742h1v1h-1zM744 742h2v1h-2zM749 742h3v1h-3zM755 742h3v1h-3zM761 742h3v1h-3zM792 742h2v1h-2zM797 742h3v1h-3zM809 742h3v1h-3zM959 742h1v1h-1zM387 742h1v2h-1zM112 743h1v1h-1zM164 743h3v1h-3zM671 743h1v1h-1zM743 743h1v1h-1zM767 743h3v1h-3zM773 743h3v1h-3zM785 743h3v1h-3zM791 743h1v1h-1zM953 743h3v1h-3zM340 743h1v2h-1zM116 744h1v1h-1zM158 744h3v1h-3zM672 744h2v1h-2zM732 744h2v1h-2zM737 744h3v1h-3zM779 744h3v1h-3zM815 744h2v1h-2zM948 744h2v1h-2zM117 745h2v1h-2zM152 745h3v1h-3zM725 745h3v1h-3zM731 745h1v1h-1zM817 745h1v1h-1zM941 745h3v1h-3zM947 745h1v1h-1zM122 746h2v1h-2zM148 746h1v1h-1zM677 746h2v1h-2zM720 746h2v1h-2zM937 746h1v1h-1zM124 747h1v1h-1zM146 747h2v1h-2zM679 747h1v1h-1zM713 747h3v1h-3zM719 747h1v1h-1zM821 747h2v1h-2zM935 747h2v1h-2zM385 747h1v2h-1zM128 748h3v1h-3zM140 748h3v1h-3zM683 748h1v1h-1zM707 748h3v1h-3zM823 748h1v1h-1zM343 748h1v2h-1zM134 749h3v1h-3zM384 749h1v1h-1zM684 749h2v1h-2zM701 749h3v1h-3zM929 749h3v1h-3zM344 750h1v1h-1zM689 750h3v1h-3zM696 750h2v1h-2zM695 751h1v1h-1zM827 751h2v1h-2zM924 751h2v1h-2zM829 752h1v1h-1zM923 752h1v1h-1zM917 753h3v1h-3zM382 753h1v2h-1zM347 754h1v2h-1zM381 755h1v1h-1zM833 755h1v1h-1zM912 755h2v1h-2zM348 756h1v1h-1zM834 756h1v1h-1zM911 756h1v1h-1zM835 757h1v1h-1zM905 757h3v1h-3zM900 758h2v1h-2zM899 759h1v1h-1zM379 759h1v2h-1zM350 760h1v1h-1zM839 760h1v1h-1zM893 760h3v1h-3zM351 761h1v1h-1zM378 761h1v1h-1zM840 761h2v1h-2zM889 761h1v1h-1zM352 762h1v1h-1zM887 762h2v1h-2zM845 764h3v1h-3zM881 764h3v1h-3zM877 765h1v1h-1zM375 765h1v2h-1zM356 766h1v1h-1zM851 766h2v1h-2zM875 766h2v1h-2zM357 767h1v1h-1zM374 767h1v1h-1zM853 767h1v1h-1zM358 768h1v1h-1zM857 768h3v1h-3zM869 768h3v1h-3zM863 769h3v1h-3zM362 770h2v1h-2zM368 770h3v1h-3zM364 771h1v1h-1z" fill="#FF0000"/>
</g>
<text x="5.16" y="700" font-size="10" fill="#000" stroke="#000" stroke-width="0.15" textLength="154.44" lengthAdjust="spacingAndGlyphs" >MACD(12,26,9) -0.003325 -0.001306</text>
<rect x="1595" y="689" width="1" height="1" fill="#000"/>
<rect x="1595" y="722" width="1" height="1" fill="#000"/>
<rect x="1595" y="787" width="1" height="1" fill="#000"/>
<text x="1598.50" y="698" font-size="10" fill="#000" stroke="#000" stroke-width="0.15" textLength="38.44" lengthAdjust="spacingAndGlyphs" >0.005818</text>
<text x="1598.30" y="726" font-size="10" fill="#000" stroke="#000" stroke-width="0.15" textLength="17.23" lengthAdjust="spacingAndGlyphs" >0.00</text>
<text x="1598.20" y="785" font-size="10" fill="#000" stroke="#000" stroke-width="0.15" textLength="42.08" lengthAdjust="spacingAndGlyphs" >-0.011514</text>
<rect x="2" y="789" width="1" height="3" fill="#000"/>
<text x="0.70" y="801" font-size="10" fill="#000" stroke="#000" stroke-width="0.15" textLength="54.03" lengthAdjust="spacingAndGlyphs" >30 Nov 2019</text>
<rect x="66" y="789" width="1" height="3" fill="#000"/>
<text x="64.58" y="801" font-size="10" fill="#000" stroke="#000" stroke-width="0.15" textLength="52.06" lengthAdjust="spacingAndGlyphs" >19 Dec 2019</text>
<rect x="130" y="789" width="1" height="3" fill="#000"/>
<text x="129.60" y="801" font-size="10" fill="#000" stroke="#000" stroke-width="0.15" textLength="43.56" lengthAdjust="spacingAndGlyphs" >7 Jan 2020</text>
<rect x="194" y="789" width="1" height="3" fill="#000"/>
<text x="193.20" y="801" font-size="10" fill="#000" stroke="#000" stroke-width="0.15" textLength="49.66" lengthAdjust="spacingAndGlyphs" >25 Jan 2020</text>
<rect x="258" y="789" width="1" height="3" fill="#000"/>
<text x="256.27" y="801" font-size="10" fill="#000" stroke="#000" stroke-width="0.15" textLength="52.50" lengthAdjust="spacingAndGlyphs" >13 Feb 2020</text>
<rect x="322" y="789" width="1" height="3" fill="#000"/>
<text x="321.80" y="801" font-size="10" fill="#000" stroke="#000" stroke-width="0.15" textLength="45.34" lengthAdjust="spacingAndGlyphs" >3 Mar 2020</text>
<rect x="386" y="789" width="1" height="3" fill="#000"/>
<text x="385.40" y="801" font-size="10" fill="#000" stroke="#000" stroke-width="0.15" textLength="51.44" lengthAdjust="spacingAndGlyphs" >21 Mar 2020</text>
<rect x="450" y="789" width="1" height="3" fill="#000"/>
<text x="449.20" y="801" font-size="10" fill="#000" stroke="#000" stroke-width="0.15" textLength="46.06" lengthAdjust="spacingAndGlyphs" >9 Apr 2020</text>
<rect x="514" y="789" width="1" height="3" fill="#000"/>
<text x="513.30" y="801" font-size="10" fill="#000" stroke="#000" stroke-width="0.15" textLength="50.54" lengthAdjust="spacingAndGlyphs" >28 Apr 2020</text>
<rect x="578" y="789" width="1" height="3" fill="#000"/>
<text x="576.65" y="801" font-size="10" fill="#000" stroke="#000" stroke-width="0.15" textLength="54.99" lengthAdjust="spacingAndGlyphs" >16 May 2020</text>
<rect x="642" y="789" width="1" height="3" fill="#000"/>
<text x="641.10" y="801" font-size="10" fill="#000" stroke="#000" stroke-width="0.15" textLength="44.05" lengthAdjust="spacingAndGlyphs" >4 Jun 2020</text>
<rect x="706" y="789" width="1" height="3" fill="#000"/>
<text x="705.20" y="801" font-size="10" fill="#000" stroke="#000" stroke-width="0.15" textLength="49.66" lengthAdjust="spacingAndGlyphs" >23 Jun 2020</text>
<rect x="770" y="789" width="1" height="3" fill="#000"/>
<text x="768.37" y="801" font-size="10" fill="#000" stroke="#000" stroke-width="0.15" textLength="47.30" lengthAdjust="spacingAndGlyphs" >11 Jul 2020</text>
<rect x="834" y="789" width="1" height="3" fill="#000"/>
<text x="832.90" y="801" font-size="10" fill="#000" stroke="#000" stroke-width="0.15" textLength="46.65" lengthAdjust="spacingAndGlyphs" >30 Jul 2020</text>
<rect x="898" y="789" width="1" height="3" fill="#000"/>
<text x="896.45" y="801" font-size="10" fill="#000" stroke="#000" stroke-width="0.15" textLength="53.21" lengthAdjust="spacingAndGlyphs" >18 Aug 2020</text>
<rect x="962" y="789" width="1" height="3" fill="#000"/>
<text x="961.00" y="801" font-size="10" fill="#000" stroke="#000" stroke-width="0.15" textLength="46.86" lengthAdjust="spacingAndGlyphs" >5 Sep 2020</text>
<rect x="1026" y="789" width="1" height="3" fill="#000"/>
<text x="1025.30" y="801" font-size="10" fill="#000" stroke="#000" stroke-width="0.15" textLength="51.05" lengthAdjust="spacingAndGlyphs" >24 Sep 2020</text>
<rect x="1090" y="789" width="1" height="3" fill="#000"/>
<text x="1088.47" y="801" font-size="10" fill="#000" stroke="#000" stroke-width="0.15" textLength="50.85" lengthAdjust="spacingAndGlyphs" >13 Oct 2020</text>
<rect x="1154" y="789" width="1" height="3" fill="#000"/>
<text x="1153.30" y="801" font-size="10" fill="#000" stroke="#000" stroke-width="0.15" textLength="49.93" lengthAdjust="spacingAndGlyphs" >31 Oct 2020</text>
<rect x="1218" y="789" width="1" height="3" fill="#000"/>
<text x="1216.24" y="801" font-size="10" fill="#000" stroke="#000" stroke-width="0.15" textLength="54.49" lengthAdjust="spacingAndGlyphs" >19 Nov 2020</text>
<rect x="0" y="809" width="1636" height="1" fill="#E3E3E3"/>
<rect x="0" y="811" width="1636" height="1" fill="#000"/>
<rect x="0" y="812" width="1636" height="1" fill="#FFFFFF"/>
<rect x="0" y="813" width="1636" height="18" fill="#F0F0F0"/>
<rect x="0" y="831" width="1636" height="1" fill="#FFFFFF"/>
<rect x="0" y="832" width="1636" height="3" fill="#F0F0F0"/>
<rect x="107" y="811" width="100" height="19" fill="#000"/>
<rect x="108" y="810" width="98" height="19" fill="#FFFFFF"/>
<rect x="207" y="812" width="1" height="18" fill="#B4B4B4"/>
<rect x="208" y="813" width="1" height="17" fill="#F8F8F8"/>
<rect x="107" y="830" width="101" height="1" fill="#E4E4E4"/>
<text x="15.05" y="826" font-size="12.5" fill="#6D6D6D" textLength="79.79" lengthAdjust="spacingAndGlyphs" >EURUSD,Daily</text>
<text x="116.84" y="826" font-size="12.5" fill="#000" textLength="78.82" lengthAdjust="spacingAndGlyphs" >USDCHF,Daily</text>
<text x="217.80" y="826" font-size="12.5" fill="#6D6D6D" textLength="82.45" lengthAdjust="spacingAndGlyphs" >AUDUSD,Daily</text>
<text x="321.02" y="826" font-size="12.5" fill="#6D6D6D" textLength="82.43" lengthAdjust="spacingAndGlyphs" >USDCAD,Daily</text>
<text x="424.22" y="826" font-size="12.5" fill="#6D6D6D" textLength="83.32" lengthAdjust="spacingAndGlyphs" >USDCNH,Daily</text>
<text x="530.04" y="826" font-size="12.5" fill="#6D6D6D" textLength="81.01" lengthAdjust="spacingAndGlyphs" >EURUSD,Daily</text>
<text x="635.00" y="826" font-size="12.5" fill="#6D6D6D" textLength="68.24" lengthAdjust="spacingAndGlyphs" >GBPUSD,H4</text>
<text x="726.00" y="826" font-size="12.5" fill="#6D6D6D" textLength="68.52" lengthAdjust="spacingAndGlyphs" >XAUUSD,H1</text>
<text x="817.52" y="826" font-size="12.5" fill="#6D6D6D" textLength="49.52" lengthAdjust="spacingAndGlyphs" >HK50,H1</text>
<text x="889.41" y="826" font-size="12.5" fill="#6D6D6D" textLength="57.18" lengthAdjust="spacingAndGlyphs" >UK100,H1</text>
<text x="969.51" y="826" font-size="12.5" fill="#6D6D6D" textLength="56.88" lengthAdjust="spacingAndGlyphs" >UK100,H1</text>
<text x="1050.30" y="826" font-size="12.5" fill="#6D6D6D" textLength="56.93" lengthAdjust="spacingAndGlyphs" >GER30,H1</text>
<text x="1128.45" y="826" font-size="12.5" fill="#6D6D6D" textLength="55.19" lengthAdjust="spacingAndGlyphs" >FRA40,H1</text>
<text x="1204.30" y="826" font-size="12.5" fill="#6D6D6D" textLength="63.60" lengthAdjust="spacingAndGlyphs" >USOil,Daily</text>
<text x="1288.35" y="826" font-size="12.5" fill="#6D6D6D" textLength="63.71" lengthAdjust="spacingAndGlyphs" >USDJPY,H1</text>
<text x="1372.22" y="826" font-size="12.5" fill="#6D6D6D" textLength="59.13" lengthAdjust="spacingAndGlyphs" >DJ30,Daily</text>
<text x="1453.20" y="826" font-size="12.5" fill="#6D6D6D" textLength="78.80" lengthAdjust="spacingAndGlyphs" >CHINA300,H1</text>
<text x="1552.83" y="826" font-size="12.5" fill="#6D6D6D" textLength="50.66" lengthAdjust="spacingAndGlyphs" >USOil,H1</text>
<rect x="311" y="814" width="1" height="14" fill="#606060"/>
<rect x="415" y="814" width="1" height="14" fill="#606060"/>
<rect x="519" y="814" width="1" height="14" fill="#606060"/>
<rect x="623" y="814" width="1" height="14" fill="#606060"/>
<rect x="715" y="814" width="1" height="14" fill="#606060"/>
<rect x="808" y="814" width="1" height="14" fill="#606060"/>
<rect x="879" y="814" width="1" height="14" fill="#606060"/>
<rect x="959" y="814" width="1" height="14" fill="#606060"/>
<rect x="1039" y="814" width="1" height="14" fill="#606060"/>
<rect x="1119" y="814" width="1" height="14" fill="#606060"/>
<rect x="1195" y="814" width="1" height="14" fill="#606060"/>
<rect x="1279" y="814" width="1" height="14" fill="#606060"/>
<rect x="1363" y="814" width="1" height="14" fill="#606060"/>
<rect x="1443" y="814" width="1" height="14" fill="#606060"/>
<rect x="1543" y="814" width="1" height="14" fill="#606060"/>
<path d="M1613.4 816.8 L1609.8 820 L1613.4 823.2 Z" fill="#8C8C8C"/>
<path d="M1628.6 816.6 L1632.4 820 L1628.6 823.4 Z" fill="#000"/></svg>
</body></html>
